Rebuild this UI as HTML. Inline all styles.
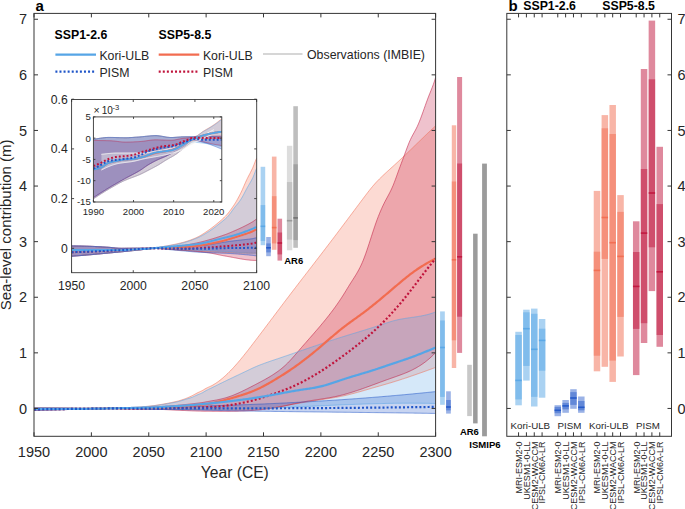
<!DOCTYPE html>
<html><head><meta charset="utf-8"><style>html,body{margin:0;padding:0;background:#fff;}svg{display:block;}</style></head><body>
<svg width="685" height="509" viewBox="0 0 685 509" font-family="Liberation Sans, sans-serif">
<rect x="0" y="0" width="685" height="509" fill="#fff"/>
<defs><clipPath id="cm"><rect x="34" y="13.4" width="401.6" height="422.90000000000003"/></clipPath><clipPath id="ci"><rect x="71.6" y="99.5" width="185.1" height="173.2"/></clipPath><clipPath id="cs"><rect x="93.4" y="116.9" width="128.4" height="85.1"/></clipPath></defs>
<g clip-path="url(#cm)">
<path d="M34.00,407.91 L35.15,407.91 L36.30,407.92 L37.44,407.92 L38.59,407.92 L39.74,407.93 L40.88,407.94 L42.03,407.94 L43.18,407.95 L44.33,407.96 L45.48,407.96 L46.62,407.97 L47.77,407.98 L48.92,407.99 L50.06,408.00 L51.21,408.01 L52.36,408.01 L53.51,408.03 L54.66,408.04 L55.80,408.05 L56.95,408.06 L58.10,408.08 L59.24,408.09 L60.39,408.11 L61.54,408.12 L62.69,408.14 L63.84,408.16 L64.98,408.17 L66.13,408.19 L67.28,408.21 L68.42,408.23 L69.57,408.25 L70.72,408.27 L71.87,408.30 L73.02,408.33 L74.16,408.36 L75.31,408.39 L76.46,408.41 L77.60,408.43 L78.75,408.45 L79.90,408.45 L81.05,408.45 L82.19,408.45 L83.34,408.45 L84.49,408.45 L85.64,408.44 L86.78,408.44 L87.93,408.44 L89.08,408.43 L90.23,408.43 L91.38,408.43 L92.52,408.43 L93.67,408.43 L94.82,408.42 L95.97,408.42 L97.11,408.42 L98.26,408.42 L99.41,408.42 L100.55,408.42 L101.70,408.43 L102.85,408.43 L104.00,408.43 L105.14,408.43 L106.29,408.43 L107.44,408.43 L108.59,408.43 L109.73,408.43 L110.88,408.41 L112.03,408.37 L113.18,408.33 L114.33,408.29 L115.47,408.23 L116.62,408.18 L117.77,408.12 L118.91,408.07 L120.06,408.01 L121.21,407.96 L122.36,407.91 L123.50,407.86 L124.65,407.81 L125.80,407.76 L126.95,407.71 L128.09,407.65 L129.24,407.59 L130.39,407.54 L131.54,407.47 L132.69,407.41 L133.83,407.35 L134.98,407.28 L136.13,407.21 L137.27,407.14 L138.42,407.07 L139.57,406.99 L140.72,406.91 L141.87,406.82 L143.01,406.73 L144.16,406.64 L145.31,406.54 L146.45,406.43 L147.60,406.32 L148.75,406.20 L149.90,406.08 L151.05,405.95 L152.19,405.81 L153.34,405.66 L154.49,405.50 L155.63,405.33 L156.78,405.16 L157.93,404.97 L159.08,404.79 L160.22,404.60 L161.37,404.41 L162.52,404.21 L163.67,404.01 L164.81,403.81 L165.96,403.60 L167.11,403.38 L168.26,403.16 L169.41,402.93 L170.55,402.70 L171.70,402.46 L172.85,402.22 L174.00,401.98 L175.14,401.73 L176.29,401.46 L177.44,401.18 L178.59,400.88 L179.73,400.55 L180.88,400.21 L182.03,399.84 L183.17,399.46 L184.32,399.05 L185.47,398.63 L186.62,398.19 L187.76,397.72 L188.91,397.22 L190.06,396.70 L191.21,396.16 L192.35,395.59 L193.50,394.98 L194.65,394.34 L195.80,393.71 L196.94,393.11 L198.09,392.54 L199.24,392.01 L200.39,391.49 L201.53,390.94 L202.68,390.35 L203.83,389.66 L204.98,388.94 L206.12,388.30 L207.27,387.74 L208.42,387.20 L209.57,386.68 L210.72,386.16 L211.86,385.62 L213.01,384.97 L214.16,384.28 L215.31,383.57 L216.45,382.81 L217.60,382.02 L218.75,381.19 L219.89,380.32 L221.04,379.42 L222.19,378.48 L223.34,377.51 L224.48,376.50 L225.63,375.47 L226.78,374.40 L227.93,373.30 L229.07,372.17 L230.22,371.02 L231.37,369.83 L232.52,368.62 L233.66,367.38 L234.81,366.12 L235.96,364.83 L237.11,363.52 L238.25,362.19 L239.40,360.83 L240.55,359.46 L241.70,358.07 L242.84,356.67 L243.99,355.24 L245.14,353.81 L246.29,352.36 L247.44,350.90 L248.58,349.43 L249.73,347.95 L250.88,346.46 L252.03,344.96 L253.17,343.46 L254.32,341.96 L255.47,340.45 L256.62,338.94 L257.76,337.43 L258.91,335.91 L260.06,334.40 L261.20,332.88 L262.35,331.36 L263.50,329.83 L264.65,328.31 L265.79,326.79 L266.94,325.26 L268.09,323.74 L269.24,322.21 L270.38,320.68 L271.53,319.15 L272.68,317.63 L273.83,316.10 L274.98,314.57 L276.12,313.05 L277.27,311.52 L278.42,310.00 L279.56,308.47 L280.71,306.95 L281.86,305.43 L283.01,303.91 L284.15,302.39 L285.30,300.88 L286.45,299.37 L287.60,297.86 L288.75,296.35 L289.89,294.84 L291.04,293.34 L292.19,291.83 L293.33,290.33 L294.48,288.84 L295.63,287.34 L296.78,285.84 L297.93,284.35 L299.07,282.86 L300.22,281.36 L301.37,279.87 L302.51,278.38 L303.66,276.89 L304.81,275.40 L305.96,273.91 L307.11,272.43 L308.25,270.94 L309.40,269.45 L310.55,267.96 L311.69,266.47 L312.84,264.99 L313.99,263.50 L315.14,262.01 L316.28,260.52 L317.43,259.03 L318.58,257.54 L319.73,256.04 L320.88,254.55 L322.02,253.06 L323.17,251.56 L324.32,250.06 L325.46,248.56 L326.61,247.06 L327.76,245.56 L328.91,244.06 L330.06,242.55 L331.20,241.04 L332.35,239.53 L333.50,238.02 L334.64,236.50 L335.79,234.98 L336.94,233.46 L338.09,231.94 L339.24,230.42 L340.38,228.89 L341.53,227.37 L342.68,225.84 L343.82,224.31 L344.97,222.78 L346.12,221.25 L347.27,219.72 L348.41,218.19 L349.56,216.65 L350.71,215.12 L351.86,213.59 L353.00,212.05 L354.15,210.52 L355.30,208.99 L356.45,207.46 L357.59,205.92 L358.74,204.39 L359.89,202.86 L361.04,201.33 L362.19,199.81 L363.33,198.28 L364.48,196.75 L365.63,195.23 L366.77,193.73 L367.92,192.23 L369.07,190.76 L370.22,189.31 L371.37,187.89 L372.51,186.50 L373.66,185.16 L374.81,183.85 L375.95,182.58 L377.10,181.36 L378.25,180.16 L379.40,179.00 L380.55,177.86 L381.69,176.75 L382.84,175.66 L383.99,174.58 L385.13,173.51 L386.28,172.45 L387.43,171.40 L388.58,170.36 L389.72,169.32 L390.87,168.28 L392.02,167.24 L393.17,166.20 L394.31,165.15 L395.46,164.10 L396.61,163.05 L397.76,161.99 L398.90,160.92 L400.05,159.85 L401.20,158.77 L402.35,157.69 L403.50,156.60 L404.64,155.51 L405.79,154.41 L406.94,153.32 L408.08,152.22 L409.23,151.11 L410.38,150.00 L411.53,148.90 L412.68,147.79 L413.82,146.67 L414.97,145.56 L416.12,144.45 L417.26,143.34 L418.41,142.22 L419.56,141.11 L420.71,140.00 L421.85,138.89 L423.00,137.78 L424.15,136.67 L425.30,135.57 L426.44,134.47 L427.59,133.37 L428.74,132.27 L429.89,131.18 L431.03,130.09 L432.18,129.00 L433.33,127.93 L434.48,126.85 L435.62,125.78 L435.62,367.43 L434.48,367.85 L433.33,368.27 L432.18,368.69 L431.03,369.11 L429.89,369.53 L428.74,369.95 L427.59,370.36 L426.44,370.78 L425.30,371.19 L424.15,371.60 L423.00,372.01 L421.85,372.42 L420.71,372.83 L419.56,373.24 L418.41,373.64 L417.26,374.04 L416.12,374.44 L414.97,374.84 L413.82,375.24 L412.68,375.64 L411.53,376.03 L410.38,376.42 L409.23,376.81 L408.08,377.20 L406.94,377.59 L405.79,377.97 L404.64,378.35 L403.50,378.73 L402.35,379.10 L401.20,379.48 L400.05,379.85 L398.90,380.21 L397.76,380.58 L396.61,380.94 L395.46,381.30 L394.31,381.66 L393.17,382.01 L392.02,382.36 L390.87,382.71 L389.72,383.05 L388.58,383.39 L387.43,383.73 L386.28,384.07 L385.13,384.40 L383.99,384.73 L382.84,385.06 L381.69,385.39 L380.55,385.72 L379.40,386.05 L378.25,386.38 L377.10,386.71 L375.95,387.04 L374.81,387.37 L373.66,387.70 L372.51,388.03 L371.37,388.37 L370.22,388.70 L369.07,389.04 L367.92,389.37 L366.77,389.71 L365.63,390.04 L364.48,390.37 L363.33,390.71 L362.19,391.04 L361.04,391.36 L359.89,391.69 L358.74,392.01 L357.59,392.33 L356.45,392.64 L355.30,392.95 L354.15,393.26 L353.00,393.56 L351.86,393.86 L350.71,394.15 L349.56,394.44 L348.41,394.72 L347.27,394.99 L346.12,395.26 L344.97,395.52 L343.82,395.77 L342.68,396.02 L341.53,396.25 L340.38,396.49 L339.24,396.71 L338.09,396.93 L336.94,397.15 L335.79,397.35 L334.64,397.56 L333.50,397.76 L332.35,397.95 L331.20,398.15 L330.06,398.34 L328.91,398.52 L327.76,398.71 L326.61,398.89 L325.46,399.07 L324.32,399.25 L323.17,399.42 L322.02,399.60 L320.88,399.78 L319.73,399.95 L318.58,400.13 L317.43,400.31 L316.28,400.48 L315.14,400.66 L313.99,400.84 L312.84,401.02 L311.69,401.20 L310.55,401.38 L309.40,401.56 L308.25,401.74 L307.11,401.92 L305.96,402.11 L304.81,402.30 L303.66,402.48 L302.51,402.67 L301.37,402.86 L300.22,403.06 L299.07,403.25 L297.93,403.45 L296.78,403.65 L295.63,403.85 L294.48,404.05 L293.33,404.25 L292.19,404.45 L291.04,404.65 L289.89,404.85 L288.75,405.05 L287.60,405.24 L286.45,405.43 L285.30,405.62 L284.15,405.81 L283.01,406.00 L281.86,406.18 L280.71,406.35 L279.56,406.53 L278.42,406.70 L277.27,406.87 L276.12,407.03 L274.98,407.19 L273.83,407.34 L272.68,407.49 L271.53,407.64 L270.38,407.78 L269.24,407.91 L268.09,408.04 L266.94,408.16 L265.79,408.28 L264.65,408.39 L263.50,408.50 L262.35,408.60 L261.20,408.69 L260.06,408.78 L258.91,408.87 L257.76,408.94 L256.62,409.02 L255.47,409.08 L254.32,409.15 L253.17,409.20 L252.03,409.26 L250.88,409.30 L249.73,409.35 L248.58,409.39 L247.44,409.42 L246.29,409.46 L245.14,409.49 L243.99,409.51 L242.84,409.53 L241.70,409.55 L240.55,409.57 L239.40,409.58 L238.25,409.59 L237.11,409.60 L235.96,409.61 L234.81,409.61 L233.66,409.61 L232.52,409.61 L231.37,409.61 L230.22,409.61 L229.07,409.61 L227.93,409.60 L226.78,409.60 L225.63,409.59 L224.48,409.59 L223.34,409.58 L222.19,409.57 L221.04,409.57 L219.89,409.56 L218.75,409.55 L217.60,409.55 L216.45,409.54 L215.31,409.54 L214.16,409.53 L213.01,409.53 L211.86,409.53 L210.72,409.54 L209.57,409.54 L208.42,409.55 L207.27,409.55 L206.12,409.56 L204.98,409.56 L203.83,409.56 L202.68,409.56 L201.53,409.55 L200.39,409.55 L199.24,409.54 L198.09,409.54 L196.94,409.53 L195.80,409.52 L194.65,409.51 L193.50,409.50 L192.35,409.50 L191.21,409.49 L190.06,409.47 L188.91,409.46 L187.76,409.45 L186.62,409.44 L185.47,409.43 L184.32,409.42 L183.17,409.40 L182.03,409.39 L180.88,409.38 L179.73,409.37 L178.59,409.35 L177.44,409.34 L176.29,409.33 L175.14,409.32 L174.00,409.31 L172.85,409.30 L171.70,409.28 L170.55,409.27 L169.41,409.26 L168.26,409.25 L167.11,409.24 L165.96,409.23 L164.81,409.22 L163.67,409.20 L162.52,409.19 L161.37,409.18 L160.22,409.17 L159.08,409.16 L157.93,409.14 L156.78,409.13 L155.63,409.12 L154.49,409.10 L153.34,409.09 L152.19,409.08 L151.05,409.07 L149.90,409.05 L148.75,409.04 L147.60,409.02 L146.45,409.01 L145.31,409.00 L144.16,408.98 L143.01,408.97 L141.87,408.95 L140.72,408.94 L139.57,408.92 L138.42,408.91 L137.27,408.89 L136.13,408.88 L134.98,408.86 L133.83,408.84 L132.69,408.82 L131.54,408.80 L130.39,408.78 L129.24,408.76 L128.09,408.73 L126.95,408.71 L125.80,408.69 L124.65,408.67 L123.50,408.64 L122.36,408.62 L121.21,408.60 L120.06,408.58 L118.91,408.56 L117.77,408.54 L116.62,408.52 L115.47,408.51 L114.33,408.49 L113.18,408.48 L112.03,408.47 L110.88,408.47 L109.73,408.46 L108.59,408.46 L107.44,408.47 L106.29,408.51 L105.14,408.55 L104.00,408.60 L102.85,408.64 L101.70,408.68 L100.55,408.72 L99.41,408.76 L98.26,408.79 L97.11,408.83 L95.97,408.85 L94.82,408.88 L93.67,408.91 L92.52,408.93 L91.38,408.96 L90.23,408.99 L89.08,409.02 L87.93,409.05 L86.78,409.08 L85.64,409.10 L84.49,409.13 L83.34,409.16 L82.19,409.19 L81.05,409.22 L79.90,409.25 L78.75,409.27 L77.60,409.30 L76.46,409.33 L75.31,409.35 L74.16,409.38 L73.02,409.40 L71.87,409.43 L70.72,409.45 L69.57,409.48 L68.42,409.51 L67.28,409.53 L66.13,409.56 L64.98,409.59 L63.84,409.61 L62.69,409.64 L61.54,409.67 L60.39,409.69 L59.24,409.72 L58.10,409.74 L56.95,409.77 L55.80,409.80 L54.66,409.82 L53.51,409.85 L52.36,409.87 L51.21,409.90 L50.06,409.92 L48.92,409.94 L47.77,409.97 L46.62,409.99 L45.48,410.01 L44.33,410.04 L43.18,410.06 L42.03,410.08 L40.88,410.10 L39.74,410.12 L38.59,410.15 L37.44,410.17 L36.30,410.19 L35.15,410.21 L34.00,410.23 Z" fill="rgb(242,108,80)" fill-opacity="0.25" stroke="none"/>
<path d="M34.00,407.91 L35.15,407.91 L36.30,407.92 L37.44,407.92 L38.59,407.92 L39.74,407.93 L40.88,407.94 L42.03,407.94 L43.18,407.95 L44.33,407.96 L45.48,407.96 L46.62,407.97 L47.77,407.98 L48.92,407.99 L50.06,408.00 L51.21,408.01 L52.36,408.01 L53.51,408.03 L54.66,408.04 L55.80,408.05 L56.95,408.06 L58.10,408.08 L59.24,408.09 L60.39,408.11 L61.54,408.12 L62.69,408.14 L63.84,408.16 L64.98,408.17 L66.13,408.19 L67.28,408.21 L68.42,408.23 L69.57,408.25 L70.72,408.27 L71.87,408.30 L73.02,408.33 L74.16,408.36 L75.31,408.39 L76.46,408.41 L77.60,408.43 L78.75,408.45 L79.90,408.45 L81.05,408.45 L82.19,408.45 L83.34,408.45 L84.49,408.45 L85.64,408.44 L86.78,408.44 L87.93,408.44 L89.08,408.43 L90.23,408.43 L91.38,408.43 L92.52,408.43 L93.67,408.43 L94.82,408.42 L95.97,408.42 L97.11,408.42 L98.26,408.42 L99.41,408.42 L100.55,408.42 L101.70,408.43 L102.85,408.43 L104.00,408.43 L105.14,408.43 L106.29,408.43 L107.44,408.43 L108.59,408.43 L109.73,408.43 L110.88,408.43 L112.03,408.42 L113.18,408.41 L114.33,408.40 L115.47,408.39 L116.62,408.38 L117.77,408.36 L118.91,408.34 L120.06,408.33 L121.21,408.31 L122.36,408.29 L123.50,408.27 L124.65,408.25 L125.80,408.23 L126.95,408.21 L128.09,408.18 L129.24,408.15 L130.39,408.12 L131.54,408.08 L132.69,408.05 L133.83,408.01 L134.98,407.96 L136.13,407.92 L137.27,407.87 L138.42,407.82 L139.57,407.77 L140.72,407.72 L141.87,407.67 L143.01,407.62 L144.16,407.56 L145.31,407.51 L146.45,407.45 L147.60,407.39 L148.75,407.34 L149.90,407.28 L151.05,407.22 L152.19,407.16 L153.34,407.09 L154.49,407.03 L155.63,406.96 L156.78,406.89 L157.93,406.82 L159.08,406.74 L160.22,406.67 L161.37,406.59 L162.52,406.51 L163.67,406.43 L164.81,406.34 L165.96,406.26 L167.11,406.17 L168.26,406.09 L169.41,406.00 L170.55,405.91 L171.70,405.82 L172.85,405.72 L174.00,405.63 L175.14,405.54 L176.29,405.44 L177.44,405.34 L178.59,405.24 L179.73,405.13 L180.88,405.02 L182.03,404.91 L183.17,404.79 L184.32,404.67 L185.47,404.54 L186.62,404.42 L187.76,404.30 L188.91,404.17 L190.06,404.05 L191.21,403.92 L192.35,403.79 L193.50,403.66 L194.65,403.52 L195.80,403.39 L196.94,403.24 L198.09,403.10 L199.24,402.95 L200.39,402.80 L201.53,402.64 L202.68,402.48 L203.83,402.29 L204.98,402.08 L206.12,401.87 L207.27,401.65 L208.42,401.44 L209.57,401.22 L210.72,401.01 L211.86,400.81 L213.01,400.61 L214.16,400.41 L215.31,400.20 L216.45,399.99 L217.60,399.76 L218.75,399.53 L219.89,399.28 L221.04,399.02 L222.19,398.74 L223.34,398.45 L224.48,398.15 L225.63,397.82 L226.78,397.48 L227.93,397.11 L229.07,396.73 L230.22,396.33 L231.37,395.91 L232.52,395.48 L233.66,395.03 L234.81,394.56 L235.96,394.08 L237.11,393.59 L238.25,393.08 L239.40,392.56 L240.55,392.03 L241.70,391.50 L242.84,390.95 L243.99,390.39 L245.14,389.83 L246.29,389.26 L247.44,388.68 L248.58,388.10 L249.73,387.51 L250.88,386.92 L252.03,386.33 L253.17,385.73 L254.32,385.14 L255.47,384.54 L256.62,383.94 L257.76,383.34 L258.91,382.74 L260.06,382.14 L261.20,381.53 L262.35,380.91 L263.50,380.29 L264.65,379.66 L265.79,379.02 L266.94,378.37 L268.09,377.70 L269.24,377.02 L270.38,376.33 L271.53,375.63 L272.68,374.90 L273.83,374.16 L274.98,373.40 L276.12,372.62 L277.27,371.82 L278.42,370.99 L279.56,370.14 L280.71,369.25 L281.86,368.33 L283.01,367.37 L284.15,366.37 L285.30,365.32 L286.45,364.23 L287.60,363.10 L288.75,361.92 L289.89,360.72 L291.04,359.49 L292.19,358.23 L293.33,356.95 L294.48,355.65 L295.63,354.33 L296.78,353.01 L297.93,351.67 L299.07,350.34 L300.22,349.01 L301.37,347.68 L302.51,346.35 L303.66,345.03 L304.81,343.72 L305.96,342.41 L307.11,341.10 L308.25,339.79 L309.40,338.48 L310.55,337.17 L311.69,335.86 L312.84,334.55 L313.99,333.24 L315.14,331.91 L316.28,330.59 L317.43,329.25 L318.58,327.91 L319.73,326.57 L320.88,325.21 L322.02,323.84 L323.17,322.46 L324.32,321.07 L325.46,319.66 L326.61,318.24 L327.76,316.80 L328.91,315.35 L330.06,313.87 L331.20,312.38 L332.35,310.86 L333.50,309.32 L334.64,307.75 L335.79,306.16 L336.94,304.54 L338.09,302.89 L339.24,301.21 L340.38,299.49 L341.53,297.75 L342.68,295.97 L343.82,294.15 L344.97,292.30 L346.12,290.42 L347.27,288.54 L348.41,286.66 L349.56,284.80 L350.71,282.97 L351.86,281.18 L353.00,279.40 L354.15,277.61 L355.30,275.78 L356.45,273.89 L357.59,271.92 L358.74,269.84 L359.89,267.63 L361.04,265.27 L362.19,262.73 L363.33,259.99 L364.48,257.03 L365.63,253.90 L366.77,250.61 L367.92,247.20 L369.07,243.71 L370.22,240.17 L371.37,236.60 L372.51,233.05 L373.66,229.55 L374.81,226.13 L375.95,222.82 L377.10,219.65 L378.25,216.63 L379.40,213.76 L380.55,211.02 L381.69,208.40 L382.84,205.91 L383.99,203.54 L385.13,201.28 L386.28,199.11 L387.43,196.98 L388.58,194.84 L389.72,192.65 L390.87,190.36 L392.02,187.92 L393.17,185.28 L394.31,182.40 L395.46,179.32 L396.61,176.13 L397.76,172.93 L398.90,169.77 L400.05,166.66 L401.20,163.59 L402.35,160.52 L403.50,157.45 L404.64,154.34 L405.79,151.21 L406.94,148.12 L408.08,145.13 L409.23,142.28 L410.38,139.66 L411.53,137.29 L412.68,135.12 L413.82,133.04 L414.97,130.98 L416.12,128.82 L417.26,126.49 L418.41,123.91 L419.56,121.12 L420.71,118.16 L421.85,115.07 L423.00,111.89 L424.15,108.67 L425.30,105.43 L426.44,102.23 L427.59,99.11 L428.74,96.10 L429.89,93.22 L431.03,90.40 L432.18,87.52 L433.33,84.47 L434.48,81.13 L435.62,77.38 L435.62,352.56 L434.48,353.76 L433.33,354.92 L432.18,356.03 L431.03,357.11 L429.89,358.14 L428.74,359.14 L427.59,360.10 L426.44,361.02 L425.30,361.91 L424.15,362.77 L423.00,363.59 L421.85,364.38 L420.71,365.15 L419.56,365.88 L418.41,366.58 L417.26,367.26 L416.12,367.92 L414.97,368.55 L413.82,369.15 L412.68,369.74 L411.53,370.30 L410.38,370.85 L409.23,371.38 L408.08,371.89 L406.94,372.38 L405.79,372.86 L404.64,373.33 L403.50,373.78 L402.35,374.23 L401.20,374.66 L400.05,375.09 L398.90,375.51 L397.76,375.92 L396.61,376.33 L395.46,376.74 L394.31,377.14 L393.17,377.54 L392.02,377.94 L390.87,378.34 L389.72,378.75 L388.58,379.16 L387.43,379.57 L386.28,379.98 L385.13,380.40 L383.99,380.82 L382.84,381.24 L381.69,381.66 L380.55,382.08 L379.40,382.51 L378.25,382.93 L377.10,383.36 L375.95,383.78 L374.81,384.21 L373.66,384.63 L372.51,385.05 L371.37,385.48 L370.22,385.90 L369.07,386.32 L367.92,386.73 L366.77,387.15 L365.63,387.56 L364.48,387.97 L363.33,388.38 L362.19,388.79 L361.04,389.19 L359.89,389.58 L358.74,389.97 L357.59,390.36 L356.45,390.74 L355.30,391.12 L354.15,391.49 L353.00,391.86 L351.86,392.22 L350.71,392.58 L349.56,392.92 L348.41,393.27 L347.27,393.60 L346.12,393.93 L344.97,394.25 L343.82,394.56 L342.68,394.86 L341.53,395.15 L340.38,395.44 L339.24,395.72 L338.09,395.98 L336.94,396.24 L335.79,396.49 L334.64,396.73 L333.50,396.96 L332.35,397.18 L331.20,397.40 L330.06,397.61 L328.91,397.81 L327.76,398.01 L326.61,398.20 L325.46,398.39 L324.32,398.58 L323.17,398.76 L322.02,398.94 L320.88,399.12 L319.73,399.30 L318.58,399.47 L317.43,399.65 L316.28,399.82 L315.14,400.00 L313.99,400.18 L312.84,400.36 L311.69,400.54 L310.55,400.72 L309.40,400.90 L308.25,401.09 L307.11,401.28 L305.96,401.48 L304.81,401.68 L303.66,401.88 L302.51,402.10 L301.37,402.31 L300.22,402.54 L299.07,402.77 L297.93,403.00 L296.78,403.24 L295.63,403.49 L294.48,403.74 L293.33,403.99 L292.19,404.25 L291.04,404.50 L289.89,404.76 L288.75,405.02 L287.60,405.27 L286.45,405.52 L285.30,405.77 L284.15,406.02 L283.01,406.26 L281.86,406.50 L280.71,406.73 L279.56,406.95 L278.42,407.17 L277.27,407.38 L276.12,407.58 L274.98,407.78 L273.83,407.97 L272.68,408.15 L271.53,408.33 L270.38,408.50 L269.24,408.66 L268.09,408.82 L266.94,408.97 L265.79,409.12 L264.65,409.26 L263.50,409.40 L262.35,409.53 L261.20,409.65 L260.06,409.77 L258.91,409.88 L257.76,409.99 L256.62,410.09 L255.47,410.19 L254.32,410.29 L253.17,410.38 L252.03,410.46 L250.88,410.54 L249.73,410.61 L248.58,410.68 L247.44,410.75 L246.29,410.81 L245.14,410.87 L243.99,410.93 L242.84,410.98 L241.70,411.02 L240.55,411.07 L239.40,411.10 L238.25,411.14 L237.11,411.17 L235.96,411.20 L234.81,411.23 L233.66,411.25 L232.52,411.27 L231.37,411.29 L230.22,411.30 L229.07,411.31 L227.93,411.32 L226.78,411.33 L225.63,411.33 L224.48,411.34 L223.34,411.33 L222.19,411.33 L221.04,411.33 L219.89,411.32 L218.75,411.31 L217.60,411.30 L216.45,411.29 L215.31,411.28 L214.16,411.27 L213.01,411.25 L211.86,411.23 L210.72,411.21 L209.57,411.19 L208.42,411.18 L207.27,411.17 L206.12,411.16 L204.98,411.16 L203.83,411.16 L202.68,411.15 L201.53,411.13 L200.39,411.11 L199.24,411.08 L198.09,411.05 L196.94,411.02 L195.80,410.98 L194.65,410.94 L193.50,410.90 L192.35,410.86 L191.21,410.81 L190.06,410.76 L188.91,410.71 L187.76,410.66 L186.62,410.61 L185.47,410.56 L184.32,410.51 L183.17,410.45 L182.03,410.40 L180.88,410.35 L179.73,410.30 L178.59,410.25 L177.44,410.20 L176.29,410.15 L175.14,410.11 L174.00,410.05 L172.85,410.00 L171.70,409.94 L170.55,409.88 L169.41,409.82 L168.26,409.76 L167.11,409.70 L165.96,409.65 L164.81,409.59 L163.67,409.54 L162.52,409.50 L161.37,409.46 L160.22,409.42 L159.08,409.39 L157.93,409.35 L156.78,409.32 L155.63,409.29 L154.49,409.26 L153.34,409.23 L152.19,409.20 L151.05,409.18 L149.90,409.15 L148.75,409.12 L147.60,409.10 L146.45,409.07 L145.31,409.05 L144.16,409.03 L143.01,409.00 L141.87,408.98 L140.72,408.96 L139.57,408.94 L138.42,408.92 L137.27,408.89 L136.13,408.87 L134.98,408.85 L133.83,408.83 L132.69,408.81 L131.54,408.78 L130.39,408.76 L129.24,408.73 L128.09,408.71 L126.95,408.69 L125.80,408.67 L124.65,408.64 L123.50,408.62 L122.36,408.60 L121.21,408.58 L120.06,408.56 L118.91,408.55 L117.77,408.53 L116.62,408.51 L115.47,408.50 L114.33,408.49 L113.18,408.48 L112.03,408.47 L110.88,408.47 L109.73,408.46 L108.59,408.46 L107.44,408.47 L106.29,408.51 L105.14,408.55 L104.00,408.60 L102.85,408.64 L101.70,408.68 L100.55,408.72 L99.41,408.76 L98.26,408.79 L97.11,408.83 L95.97,408.85 L94.82,408.88 L93.67,408.91 L92.52,408.93 L91.38,408.96 L90.23,408.99 L89.08,409.02 L87.93,409.05 L86.78,409.08 L85.64,409.10 L84.49,409.13 L83.34,409.16 L82.19,409.19 L81.05,409.22 L79.90,409.25 L78.75,409.27 L77.60,409.30 L76.46,409.33 L75.31,409.35 L74.16,409.38 L73.02,409.40 L71.87,409.43 L70.72,409.45 L69.57,409.48 L68.42,409.51 L67.28,409.53 L66.13,409.56 L64.98,409.59 L63.84,409.61 L62.69,409.64 L61.54,409.67 L60.39,409.69 L59.24,409.72 L58.10,409.74 L56.95,409.77 L55.80,409.80 L54.66,409.82 L53.51,409.85 L52.36,409.87 L51.21,409.90 L50.06,409.92 L48.92,409.94 L47.77,409.97 L46.62,409.99 L45.48,410.01 L44.33,410.04 L43.18,410.06 L42.03,410.08 L40.88,410.10 L39.74,410.12 L38.59,410.15 L37.44,410.17 L36.30,410.19 L35.15,410.21 L34.00,410.23 Z" fill="rgb(192,20,60)" fill-opacity="0.26" stroke="none"/>
<path d="M34.00,407.91 L35.15,407.91 L36.30,407.92 L37.44,407.92 L38.59,407.92 L39.74,407.93 L40.88,407.94 L42.03,407.94 L43.18,407.95 L44.33,407.96 L45.48,407.96 L46.62,407.97 L47.77,407.98 L48.92,407.99 L50.06,408.00 L51.21,408.01 L52.36,408.01 L53.51,408.03 L54.66,408.04 L55.80,408.05 L56.95,408.06 L58.10,408.08 L59.24,408.09 L60.39,408.11 L61.54,408.12 L62.69,408.14 L63.84,408.16 L64.98,408.17 L66.13,408.19 L67.28,408.21 L68.42,408.23 L69.57,408.25 L70.72,408.27 L71.87,408.30 L73.02,408.33 L74.16,408.36 L75.31,408.39 L76.46,408.41 L77.60,408.43 L78.75,408.45 L79.90,408.45 L81.05,408.45 L82.19,408.45 L83.34,408.45 L84.49,408.45 L85.64,408.44 L86.78,408.44 L87.93,408.44 L89.08,408.43 L90.23,408.43 L91.38,408.43 L92.52,408.43 L93.67,408.43 L94.82,408.42 L95.97,408.42 L97.11,408.42 L98.26,408.42 L99.41,408.42 L100.55,408.42 L101.70,408.43 L102.85,408.43 L104.00,408.43 L105.14,408.43 L106.29,408.43 L107.44,408.43 L108.59,408.43 L109.73,408.43 L110.88,408.41 L112.03,408.38 L113.18,408.34 L114.33,408.29 L115.47,408.24 L116.62,408.19 L117.77,408.14 L118.91,408.08 L120.06,408.04 L121.21,407.99 L122.36,407.95 L123.50,407.91 L124.65,407.87 L125.80,407.83 L126.95,407.79 L128.09,407.74 L129.24,407.69 L130.39,407.64 L131.54,407.59 L132.69,407.53 L133.83,407.47 L134.98,407.40 L136.13,407.33 L137.27,407.26 L138.42,407.18 L139.57,407.10 L140.72,407.02 L141.87,406.94 L143.01,406.85 L144.16,406.76 L145.31,406.66 L146.45,406.56 L147.60,406.46 L148.75,406.35 L149.90,406.23 L151.05,406.11 L152.19,405.99 L153.34,405.86 L154.49,405.71 L155.63,405.57 L156.78,405.41 L157.93,405.25 L159.08,405.09 L160.22,404.92 L161.37,404.75 L162.52,404.57 L163.67,404.38 L164.81,404.18 L165.96,403.98 L167.11,403.78 L168.26,403.56 L169.41,403.35 L170.55,403.13 L171.70,402.91 L172.85,402.70 L174.00,402.48 L175.14,402.25 L176.29,402.02 L177.44,401.77 L178.59,401.50 L179.73,401.21 L180.88,400.88 L182.03,400.51 L183.17,400.12 L184.32,399.74 L185.47,399.37 L186.62,399.03 L187.76,398.70 L188.91,398.36 L190.06,398.00 L191.21,397.61 L192.35,397.16 L193.50,396.67 L194.65,396.15 L195.80,395.62 L196.94,395.10 L198.09,394.61 L199.24,394.14 L200.39,393.66 L201.53,393.16 L202.68,392.61 L203.83,391.94 L204.98,391.22 L206.12,390.56 L207.27,389.97 L208.42,389.40 L209.57,388.84 L210.72,388.29 L211.86,387.75 L213.01,387.18 L214.16,386.61 L215.31,386.04 L216.45,385.48 L217.60,384.91 L218.75,384.34 L219.89,383.78 L221.04,383.21 L222.19,382.65 L223.34,382.09 L224.48,381.53 L225.63,380.97 L226.78,380.41 L227.93,379.86 L229.07,379.31 L230.22,378.75 L231.37,378.21 L232.52,377.66 L233.66,377.11 L234.81,376.57 L235.96,376.02 L237.11,375.48 L238.25,374.93 L239.40,374.39 L240.55,373.85 L241.70,373.30 L242.84,372.76 L243.99,372.21 L245.14,371.67 L246.29,371.12 L247.44,370.57 L248.58,370.02 L249.73,369.47 L250.88,368.93 L252.03,368.39 L253.17,367.86 L254.32,367.33 L255.47,366.83 L256.62,366.33 L257.76,365.85 L258.91,365.39 L260.06,364.93 L261.20,364.49 L262.35,364.05 L263.50,363.63 L264.65,363.21 L265.79,362.80 L266.94,362.39 L268.09,361.99 L269.24,361.60 L270.38,361.21 L271.53,360.82 L272.68,360.43 L273.83,360.04 L274.98,359.66 L276.12,359.27 L277.27,358.88 L278.42,358.49 L279.56,358.10 L280.71,357.71 L281.86,357.32 L283.01,356.93 L284.15,356.54 L285.30,356.15 L286.45,355.75 L287.60,355.36 L288.75,354.97 L289.89,354.57 L291.04,354.18 L292.19,353.78 L293.33,353.39 L294.48,352.99 L295.63,352.60 L296.78,352.20 L297.93,351.81 L299.07,351.41 L300.22,351.02 L301.37,350.62 L302.51,350.23 L303.66,349.83 L304.81,349.44 L305.96,349.04 L307.11,348.65 L308.25,348.25 L309.40,347.86 L310.55,347.47 L311.69,347.07 L312.84,346.68 L313.99,346.29 L315.14,345.90 L316.28,345.51 L317.43,345.12 L318.58,344.73 L319.73,344.34 L320.88,343.96 L322.02,343.57 L323.17,343.18 L324.32,342.80 L325.46,342.42 L326.61,342.03 L327.76,341.65 L328.91,341.27 L330.06,340.89 L331.20,340.52 L332.35,340.14 L333.50,339.76 L334.64,339.39 L335.79,339.02 L336.94,338.65 L338.09,338.28 L339.24,337.91 L340.38,337.54 L341.53,337.18 L342.68,336.82 L343.82,336.46 L344.97,336.10 L346.12,335.74 L347.27,335.39 L348.41,335.03 L349.56,334.68 L350.71,334.33 L351.86,333.98 L353.00,333.63 L354.15,333.28 L355.30,332.93 L356.45,332.58 L357.59,332.23 L358.74,331.88 L359.89,331.53 L361.04,331.18 L362.19,330.83 L363.33,330.48 L364.48,330.13 L365.63,329.77 L366.77,329.42 L367.92,329.06 L369.07,328.70 L370.22,328.34 L371.37,327.98 L372.51,327.62 L373.66,327.25 L374.81,326.88 L375.95,326.51 L377.10,326.14 L378.25,325.76 L379.40,325.38 L380.55,324.99 L381.69,324.60 L382.84,324.21 L383.99,323.82 L385.13,323.44 L386.28,323.05 L387.43,322.67 L388.58,322.30 L389.72,321.94 L390.87,321.58 L392.02,321.24 L393.17,320.92 L394.31,320.61 L395.46,320.31 L396.61,320.04 L397.76,319.78 L398.90,319.53 L400.05,319.30 L401.20,319.09 L402.35,318.88 L403.50,318.68 L404.64,318.50 L405.79,318.32 L406.94,318.14 L408.08,317.97 L409.23,317.81 L410.38,317.65 L411.53,317.48 L412.68,317.32 L413.82,317.16 L414.97,316.99 L416.12,316.82 L417.26,316.64 L418.41,316.45 L419.56,316.26 L420.71,316.06 L421.85,315.84 L423.00,315.62 L424.15,315.38 L425.30,315.12 L426.44,314.85 L427.59,314.56 L428.74,314.25 L429.89,313.93 L431.03,313.58 L432.18,313.20 L433.33,312.81 L434.48,312.38 L435.62,311.94 L435.62,403.52 L434.48,403.50 L433.33,403.47 L432.18,403.44 L431.03,403.42 L429.89,403.39 L428.74,403.37 L427.59,403.35 L426.44,403.33 L425.30,403.32 L424.15,403.30 L423.00,403.29 L421.85,403.27 L420.71,403.26 L419.56,403.25 L418.41,403.24 L417.26,403.23 L416.12,403.23 L414.97,403.22 L413.82,403.22 L412.68,403.21 L411.53,403.21 L410.38,403.21 L409.23,403.21 L408.08,403.21 L406.94,403.22 L405.79,403.22 L404.64,403.23 L403.50,403.23 L402.35,403.24 L401.20,403.25 L400.05,403.26 L398.90,403.27 L397.76,403.28 L396.61,403.29 L395.46,403.31 L394.31,403.32 L393.17,403.34 L392.02,403.36 L390.87,403.37 L389.72,403.39 L388.58,403.41 L387.43,403.43 L386.28,403.46 L385.13,403.48 L383.99,403.50 L382.84,403.53 L381.69,403.55 L380.55,403.58 L379.40,403.61 L378.25,403.63 L377.10,403.66 L375.95,403.69 L374.81,403.72 L373.66,403.75 L372.51,403.79 L371.37,403.82 L370.22,403.85 L369.07,403.89 L367.92,403.92 L366.77,403.96 L365.63,403.99 L364.48,404.03 L363.33,404.07 L362.19,404.11 L361.04,404.15 L359.89,404.18 L358.74,404.22 L357.59,404.27 L356.45,404.31 L355.30,404.35 L354.15,404.39 L353.00,404.43 L351.86,404.48 L350.71,404.52 L349.56,404.57 L348.41,404.61 L347.27,404.66 L346.12,404.70 L344.97,404.75 L343.82,404.80 L342.68,404.84 L341.53,404.89 L340.38,404.94 L339.24,404.99 L338.09,405.04 L336.94,405.09 L335.79,405.14 L334.64,405.19 L333.50,405.24 L332.35,405.29 L331.20,405.34 L330.06,405.39 L328.91,405.44 L327.76,405.49 L326.61,405.54 L325.46,405.60 L324.32,405.65 L323.17,405.70 L322.02,405.75 L320.88,405.81 L319.73,405.86 L318.58,405.91 L317.43,405.97 L316.28,406.02 L315.14,406.07 L313.99,406.13 L312.84,406.18 L311.69,406.23 L310.55,406.29 L309.40,406.34 L308.25,406.39 L307.11,406.45 L305.96,406.50 L304.81,406.55 L303.66,406.61 L302.51,406.66 L301.37,406.72 L300.22,406.77 L299.07,406.82 L297.93,406.88 L296.78,406.93 L295.63,406.98 L294.48,407.03 L293.33,407.09 L292.19,407.14 L291.04,407.19 L289.89,407.24 L288.75,407.30 L287.60,407.35 L286.45,407.40 L285.30,407.45 L284.15,407.50 L283.01,407.55 L281.86,407.60 L280.71,407.65 L279.56,407.70 L278.42,407.75 L277.27,407.80 L276.12,407.85 L274.98,407.90 L273.83,407.95 L272.68,407.99 L271.53,408.04 L270.38,408.09 L269.24,408.13 L268.09,408.18 L266.94,408.23 L265.79,408.27 L264.65,408.32 L263.50,408.36 L262.35,408.40 L261.20,408.45 L260.06,408.49 L258.91,408.53 L257.76,408.57 L256.62,408.61 L255.47,408.65 L254.32,408.69 L253.17,408.73 L252.03,408.77 L250.88,408.81 L249.73,408.84 L248.58,408.88 L247.44,408.91 L246.29,408.95 L245.14,408.98 L243.99,409.02 L242.84,409.05 L241.70,409.08 L240.55,409.11 L239.40,409.14 L238.25,409.17 L237.11,409.20 L235.96,409.23 L234.81,409.25 L233.66,409.28 L232.52,409.31 L231.37,409.33 L230.22,409.35 L229.07,409.38 L227.93,409.40 L226.78,409.42 L225.63,409.44 L224.48,409.46 L223.34,409.47 L222.19,409.49 L221.04,409.51 L219.89,409.52 L218.75,409.53 L217.60,409.55 L216.45,409.56 L215.31,409.57 L214.16,409.58 L213.01,409.59 L211.86,409.59 L210.72,409.59 L209.57,409.59 L208.42,409.59 L207.27,409.59 L206.12,409.58 L204.98,409.57 L203.83,409.56 L202.68,409.55 L201.53,409.55 L200.39,409.54 L199.24,409.53 L198.09,409.52 L196.94,409.50 L195.80,409.49 L194.65,409.47 L193.50,409.46 L192.35,409.44 L191.21,409.42 L190.06,409.41 L188.91,409.39 L187.76,409.37 L186.62,409.35 L185.47,409.33 L184.32,409.31 L183.17,409.29 L182.03,409.27 L180.88,409.25 L179.73,409.23 L178.59,409.21 L177.44,409.19 L176.29,409.18 L175.14,409.16 L174.00,409.15 L172.85,409.13 L171.70,409.12 L170.55,409.10 L169.41,409.09 L168.26,409.08 L167.11,409.07 L165.96,409.06 L164.81,409.05 L163.67,409.03 L162.52,409.02 L161.37,409.01 L160.22,409.00 L159.08,408.99 L157.93,408.98 L156.78,408.97 L155.63,408.96 L154.49,408.95 L153.34,408.94 L152.19,408.93 L151.05,408.92 L149.90,408.91 L148.75,408.90 L147.60,408.88 L146.45,408.87 L145.31,408.86 L144.16,408.85 L143.01,408.84 L141.87,408.83 L140.72,408.82 L139.57,408.81 L138.42,408.80 L137.27,408.78 L136.13,408.77 L134.98,408.76 L133.83,408.74 L132.69,408.73 L131.54,408.71 L130.39,408.70 L129.24,408.68 L128.09,408.66 L126.95,408.64 L125.80,408.63 L124.65,408.61 L123.50,408.59 L122.36,408.58 L121.21,408.56 L120.06,408.55 L118.91,408.53 L117.77,408.52 L116.62,408.51 L115.47,408.49 L114.33,408.49 L113.18,408.48 L112.03,408.47 L110.88,408.47 L109.73,408.46 L108.59,408.46 L107.44,408.47 L106.29,408.51 L105.14,408.55 L104.00,408.60 L102.85,408.64 L101.70,408.68 L100.55,408.72 L99.41,408.76 L98.26,408.79 L97.11,408.83 L95.97,408.85 L94.82,408.88 L93.67,408.91 L92.52,408.93 L91.38,408.96 L90.23,408.99 L89.08,409.02 L87.93,409.05 L86.78,409.08 L85.64,409.10 L84.49,409.13 L83.34,409.16 L82.19,409.19 L81.05,409.22 L79.90,409.25 L78.75,409.27 L77.60,409.30 L76.46,409.33 L75.31,409.35 L74.16,409.38 L73.02,409.40 L71.87,409.43 L70.72,409.45 L69.57,409.48 L68.42,409.51 L67.28,409.53 L66.13,409.56 L64.98,409.59 L63.84,409.61 L62.69,409.64 L61.54,409.67 L60.39,409.69 L59.24,409.72 L58.10,409.74 L56.95,409.77 L55.80,409.80 L54.66,409.82 L53.51,409.85 L52.36,409.87 L51.21,409.90 L50.06,409.92 L48.92,409.94 L47.77,409.97 L46.62,409.99 L45.48,410.01 L44.33,410.04 L43.18,410.06 L42.03,410.08 L40.88,410.10 L39.74,410.12 L38.59,410.15 L37.44,410.17 L36.30,410.19 L35.15,410.21 L34.00,410.23 Z" fill="rgb(86,165,230)" fill-opacity="0.25" stroke="none"/>
<path d="M34.00,407.91 L35.15,407.91 L36.30,407.92 L37.44,407.92 L38.59,407.92 L39.74,407.93 L40.88,407.94 L42.03,407.94 L43.18,407.95 L44.33,407.96 L45.48,407.96 L46.62,407.97 L47.77,407.98 L48.92,407.99 L50.06,408.00 L51.21,408.01 L52.36,408.01 L53.51,408.03 L54.66,408.04 L55.80,408.05 L56.95,408.06 L58.10,408.08 L59.24,408.09 L60.39,408.11 L61.54,408.12 L62.69,408.14 L63.84,408.16 L64.98,408.17 L66.13,408.19 L67.28,408.21 L68.42,408.23 L69.57,408.25 L70.72,408.27 L71.87,408.30 L73.02,408.33 L74.16,408.36 L75.31,408.39 L76.46,408.41 L77.60,408.43 L78.75,408.45 L79.90,408.45 L81.05,408.45 L82.19,408.45 L83.34,408.45 L84.49,408.45 L85.64,408.44 L86.78,408.44 L87.93,408.44 L89.08,408.43 L90.23,408.43 L91.38,408.43 L92.52,408.43 L93.67,408.43 L94.82,408.42 L95.97,408.42 L97.11,408.42 L98.26,408.42 L99.41,408.42 L100.55,408.42 L101.70,408.43 L102.85,408.43 L104.00,408.43 L105.14,408.43 L106.29,408.43 L107.44,408.43 L108.59,408.43 L109.73,408.43 L110.88,408.43 L112.03,408.42 L113.18,408.42 L114.33,408.41 L115.47,408.40 L116.62,408.39 L117.77,408.37 L118.91,408.36 L120.06,408.35 L121.21,408.34 L122.36,408.32 L123.50,408.31 L124.65,408.30 L125.80,408.28 L126.95,408.27 L128.09,408.26 L129.24,408.25 L130.39,408.23 L131.54,408.22 L132.69,408.21 L133.83,408.19 L134.98,408.18 L136.13,408.17 L137.27,408.15 L138.42,408.14 L139.57,408.12 L140.72,408.11 L141.87,408.09 L143.01,408.07 L144.16,408.06 L145.31,408.04 L146.45,408.02 L147.60,408.00 L148.75,407.98 L149.90,407.96 L151.05,407.94 L152.19,407.92 L153.34,407.89 L154.49,407.87 L155.63,407.84 L156.78,407.81 L157.93,407.78 L159.08,407.74 L160.22,407.70 L161.37,407.66 L162.52,407.62 L163.67,407.58 L164.81,407.54 L165.96,407.49 L167.11,407.44 L168.26,407.40 L169.41,407.35 L170.55,407.30 L171.70,407.26 L172.85,407.21 L174.00,407.16 L175.14,407.12 L176.29,407.07 L177.44,407.03 L178.59,406.99 L179.73,406.95 L180.88,406.91 L182.03,406.87 L183.17,406.84 L184.32,406.80 L185.47,406.77 L186.62,406.73 L187.76,406.70 L188.91,406.67 L190.06,406.64 L191.21,406.61 L192.35,406.58 L193.50,406.55 L194.65,406.51 L195.80,406.48 L196.94,406.45 L198.09,406.42 L199.24,406.39 L200.39,406.35 L201.53,406.32 L202.68,406.28 L203.83,406.21 L204.98,406.14 L206.12,406.09 L207.27,406.02 L208.42,405.96 L209.57,405.90 L210.72,405.84 L211.86,405.78 L213.01,405.75 L214.16,405.72 L215.31,405.68 L216.45,405.65 L217.60,405.61 L218.75,405.58 L219.89,405.54 L221.04,405.51 L222.19,405.47 L223.34,405.44 L224.48,405.40 L225.63,405.36 L226.78,405.33 L227.93,405.29 L229.07,405.25 L230.22,405.21 L231.37,405.17 L232.52,405.14 L233.66,405.10 L234.81,405.06 L235.96,405.02 L237.11,404.98 L238.25,404.94 L239.40,404.90 L240.55,404.85 L241.70,404.81 L242.84,404.77 L243.99,404.73 L245.14,404.69 L246.29,404.64 L247.44,404.60 L248.58,404.56 L249.73,404.51 L250.88,404.47 L252.03,404.42 L253.17,404.38 L254.32,404.33 L255.47,404.29 L256.62,404.24 L257.76,404.19 L258.91,404.15 L260.06,404.10 L261.20,404.05 L262.35,404.00 L263.50,403.95 L264.65,403.90 L265.79,403.86 L266.94,403.81 L268.09,403.76 L269.24,403.70 L270.38,403.65 L271.53,403.60 L272.68,403.55 L273.83,403.50 L274.98,403.45 L276.12,403.39 L277.27,403.34 L278.42,403.29 L279.56,403.23 L280.71,403.18 L281.86,403.12 L283.01,403.07 L284.15,403.01 L285.30,402.96 L286.45,402.90 L287.60,402.84 L288.75,402.79 L289.89,402.73 L291.04,402.67 L292.19,402.61 L293.33,402.55 L294.48,402.49 L295.63,402.43 L296.78,402.37 L297.93,402.31 L299.07,402.25 L300.22,402.19 L301.37,402.13 L302.51,402.07 L303.66,402.00 L304.81,401.94 L305.96,401.88 L307.11,401.81 L308.25,401.75 L309.40,401.69 L310.55,401.62 L311.69,401.55 L312.84,401.49 L313.99,401.42 L315.14,401.35 L316.28,401.29 L317.43,401.22 L318.58,401.15 L319.73,401.08 L320.88,401.01 L322.02,400.94 L323.17,400.87 L324.32,400.80 L325.46,400.73 L326.61,400.66 L327.76,400.59 L328.91,400.51 L330.06,400.44 L331.20,400.37 L332.35,400.29 L333.50,400.22 L334.64,400.15 L335.79,400.07 L336.94,399.99 L338.09,399.92 L339.24,399.84 L340.38,399.76 L341.53,399.69 L342.68,399.61 L343.82,399.53 L344.97,399.45 L346.12,399.37 L347.27,399.29 L348.41,399.21 L349.56,399.13 L350.71,399.05 L351.86,398.97 L353.00,398.88 L354.15,398.80 L355.30,398.72 L356.45,398.63 L357.59,398.55 L358.74,398.46 L359.89,398.38 L361.04,398.29 L362.19,398.21 L363.33,398.12 L364.48,398.03 L365.63,397.94 L366.77,397.86 L367.92,397.77 L369.07,397.68 L370.22,397.59 L371.37,397.50 L372.51,397.41 L373.66,397.32 L374.81,397.22 L375.95,397.13 L377.10,397.04 L378.25,396.94 L379.40,396.85 L380.55,396.76 L381.69,396.66 L382.84,396.57 L383.99,396.47 L385.13,396.37 L386.28,396.28 L387.43,396.18 L388.58,396.08 L389.72,395.98 L390.87,395.88 L392.02,395.78 L393.17,395.68 L394.31,395.58 L395.46,395.48 L396.61,395.38 L397.76,395.28 L398.90,395.18 L400.05,395.07 L401.20,394.97 L402.35,394.86 L403.50,394.76 L404.64,394.65 L405.79,394.55 L406.94,394.44 L408.08,394.33 L409.23,394.23 L410.38,394.12 L411.53,394.01 L412.68,393.90 L413.82,393.79 L414.97,393.68 L416.12,393.57 L417.26,393.46 L418.41,393.35 L419.56,393.24 L420.71,393.12 L421.85,393.01 L423.00,392.89 L424.15,392.78 L425.30,392.67 L426.44,392.55 L427.59,392.43 L428.74,392.32 L429.89,392.20 L431.03,392.08 L432.18,391.96 L433.33,391.84 L434.48,391.72 L435.62,391.60 L435.62,413.46 L434.48,413.44 L433.33,413.42 L432.18,413.40 L431.03,413.39 L429.89,413.37 L428.74,413.35 L427.59,413.33 L426.44,413.31 L425.30,413.29 L424.15,413.27 L423.00,413.26 L421.85,413.24 L420.71,413.22 L419.56,413.20 L418.41,413.19 L417.26,413.17 L416.12,413.15 L414.97,413.14 L413.82,413.12 L412.68,413.10 L411.53,413.08 L410.38,413.07 L409.23,413.05 L408.08,413.04 L406.94,413.02 L405.79,413.00 L404.64,412.99 L403.50,412.97 L402.35,412.96 L401.20,412.94 L400.05,412.93 L398.90,412.91 L397.76,412.90 L396.61,412.88 L395.46,412.87 L394.31,412.85 L393.17,412.84 L392.02,412.82 L390.87,412.81 L389.72,412.79 L388.58,412.78 L387.43,412.76 L386.28,412.75 L385.13,412.73 L383.99,412.72 L382.84,412.71 L381.69,412.69 L380.55,412.68 L379.40,412.66 L378.25,412.65 L377.10,412.64 L375.95,412.62 L374.81,412.61 L373.66,412.60 L372.51,412.58 L371.37,412.57 L370.22,412.56 L369.07,412.54 L367.92,412.53 L366.77,412.52 L365.63,412.50 L364.48,412.49 L363.33,412.48 L362.19,412.46 L361.04,412.45 L359.89,412.44 L358.74,412.43 L357.59,412.41 L356.45,412.40 L355.30,412.39 L354.15,412.37 L353.00,412.36 L351.86,412.35 L350.71,412.34 L349.56,412.32 L348.41,412.31 L347.27,412.30 L346.12,412.28 L344.97,412.27 L343.82,412.26 L342.68,412.25 L341.53,412.23 L340.38,412.22 L339.24,412.21 L338.09,412.20 L336.94,412.18 L335.79,412.17 L334.64,412.16 L333.50,412.15 L332.35,412.13 L331.20,412.12 L330.06,412.11 L328.91,412.09 L327.76,412.08 L326.61,412.07 L325.46,412.06 L324.32,412.04 L323.17,412.03 L322.02,412.02 L320.88,412.00 L319.73,411.99 L318.58,411.98 L317.43,411.97 L316.28,411.95 L315.14,411.94 L313.99,411.93 L312.84,411.91 L311.69,411.90 L310.55,411.89 L309.40,411.87 L308.25,411.86 L307.11,411.85 L305.96,411.83 L304.81,411.82 L303.66,411.80 L302.51,411.79 L301.37,411.78 L300.22,411.76 L299.07,411.75 L297.93,411.73 L296.78,411.72 L295.63,411.71 L294.48,411.69 L293.33,411.68 L292.19,411.66 L291.04,411.65 L289.89,411.63 L288.75,411.62 L287.60,411.60 L286.45,411.59 L285.30,411.57 L284.15,411.56 L283.01,411.54 L281.86,411.53 L280.71,411.51 L279.56,411.50 L278.42,411.48 L277.27,411.47 L276.12,411.45 L274.98,411.43 L273.83,411.42 L272.68,411.40 L271.53,411.38 L270.38,411.37 L269.24,411.35 L268.09,411.33 L266.94,411.32 L265.79,411.30 L264.65,411.28 L263.50,411.27 L262.35,411.25 L261.20,411.23 L260.06,411.21 L258.91,411.20 L257.76,411.18 L256.62,411.16 L255.47,411.14 L254.32,411.12 L253.17,411.10 L252.03,411.09 L250.88,411.07 L249.73,411.05 L248.58,411.03 L247.44,411.01 L246.29,410.99 L245.14,410.97 L243.99,410.95 L242.84,410.93 L241.70,410.91 L240.55,410.89 L239.40,410.87 L238.25,410.85 L237.11,410.83 L235.96,410.80 L234.81,410.78 L233.66,410.76 L232.52,410.74 L231.37,410.72 L230.22,410.70 L229.07,410.67 L227.93,410.65 L226.78,410.63 L225.63,410.60 L224.48,410.58 L223.34,410.56 L222.19,410.53 L221.04,410.51 L219.89,410.49 L218.75,410.46 L217.60,410.44 L216.45,410.41 L215.31,410.39 L214.16,410.36 L213.01,410.34 L211.86,410.31 L210.72,410.28 L209.57,410.24 L208.42,410.21 L207.27,410.17 L206.12,410.14 L204.98,410.11 L203.83,410.08 L202.68,410.04 L201.53,410.02 L200.39,409.99 L199.24,409.97 L198.09,409.94 L196.94,409.91 L195.80,409.89 L194.65,409.86 L193.50,409.84 L192.35,409.81 L191.21,409.79 L190.06,409.77 L188.91,409.74 L187.76,409.72 L186.62,409.70 L185.47,409.68 L184.32,409.66 L183.17,409.64 L182.03,409.63 L180.88,409.61 L179.73,409.60 L178.59,409.58 L177.44,409.57 L176.29,409.56 L175.14,409.55 L174.00,409.54 L172.85,409.53 L171.70,409.52 L170.55,409.51 L169.41,409.50 L168.26,409.49 L167.11,409.48 L165.96,409.47 L164.81,409.46 L163.67,409.45 L162.52,409.44 L161.37,409.43 L160.22,409.42 L159.08,409.41 L157.93,409.39 L156.78,409.38 L155.63,409.37 L154.49,409.35 L153.34,409.34 L152.19,409.32 L151.05,409.31 L149.90,409.29 L148.75,409.26 L147.60,409.24 L146.45,409.22 L145.31,409.20 L144.16,409.17 L143.01,409.15 L141.87,409.12 L140.72,409.10 L139.57,409.07 L138.42,409.04 L137.27,409.02 L136.13,408.99 L134.98,408.97 L133.83,408.94 L132.69,408.92 L131.54,408.89 L130.39,408.87 L129.24,408.85 L128.09,408.82 L126.95,408.79 L125.80,408.76 L124.65,408.73 L123.50,408.71 L122.36,408.68 L121.21,408.65 L120.06,408.62 L118.91,408.60 L117.77,408.57 L116.62,408.55 L115.47,408.53 L114.33,408.51 L113.18,408.49 L112.03,408.48 L110.88,408.47 L109.73,408.46 L108.59,408.46 L107.44,408.47 L106.29,408.51 L105.14,408.55 L104.00,408.60 L102.85,408.64 L101.70,408.68 L100.55,408.72 L99.41,408.76 L98.26,408.79 L97.11,408.83 L95.97,408.85 L94.82,408.88 L93.67,408.91 L92.52,408.93 L91.38,408.96 L90.23,408.99 L89.08,409.02 L87.93,409.05 L86.78,409.08 L85.64,409.10 L84.49,409.13 L83.34,409.16 L82.19,409.19 L81.05,409.22 L79.90,409.25 L78.75,409.27 L77.60,409.30 L76.46,409.33 L75.31,409.35 L74.16,409.38 L73.02,409.40 L71.87,409.43 L70.72,409.45 L69.57,409.48 L68.42,409.51 L67.28,409.53 L66.13,409.56 L64.98,409.59 L63.84,409.61 L62.69,409.64 L61.54,409.67 L60.39,409.69 L59.24,409.72 L58.10,409.74 L56.95,409.77 L55.80,409.80 L54.66,409.82 L53.51,409.85 L52.36,409.87 L51.21,409.90 L50.06,409.92 L48.92,409.94 L47.77,409.97 L46.62,409.99 L45.48,410.01 L44.33,410.04 L43.18,410.06 L42.03,410.08 L40.88,410.10 L39.74,410.12 L38.59,410.15 L37.44,410.17 L36.30,410.19 L35.15,410.21 L34.00,410.23 Z" fill="rgb(31,85,200)" fill-opacity="0.25" stroke="none"/>
<path d="M34.00,407.91 L35.15,407.91 L36.30,407.92 L37.44,407.92 L38.59,407.92 L39.74,407.93 L40.88,407.94 L42.03,407.94 L43.18,407.95 L44.33,407.96 L45.48,407.96 L46.62,407.97 L47.77,407.98 L48.92,407.99 L50.06,408.00 L51.21,408.01 L52.36,408.01 L53.51,408.03 L54.66,408.04 L55.80,408.05 L56.95,408.06 L58.10,408.08 L59.24,408.09 L60.39,408.11 L61.54,408.12 L62.69,408.14 L63.84,408.16 L64.98,408.17 L66.13,408.19 L67.28,408.21 L68.42,408.23 L69.57,408.25 L70.72,408.27 L71.87,408.30 L73.02,408.33 L74.16,408.36 L75.31,408.39 L76.46,408.41 L77.60,408.43 L78.75,408.45 L79.90,408.45 L81.05,408.45 L82.19,408.45 L83.34,408.45 L84.49,408.45 L85.64,408.44 L86.78,408.44 L87.93,408.44 L89.08,408.43 L90.23,408.43 L91.38,408.43 L92.52,408.43 L93.67,408.43 L94.82,408.42 L95.97,408.42 L97.11,408.42 L98.26,408.42 L99.41,408.42 L100.55,408.42 L101.70,408.43 L102.85,408.43 L104.00,408.43 L105.14,408.43 L106.29,408.43 L107.44,408.43 L108.59,408.43 L109.73,408.43 L110.88,408.41 L112.03,408.37 L113.18,408.33 L114.33,408.29 L115.47,408.23 L116.62,408.18 L117.77,408.12 L118.91,408.07 L120.06,408.01 L121.21,407.96 L122.36,407.91 L123.50,407.86 L124.65,407.81 L125.80,407.76 L126.95,407.71 L128.09,407.65 L129.24,407.59 L130.39,407.54 L131.54,407.47 L132.69,407.41 L133.83,407.35 L134.98,407.28 L136.13,407.21 L137.27,407.14 L138.42,407.07 L139.57,406.99 L140.72,406.91 L141.87,406.82 L143.01,406.73 L144.16,406.64 L145.31,406.54 L146.45,406.43 L147.60,406.32 L148.75,406.20 L149.90,406.08 L151.05,405.95 L152.19,405.81 L153.34,405.66 L154.49,405.50 L155.63,405.33 L156.78,405.16 L157.93,404.97 L159.08,404.79 L160.22,404.60 L161.37,404.41 L162.52,404.21 L163.67,404.01 L164.81,403.81 L165.96,403.60 L167.11,403.38 L168.26,403.16 L169.41,402.93 L170.55,402.70 L171.70,402.46 L172.85,402.22 L174.00,401.98 L175.14,401.73 L176.29,401.46 L177.44,401.18 L178.59,400.88 L179.73,400.55 L180.88,400.21 L182.03,399.84 L183.17,399.46 L184.32,399.05 L185.47,398.63 L186.62,398.19 L187.76,397.72 L188.91,397.22 L190.06,396.70 L191.21,396.16 L192.35,395.59 L193.50,394.98 L194.65,394.34 L195.80,393.71 L196.94,393.11 L198.09,392.54 L199.24,392.01 L200.39,391.49 L201.53,390.94 L202.68,390.35 L203.83,389.66 L204.98,388.94 L206.12,388.30 L207.27,387.74 L208.42,387.20 L209.57,386.68 L210.72,386.16 L211.86,385.62 L213.01,384.97 L214.16,384.28 L215.31,383.57 L216.45,382.81 L217.60,382.02 L218.75,381.19 L219.89,380.32 L221.04,379.42 L222.19,378.48 L223.34,377.51 L224.48,376.50 L225.63,375.47 L226.78,374.40 L227.93,373.30 L229.07,372.17 L230.22,371.02 L231.37,369.83 L232.52,368.62 L233.66,367.38 L234.81,366.12 L235.96,364.83 L237.11,363.52 L238.25,362.19 L239.40,360.83 L240.55,359.46 L241.70,358.07 L242.84,356.67 L243.99,355.24 L245.14,353.81 L246.29,352.36 L247.44,350.90 L248.58,349.43 L249.73,347.95 L250.88,346.46 L252.03,344.96 L253.17,343.46 L254.32,341.96 L255.47,340.45 L256.62,338.94 L257.76,337.43 L258.91,335.91 L260.06,334.40 L261.20,332.88 L262.35,331.36 L263.50,329.83 L264.65,328.31 L265.79,326.79 L266.94,325.26 L268.09,323.74 L269.24,322.21 L270.38,320.68 L271.53,319.15 L272.68,317.63 L273.83,316.10 L274.98,314.57 L276.12,313.05 L277.27,311.52 L278.42,310.00 L279.56,308.47 L280.71,306.95 L281.86,305.43 L283.01,303.91 L284.15,302.39 L285.30,300.88 L286.45,299.37 L287.60,297.86 L288.75,296.35 L289.89,294.84 L291.04,293.34 L292.19,291.83 L293.33,290.33 L294.48,288.84 L295.63,287.34 L296.78,285.84 L297.93,284.35 L299.07,282.86 L300.22,281.36 L301.37,279.87 L302.51,278.38 L303.66,276.89 L304.81,275.40 L305.96,273.91 L307.11,272.43 L308.25,270.94 L309.40,269.45 L310.55,267.96 L311.69,266.47 L312.84,264.99 L313.99,263.50 L315.14,262.01 L316.28,260.52 L317.43,259.03 L318.58,257.54 L319.73,256.04 L320.88,254.55 L322.02,253.06 L323.17,251.56 L324.32,250.06 L325.46,248.56 L326.61,247.06 L327.76,245.56 L328.91,244.06 L330.06,242.55 L331.20,241.04 L332.35,239.53 L333.50,238.02 L334.64,236.50 L335.79,234.98 L336.94,233.46 L338.09,231.94 L339.24,230.42 L340.38,228.89 L341.53,227.37 L342.68,225.84 L343.82,224.31 L344.97,222.78 L346.12,221.25 L347.27,219.72 L348.41,218.19 L349.56,216.65 L350.71,215.12 L351.86,213.59 L353.00,212.05 L354.15,210.52 L355.30,208.99 L356.45,207.46 L357.59,205.92 L358.74,204.39 L359.89,202.86 L361.04,201.33 L362.19,199.81 L363.33,198.28 L364.48,196.75 L365.63,195.23 L366.77,193.73 L367.92,192.23 L369.07,190.76 L370.22,189.31 L371.37,187.89 L372.51,186.50 L373.66,185.16 L374.81,183.85 L375.95,182.58 L377.10,181.36 L378.25,180.16 L379.40,179.00 L380.55,177.86 L381.69,176.75 L382.84,175.66 L383.99,174.58 L385.13,173.51 L386.28,172.45 L387.43,171.40 L388.58,170.36 L389.72,169.32 L390.87,168.28 L392.02,167.24 L393.17,166.20 L394.31,165.15 L395.46,164.10 L396.61,163.05 L397.76,161.99 L398.90,160.92 L400.05,159.85 L401.20,158.77 L402.35,157.69 L403.50,156.60 L404.64,155.51 L405.79,154.41 L406.94,153.32 L408.08,152.22 L409.23,151.11 L410.38,150.00 L411.53,148.90 L412.68,147.79 L413.82,146.67 L414.97,145.56 L416.12,144.45 L417.26,143.34 L418.41,142.22 L419.56,141.11 L420.71,140.00 L421.85,138.89 L423.00,137.78 L424.15,136.67 L425.30,135.57 L426.44,134.47 L427.59,133.37 L428.74,132.27 L429.89,131.18 L431.03,130.09 L432.18,129.00 L433.33,127.93 L434.48,126.85 L435.62,125.78" fill="none" stroke="rgb(242,108,80)" stroke-opacity="0.75" stroke-width="0.7"/>
<path d="M34.00,410.23 L35.15,410.21 L36.30,410.19 L37.44,410.17 L38.59,410.15 L39.74,410.12 L40.88,410.10 L42.03,410.08 L43.18,410.06 L44.33,410.04 L45.48,410.01 L46.62,409.99 L47.77,409.97 L48.92,409.94 L50.06,409.92 L51.21,409.90 L52.36,409.87 L53.51,409.85 L54.66,409.82 L55.80,409.80 L56.95,409.77 L58.10,409.74 L59.24,409.72 L60.39,409.69 L61.54,409.67 L62.69,409.64 L63.84,409.61 L64.98,409.59 L66.13,409.56 L67.28,409.53 L68.42,409.51 L69.57,409.48 L70.72,409.45 L71.87,409.43 L73.02,409.40 L74.16,409.38 L75.31,409.35 L76.46,409.33 L77.60,409.30 L78.75,409.27 L79.90,409.25 L81.05,409.22 L82.19,409.19 L83.34,409.16 L84.49,409.13 L85.64,409.10 L86.78,409.08 L87.93,409.05 L89.08,409.02 L90.23,408.99 L91.38,408.96 L92.52,408.93 L93.67,408.91 L94.82,408.88 L95.97,408.85 L97.11,408.83 L98.26,408.79 L99.41,408.76 L100.55,408.72 L101.70,408.68 L102.85,408.64 L104.00,408.60 L105.14,408.55 L106.29,408.51 L107.44,408.47 L108.59,408.46 L109.73,408.46 L110.88,408.47 L112.03,408.47 L113.18,408.48 L114.33,408.49 L115.47,408.51 L116.62,408.52 L117.77,408.54 L118.91,408.56 L120.06,408.58 L121.21,408.60 L122.36,408.62 L123.50,408.64 L124.65,408.67 L125.80,408.69 L126.95,408.71 L128.09,408.73 L129.24,408.76 L130.39,408.78 L131.54,408.80 L132.69,408.82 L133.83,408.84 L134.98,408.86 L136.13,408.88 L137.27,408.89 L138.42,408.91 L139.57,408.92 L140.72,408.94 L141.87,408.95 L143.01,408.97 L144.16,408.98 L145.31,409.00 L146.45,409.01 L147.60,409.02 L148.75,409.04 L149.90,409.05 L151.05,409.07 L152.19,409.08 L153.34,409.09 L154.49,409.10 L155.63,409.12 L156.78,409.13 L157.93,409.14 L159.08,409.16 L160.22,409.17 L161.37,409.18 L162.52,409.19 L163.67,409.20 L164.81,409.22 L165.96,409.23 L167.11,409.24 L168.26,409.25 L169.41,409.26 L170.55,409.27 L171.70,409.28 L172.85,409.30 L174.00,409.31 L175.14,409.32 L176.29,409.33 L177.44,409.34 L178.59,409.35 L179.73,409.37 L180.88,409.38 L182.03,409.39 L183.17,409.40 L184.32,409.42 L185.47,409.43 L186.62,409.44 L187.76,409.45 L188.91,409.46 L190.06,409.47 L191.21,409.49 L192.35,409.50 L193.50,409.50 L194.65,409.51 L195.80,409.52 L196.94,409.53 L198.09,409.54 L199.24,409.54 L200.39,409.55 L201.53,409.55 L202.68,409.56 L203.83,409.56 L204.98,409.56 L206.12,409.56 L207.27,409.55 L208.42,409.55 L209.57,409.54 L210.72,409.54 L211.86,409.53 L213.01,409.53 L214.16,409.53 L215.31,409.54 L216.45,409.54 L217.60,409.55 L218.75,409.55 L219.89,409.56 L221.04,409.57 L222.19,409.57 L223.34,409.58 L224.48,409.59 L225.63,409.59 L226.78,409.60 L227.93,409.60 L229.07,409.61 L230.22,409.61 L231.37,409.61 L232.52,409.61 L233.66,409.61 L234.81,409.61 L235.96,409.61 L237.11,409.60 L238.25,409.59 L239.40,409.58 L240.55,409.57 L241.70,409.55 L242.84,409.53 L243.99,409.51 L245.14,409.49 L246.29,409.46 L247.44,409.42 L248.58,409.39 L249.73,409.35 L250.88,409.30 L252.03,409.26 L253.17,409.20 L254.32,409.15 L255.47,409.08 L256.62,409.02 L257.76,408.94 L258.91,408.87 L260.06,408.78 L261.20,408.69 L262.35,408.60 L263.50,408.50 L264.65,408.39 L265.79,408.28 L266.94,408.16 L268.09,408.04 L269.24,407.91 L270.38,407.78 L271.53,407.64 L272.68,407.49 L273.83,407.34 L274.98,407.19 L276.12,407.03 L277.27,406.87 L278.42,406.70 L279.56,406.53 L280.71,406.35 L281.86,406.18 L283.01,406.00 L284.15,405.81 L285.30,405.62 L286.45,405.43 L287.60,405.24 L288.75,405.05 L289.89,404.85 L291.04,404.65 L292.19,404.45 L293.33,404.25 L294.48,404.05 L295.63,403.85 L296.78,403.65 L297.93,403.45 L299.07,403.25 L300.22,403.06 L301.37,402.86 L302.51,402.67 L303.66,402.48 L304.81,402.30 L305.96,402.11 L307.11,401.92 L308.25,401.74 L309.40,401.56 L310.55,401.38 L311.69,401.20 L312.84,401.02 L313.99,400.84 L315.14,400.66 L316.28,400.48 L317.43,400.31 L318.58,400.13 L319.73,399.95 L320.88,399.78 L322.02,399.60 L323.17,399.42 L324.32,399.25 L325.46,399.07 L326.61,398.89 L327.76,398.71 L328.91,398.52 L330.06,398.34 L331.20,398.15 L332.35,397.95 L333.50,397.76 L334.64,397.56 L335.79,397.35 L336.94,397.15 L338.09,396.93 L339.24,396.71 L340.38,396.49 L341.53,396.25 L342.68,396.02 L343.82,395.77 L344.97,395.52 L346.12,395.26 L347.27,394.99 L348.41,394.72 L349.56,394.44 L350.71,394.15 L351.86,393.86 L353.00,393.56 L354.15,393.26 L355.30,392.95 L356.45,392.64 L357.59,392.33 L358.74,392.01 L359.89,391.69 L361.04,391.36 L362.19,391.04 L363.33,390.71 L364.48,390.37 L365.63,390.04 L366.77,389.71 L367.92,389.37 L369.07,389.04 L370.22,388.70 L371.37,388.37 L372.51,388.03 L373.66,387.70 L374.81,387.37 L375.95,387.04 L377.10,386.71 L378.25,386.38 L379.40,386.05 L380.55,385.72 L381.69,385.39 L382.84,385.06 L383.99,384.73 L385.13,384.40 L386.28,384.07 L387.43,383.73 L388.58,383.39 L389.72,383.05 L390.87,382.71 L392.02,382.36 L393.17,382.01 L394.31,381.66 L395.46,381.30 L396.61,380.94 L397.76,380.58 L398.90,380.21 L400.05,379.85 L401.20,379.48 L402.35,379.10 L403.50,378.73 L404.64,378.35 L405.79,377.97 L406.94,377.59 L408.08,377.20 L409.23,376.81 L410.38,376.42 L411.53,376.03 L412.68,375.64 L413.82,375.24 L414.97,374.84 L416.12,374.44 L417.26,374.04 L418.41,373.64 L419.56,373.24 L420.71,372.83 L421.85,372.42 L423.00,372.01 L424.15,371.60 L425.30,371.19 L426.44,370.78 L427.59,370.36 L428.74,369.95 L429.89,369.53 L431.03,369.11 L432.18,368.69 L433.33,368.27 L434.48,367.85 L435.62,367.43" fill="none" stroke="rgb(242,108,80)" stroke-opacity="0.75" stroke-width="0.7"/>
<path d="M34.00,407.91 L35.15,407.91 L36.30,407.92 L37.44,407.92 L38.59,407.92 L39.74,407.93 L40.88,407.94 L42.03,407.94 L43.18,407.95 L44.33,407.96 L45.48,407.96 L46.62,407.97 L47.77,407.98 L48.92,407.99 L50.06,408.00 L51.21,408.01 L52.36,408.01 L53.51,408.03 L54.66,408.04 L55.80,408.05 L56.95,408.06 L58.10,408.08 L59.24,408.09 L60.39,408.11 L61.54,408.12 L62.69,408.14 L63.84,408.16 L64.98,408.17 L66.13,408.19 L67.28,408.21 L68.42,408.23 L69.57,408.25 L70.72,408.27 L71.87,408.30 L73.02,408.33 L74.16,408.36 L75.31,408.39 L76.46,408.41 L77.60,408.43 L78.75,408.45 L79.90,408.45 L81.05,408.45 L82.19,408.45 L83.34,408.45 L84.49,408.45 L85.64,408.44 L86.78,408.44 L87.93,408.44 L89.08,408.43 L90.23,408.43 L91.38,408.43 L92.52,408.43 L93.67,408.43 L94.82,408.42 L95.97,408.42 L97.11,408.42 L98.26,408.42 L99.41,408.42 L100.55,408.42 L101.70,408.43 L102.85,408.43 L104.00,408.43 L105.14,408.43 L106.29,408.43 L107.44,408.43 L108.59,408.43 L109.73,408.43 L110.88,408.43 L112.03,408.42 L113.18,408.41 L114.33,408.40 L115.47,408.39 L116.62,408.38 L117.77,408.36 L118.91,408.34 L120.06,408.33 L121.21,408.31 L122.36,408.29 L123.50,408.27 L124.65,408.25 L125.80,408.23 L126.95,408.21 L128.09,408.18 L129.24,408.15 L130.39,408.12 L131.54,408.08 L132.69,408.05 L133.83,408.01 L134.98,407.96 L136.13,407.92 L137.27,407.87 L138.42,407.82 L139.57,407.77 L140.72,407.72 L141.87,407.67 L143.01,407.62 L144.16,407.56 L145.31,407.51 L146.45,407.45 L147.60,407.39 L148.75,407.34 L149.90,407.28 L151.05,407.22 L152.19,407.16 L153.34,407.09 L154.49,407.03 L155.63,406.96 L156.78,406.89 L157.93,406.82 L159.08,406.74 L160.22,406.67 L161.37,406.59 L162.52,406.51 L163.67,406.43 L164.81,406.34 L165.96,406.26 L167.11,406.17 L168.26,406.09 L169.41,406.00 L170.55,405.91 L171.70,405.82 L172.85,405.72 L174.00,405.63 L175.14,405.54 L176.29,405.44 L177.44,405.34 L178.59,405.24 L179.73,405.13 L180.88,405.02 L182.03,404.91 L183.17,404.79 L184.32,404.67 L185.47,404.54 L186.62,404.42 L187.76,404.30 L188.91,404.17 L190.06,404.05 L191.21,403.92 L192.35,403.79 L193.50,403.66 L194.65,403.52 L195.80,403.39 L196.94,403.24 L198.09,403.10 L199.24,402.95 L200.39,402.80 L201.53,402.64 L202.68,402.48 L203.83,402.29 L204.98,402.08 L206.12,401.87 L207.27,401.65 L208.42,401.44 L209.57,401.22 L210.72,401.01 L211.86,400.81 L213.01,400.61 L214.16,400.41 L215.31,400.20 L216.45,399.99 L217.60,399.76 L218.75,399.53 L219.89,399.28 L221.04,399.02 L222.19,398.74 L223.34,398.45 L224.48,398.15 L225.63,397.82 L226.78,397.48 L227.93,397.11 L229.07,396.73 L230.22,396.33 L231.37,395.91 L232.52,395.48 L233.66,395.03 L234.81,394.56 L235.96,394.08 L237.11,393.59 L238.25,393.08 L239.40,392.56 L240.55,392.03 L241.70,391.50 L242.84,390.95 L243.99,390.39 L245.14,389.83 L246.29,389.26 L247.44,388.68 L248.58,388.10 L249.73,387.51 L250.88,386.92 L252.03,386.33 L253.17,385.73 L254.32,385.14 L255.47,384.54 L256.62,383.94 L257.76,383.34 L258.91,382.74 L260.06,382.14 L261.20,381.53 L262.35,380.91 L263.50,380.29 L264.65,379.66 L265.79,379.02 L266.94,378.37 L268.09,377.70 L269.24,377.02 L270.38,376.33 L271.53,375.63 L272.68,374.90 L273.83,374.16 L274.98,373.40 L276.12,372.62 L277.27,371.82 L278.42,370.99 L279.56,370.14 L280.71,369.25 L281.86,368.33 L283.01,367.37 L284.15,366.37 L285.30,365.32 L286.45,364.23 L287.60,363.10 L288.75,361.92 L289.89,360.72 L291.04,359.49 L292.19,358.23 L293.33,356.95 L294.48,355.65 L295.63,354.33 L296.78,353.01 L297.93,351.67 L299.07,350.34 L300.22,349.01 L301.37,347.68 L302.51,346.35 L303.66,345.03 L304.81,343.72 L305.96,342.41 L307.11,341.10 L308.25,339.79 L309.40,338.48 L310.55,337.17 L311.69,335.86 L312.84,334.55 L313.99,333.24 L315.14,331.91 L316.28,330.59 L317.43,329.25 L318.58,327.91 L319.73,326.57 L320.88,325.21 L322.02,323.84 L323.17,322.46 L324.32,321.07 L325.46,319.66 L326.61,318.24 L327.76,316.80 L328.91,315.35 L330.06,313.87 L331.20,312.38 L332.35,310.86 L333.50,309.32 L334.64,307.75 L335.79,306.16 L336.94,304.54 L338.09,302.89 L339.24,301.21 L340.38,299.49 L341.53,297.75 L342.68,295.97 L343.82,294.15 L344.97,292.30 L346.12,290.42 L347.27,288.54 L348.41,286.66 L349.56,284.80 L350.71,282.97 L351.86,281.18 L353.00,279.40 L354.15,277.61 L355.30,275.78 L356.45,273.89 L357.59,271.92 L358.74,269.84 L359.89,267.63 L361.04,265.27 L362.19,262.73 L363.33,259.99 L364.48,257.03 L365.63,253.90 L366.77,250.61 L367.92,247.20 L369.07,243.71 L370.22,240.17 L371.37,236.60 L372.51,233.05 L373.66,229.55 L374.81,226.13 L375.95,222.82 L377.10,219.65 L378.25,216.63 L379.40,213.76 L380.55,211.02 L381.69,208.40 L382.84,205.91 L383.99,203.54 L385.13,201.28 L386.28,199.11 L387.43,196.98 L388.58,194.84 L389.72,192.65 L390.87,190.36 L392.02,187.92 L393.17,185.28 L394.31,182.40 L395.46,179.32 L396.61,176.13 L397.76,172.93 L398.90,169.77 L400.05,166.66 L401.20,163.59 L402.35,160.52 L403.50,157.45 L404.64,154.34 L405.79,151.21 L406.94,148.12 L408.08,145.13 L409.23,142.28 L410.38,139.66 L411.53,137.29 L412.68,135.12 L413.82,133.04 L414.97,130.98 L416.12,128.82 L417.26,126.49 L418.41,123.91 L419.56,121.12 L420.71,118.16 L421.85,115.07 L423.00,111.89 L424.15,108.67 L425.30,105.43 L426.44,102.23 L427.59,99.11 L428.74,96.10 L429.89,93.22 L431.03,90.40 L432.18,87.52 L433.33,84.47 L434.48,81.13 L435.62,77.38" fill="none" stroke="rgb(192,20,60)" stroke-opacity="0.75" stroke-width="0.7"/>
<path d="M34.00,410.23 L35.15,410.21 L36.30,410.19 L37.44,410.17 L38.59,410.15 L39.74,410.12 L40.88,410.10 L42.03,410.08 L43.18,410.06 L44.33,410.04 L45.48,410.01 L46.62,409.99 L47.77,409.97 L48.92,409.94 L50.06,409.92 L51.21,409.90 L52.36,409.87 L53.51,409.85 L54.66,409.82 L55.80,409.80 L56.95,409.77 L58.10,409.74 L59.24,409.72 L60.39,409.69 L61.54,409.67 L62.69,409.64 L63.84,409.61 L64.98,409.59 L66.13,409.56 L67.28,409.53 L68.42,409.51 L69.57,409.48 L70.72,409.45 L71.87,409.43 L73.02,409.40 L74.16,409.38 L75.31,409.35 L76.46,409.33 L77.60,409.30 L78.75,409.27 L79.90,409.25 L81.05,409.22 L82.19,409.19 L83.34,409.16 L84.49,409.13 L85.64,409.10 L86.78,409.08 L87.93,409.05 L89.08,409.02 L90.23,408.99 L91.38,408.96 L92.52,408.93 L93.67,408.91 L94.82,408.88 L95.97,408.85 L97.11,408.83 L98.26,408.79 L99.41,408.76 L100.55,408.72 L101.70,408.68 L102.85,408.64 L104.00,408.60 L105.14,408.55 L106.29,408.51 L107.44,408.47 L108.59,408.46 L109.73,408.46 L110.88,408.47 L112.03,408.47 L113.18,408.48 L114.33,408.49 L115.47,408.50 L116.62,408.51 L117.77,408.53 L118.91,408.55 L120.06,408.56 L121.21,408.58 L122.36,408.60 L123.50,408.62 L124.65,408.64 L125.80,408.67 L126.95,408.69 L128.09,408.71 L129.24,408.73 L130.39,408.76 L131.54,408.78 L132.69,408.81 L133.83,408.83 L134.98,408.85 L136.13,408.87 L137.27,408.89 L138.42,408.92 L139.57,408.94 L140.72,408.96 L141.87,408.98 L143.01,409.00 L144.16,409.03 L145.31,409.05 L146.45,409.07 L147.60,409.10 L148.75,409.12 L149.90,409.15 L151.05,409.18 L152.19,409.20 L153.34,409.23 L154.49,409.26 L155.63,409.29 L156.78,409.32 L157.93,409.35 L159.08,409.39 L160.22,409.42 L161.37,409.46 L162.52,409.50 L163.67,409.54 L164.81,409.59 L165.96,409.65 L167.11,409.70 L168.26,409.76 L169.41,409.82 L170.55,409.88 L171.70,409.94 L172.85,410.00 L174.00,410.05 L175.14,410.11 L176.29,410.15 L177.44,410.20 L178.59,410.25 L179.73,410.30 L180.88,410.35 L182.03,410.40 L183.17,410.45 L184.32,410.51 L185.47,410.56 L186.62,410.61 L187.76,410.66 L188.91,410.71 L190.06,410.76 L191.21,410.81 L192.35,410.86 L193.50,410.90 L194.65,410.94 L195.80,410.98 L196.94,411.02 L198.09,411.05 L199.24,411.08 L200.39,411.11 L201.53,411.13 L202.68,411.15 L203.83,411.16 L204.98,411.16 L206.12,411.16 L207.27,411.17 L208.42,411.18 L209.57,411.19 L210.72,411.21 L211.86,411.23 L213.01,411.25 L214.16,411.27 L215.31,411.28 L216.45,411.29 L217.60,411.30 L218.75,411.31 L219.89,411.32 L221.04,411.33 L222.19,411.33 L223.34,411.33 L224.48,411.34 L225.63,411.33 L226.78,411.33 L227.93,411.32 L229.07,411.31 L230.22,411.30 L231.37,411.29 L232.52,411.27 L233.66,411.25 L234.81,411.23 L235.96,411.20 L237.11,411.17 L238.25,411.14 L239.40,411.10 L240.55,411.07 L241.70,411.02 L242.84,410.98 L243.99,410.93 L245.14,410.87 L246.29,410.81 L247.44,410.75 L248.58,410.68 L249.73,410.61 L250.88,410.54 L252.03,410.46 L253.17,410.38 L254.32,410.29 L255.47,410.19 L256.62,410.09 L257.76,409.99 L258.91,409.88 L260.06,409.77 L261.20,409.65 L262.35,409.53 L263.50,409.40 L264.65,409.26 L265.79,409.12 L266.94,408.97 L268.09,408.82 L269.24,408.66 L270.38,408.50 L271.53,408.33 L272.68,408.15 L273.83,407.97 L274.98,407.78 L276.12,407.58 L277.27,407.38 L278.42,407.17 L279.56,406.95 L280.71,406.73 L281.86,406.50 L283.01,406.26 L284.15,406.02 L285.30,405.77 L286.45,405.52 L287.60,405.27 L288.75,405.02 L289.89,404.76 L291.04,404.50 L292.19,404.25 L293.33,403.99 L294.48,403.74 L295.63,403.49 L296.78,403.24 L297.93,403.00 L299.07,402.77 L300.22,402.54 L301.37,402.31 L302.51,402.10 L303.66,401.88 L304.81,401.68 L305.96,401.48 L307.11,401.28 L308.25,401.09 L309.40,400.90 L310.55,400.72 L311.69,400.54 L312.84,400.36 L313.99,400.18 L315.14,400.00 L316.28,399.82 L317.43,399.65 L318.58,399.47 L319.73,399.30 L320.88,399.12 L322.02,398.94 L323.17,398.76 L324.32,398.58 L325.46,398.39 L326.61,398.20 L327.76,398.01 L328.91,397.81 L330.06,397.61 L331.20,397.40 L332.35,397.18 L333.50,396.96 L334.64,396.73 L335.79,396.49 L336.94,396.24 L338.09,395.98 L339.24,395.72 L340.38,395.44 L341.53,395.15 L342.68,394.86 L343.82,394.56 L344.97,394.25 L346.12,393.93 L347.27,393.60 L348.41,393.27 L349.56,392.92 L350.71,392.58 L351.86,392.22 L353.00,391.86 L354.15,391.49 L355.30,391.12 L356.45,390.74 L357.59,390.36 L358.74,389.97 L359.89,389.58 L361.04,389.19 L362.19,388.79 L363.33,388.38 L364.48,387.97 L365.63,387.56 L366.77,387.15 L367.92,386.73 L369.07,386.32 L370.22,385.90 L371.37,385.48 L372.51,385.05 L373.66,384.63 L374.81,384.21 L375.95,383.78 L377.10,383.36 L378.25,382.93 L379.40,382.51 L380.55,382.08 L381.69,381.66 L382.84,381.24 L383.99,380.82 L385.13,380.40 L386.28,379.98 L387.43,379.57 L388.58,379.16 L389.72,378.75 L390.87,378.34 L392.02,377.94 L393.17,377.54 L394.31,377.14 L395.46,376.74 L396.61,376.33 L397.76,375.92 L398.90,375.51 L400.05,375.09 L401.20,374.66 L402.35,374.23 L403.50,373.78 L404.64,373.33 L405.79,372.86 L406.94,372.38 L408.08,371.89 L409.23,371.38 L410.38,370.85 L411.53,370.30 L412.68,369.74 L413.82,369.15 L414.97,368.55 L416.12,367.92 L417.26,367.26 L418.41,366.58 L419.56,365.88 L420.71,365.15 L421.85,364.38 L423.00,363.59 L424.15,362.77 L425.30,361.91 L426.44,361.02 L427.59,360.10 L428.74,359.14 L429.89,358.14 L431.03,357.11 L432.18,356.03 L433.33,354.92 L434.48,353.76 L435.62,352.56" fill="none" stroke="rgb(192,20,60)" stroke-opacity="0.75" stroke-width="0.7"/>
<path d="M34.00,407.91 L35.15,407.91 L36.30,407.92 L37.44,407.92 L38.59,407.92 L39.74,407.93 L40.88,407.94 L42.03,407.94 L43.18,407.95 L44.33,407.96 L45.48,407.96 L46.62,407.97 L47.77,407.98 L48.92,407.99 L50.06,408.00 L51.21,408.01 L52.36,408.01 L53.51,408.03 L54.66,408.04 L55.80,408.05 L56.95,408.06 L58.10,408.08 L59.24,408.09 L60.39,408.11 L61.54,408.12 L62.69,408.14 L63.84,408.16 L64.98,408.17 L66.13,408.19 L67.28,408.21 L68.42,408.23 L69.57,408.25 L70.72,408.27 L71.87,408.30 L73.02,408.33 L74.16,408.36 L75.31,408.39 L76.46,408.41 L77.60,408.43 L78.75,408.45 L79.90,408.45 L81.05,408.45 L82.19,408.45 L83.34,408.45 L84.49,408.45 L85.64,408.44 L86.78,408.44 L87.93,408.44 L89.08,408.43 L90.23,408.43 L91.38,408.43 L92.52,408.43 L93.67,408.43 L94.82,408.42 L95.97,408.42 L97.11,408.42 L98.26,408.42 L99.41,408.42 L100.55,408.42 L101.70,408.43 L102.85,408.43 L104.00,408.43 L105.14,408.43 L106.29,408.43 L107.44,408.43 L108.59,408.43 L109.73,408.43 L110.88,408.41 L112.03,408.38 L113.18,408.34 L114.33,408.29 L115.47,408.24 L116.62,408.19 L117.77,408.14 L118.91,408.08 L120.06,408.04 L121.21,407.99 L122.36,407.95 L123.50,407.91 L124.65,407.87 L125.80,407.83 L126.95,407.79 L128.09,407.74 L129.24,407.69 L130.39,407.64 L131.54,407.59 L132.69,407.53 L133.83,407.47 L134.98,407.40 L136.13,407.33 L137.27,407.26 L138.42,407.18 L139.57,407.10 L140.72,407.02 L141.87,406.94 L143.01,406.85 L144.16,406.76 L145.31,406.66 L146.45,406.56 L147.60,406.46 L148.75,406.35 L149.90,406.23 L151.05,406.11 L152.19,405.99 L153.34,405.86 L154.49,405.71 L155.63,405.57 L156.78,405.41 L157.93,405.25 L159.08,405.09 L160.22,404.92 L161.37,404.75 L162.52,404.57 L163.67,404.38 L164.81,404.18 L165.96,403.98 L167.11,403.78 L168.26,403.56 L169.41,403.35 L170.55,403.13 L171.70,402.91 L172.85,402.70 L174.00,402.48 L175.14,402.25 L176.29,402.02 L177.44,401.77 L178.59,401.50 L179.73,401.21 L180.88,400.88 L182.03,400.51 L183.17,400.12 L184.32,399.74 L185.47,399.37 L186.62,399.03 L187.76,398.70 L188.91,398.36 L190.06,398.00 L191.21,397.61 L192.35,397.16 L193.50,396.67 L194.65,396.15 L195.80,395.62 L196.94,395.10 L198.09,394.61 L199.24,394.14 L200.39,393.66 L201.53,393.16 L202.68,392.61 L203.83,391.94 L204.98,391.22 L206.12,390.56 L207.27,389.97 L208.42,389.40 L209.57,388.84 L210.72,388.29 L211.86,387.75 L213.01,387.18 L214.16,386.61 L215.31,386.04 L216.45,385.48 L217.60,384.91 L218.75,384.34 L219.89,383.78 L221.04,383.21 L222.19,382.65 L223.34,382.09 L224.48,381.53 L225.63,380.97 L226.78,380.41 L227.93,379.86 L229.07,379.31 L230.22,378.75 L231.37,378.21 L232.52,377.66 L233.66,377.11 L234.81,376.57 L235.96,376.02 L237.11,375.48 L238.25,374.93 L239.40,374.39 L240.55,373.85 L241.70,373.30 L242.84,372.76 L243.99,372.21 L245.14,371.67 L246.29,371.12 L247.44,370.57 L248.58,370.02 L249.73,369.47 L250.88,368.93 L252.03,368.39 L253.17,367.86 L254.32,367.33 L255.47,366.83 L256.62,366.33 L257.76,365.85 L258.91,365.39 L260.06,364.93 L261.20,364.49 L262.35,364.05 L263.50,363.63 L264.65,363.21 L265.79,362.80 L266.94,362.39 L268.09,361.99 L269.24,361.60 L270.38,361.21 L271.53,360.82 L272.68,360.43 L273.83,360.04 L274.98,359.66 L276.12,359.27 L277.27,358.88 L278.42,358.49 L279.56,358.10 L280.71,357.71 L281.86,357.32 L283.01,356.93 L284.15,356.54 L285.30,356.15 L286.45,355.75 L287.60,355.36 L288.75,354.97 L289.89,354.57 L291.04,354.18 L292.19,353.78 L293.33,353.39 L294.48,352.99 L295.63,352.60 L296.78,352.20 L297.93,351.81 L299.07,351.41 L300.22,351.02 L301.37,350.62 L302.51,350.23 L303.66,349.83 L304.81,349.44 L305.96,349.04 L307.11,348.65 L308.25,348.25 L309.40,347.86 L310.55,347.47 L311.69,347.07 L312.84,346.68 L313.99,346.29 L315.14,345.90 L316.28,345.51 L317.43,345.12 L318.58,344.73 L319.73,344.34 L320.88,343.96 L322.02,343.57 L323.17,343.18 L324.32,342.80 L325.46,342.42 L326.61,342.03 L327.76,341.65 L328.91,341.27 L330.06,340.89 L331.20,340.52 L332.35,340.14 L333.50,339.76 L334.64,339.39 L335.79,339.02 L336.94,338.65 L338.09,338.28 L339.24,337.91 L340.38,337.54 L341.53,337.18 L342.68,336.82 L343.82,336.46 L344.97,336.10 L346.12,335.74 L347.27,335.39 L348.41,335.03 L349.56,334.68 L350.71,334.33 L351.86,333.98 L353.00,333.63 L354.15,333.28 L355.30,332.93 L356.45,332.58 L357.59,332.23 L358.74,331.88 L359.89,331.53 L361.04,331.18 L362.19,330.83 L363.33,330.48 L364.48,330.13 L365.63,329.77 L366.77,329.42 L367.92,329.06 L369.07,328.70 L370.22,328.34 L371.37,327.98 L372.51,327.62 L373.66,327.25 L374.81,326.88 L375.95,326.51 L377.10,326.14 L378.25,325.76 L379.40,325.38 L380.55,324.99 L381.69,324.60 L382.84,324.21 L383.99,323.82 L385.13,323.44 L386.28,323.05 L387.43,322.67 L388.58,322.30 L389.72,321.94 L390.87,321.58 L392.02,321.24 L393.17,320.92 L394.31,320.61 L395.46,320.31 L396.61,320.04 L397.76,319.78 L398.90,319.53 L400.05,319.30 L401.20,319.09 L402.35,318.88 L403.50,318.68 L404.64,318.50 L405.79,318.32 L406.94,318.14 L408.08,317.97 L409.23,317.81 L410.38,317.65 L411.53,317.48 L412.68,317.32 L413.82,317.16 L414.97,316.99 L416.12,316.82 L417.26,316.64 L418.41,316.45 L419.56,316.26 L420.71,316.06 L421.85,315.84 L423.00,315.62 L424.15,315.38 L425.30,315.12 L426.44,314.85 L427.59,314.56 L428.74,314.25 L429.89,313.93 L431.03,313.58 L432.18,313.20 L433.33,312.81 L434.48,312.38 L435.62,311.94" fill="none" stroke="rgb(86,165,230)" stroke-opacity="0.75" stroke-width="0.7"/>
<path d="M34.00,410.23 L35.15,410.21 L36.30,410.19 L37.44,410.17 L38.59,410.15 L39.74,410.12 L40.88,410.10 L42.03,410.08 L43.18,410.06 L44.33,410.04 L45.48,410.01 L46.62,409.99 L47.77,409.97 L48.92,409.94 L50.06,409.92 L51.21,409.90 L52.36,409.87 L53.51,409.85 L54.66,409.82 L55.80,409.80 L56.95,409.77 L58.10,409.74 L59.24,409.72 L60.39,409.69 L61.54,409.67 L62.69,409.64 L63.84,409.61 L64.98,409.59 L66.13,409.56 L67.28,409.53 L68.42,409.51 L69.57,409.48 L70.72,409.45 L71.87,409.43 L73.02,409.40 L74.16,409.38 L75.31,409.35 L76.46,409.33 L77.60,409.30 L78.75,409.27 L79.90,409.25 L81.05,409.22 L82.19,409.19 L83.34,409.16 L84.49,409.13 L85.64,409.10 L86.78,409.08 L87.93,409.05 L89.08,409.02 L90.23,408.99 L91.38,408.96 L92.52,408.93 L93.67,408.91 L94.82,408.88 L95.97,408.85 L97.11,408.83 L98.26,408.79 L99.41,408.76 L100.55,408.72 L101.70,408.68 L102.85,408.64 L104.00,408.60 L105.14,408.55 L106.29,408.51 L107.44,408.47 L108.59,408.46 L109.73,408.46 L110.88,408.47 L112.03,408.47 L113.18,408.48 L114.33,408.49 L115.47,408.49 L116.62,408.51 L117.77,408.52 L118.91,408.53 L120.06,408.55 L121.21,408.56 L122.36,408.58 L123.50,408.59 L124.65,408.61 L125.80,408.63 L126.95,408.64 L128.09,408.66 L129.24,408.68 L130.39,408.70 L131.54,408.71 L132.69,408.73 L133.83,408.74 L134.98,408.76 L136.13,408.77 L137.27,408.78 L138.42,408.80 L139.57,408.81 L140.72,408.82 L141.87,408.83 L143.01,408.84 L144.16,408.85 L145.31,408.86 L146.45,408.87 L147.60,408.88 L148.75,408.90 L149.90,408.91 L151.05,408.92 L152.19,408.93 L153.34,408.94 L154.49,408.95 L155.63,408.96 L156.78,408.97 L157.93,408.98 L159.08,408.99 L160.22,409.00 L161.37,409.01 L162.52,409.02 L163.67,409.03 L164.81,409.05 L165.96,409.06 L167.11,409.07 L168.26,409.08 L169.41,409.09 L170.55,409.10 L171.70,409.12 L172.85,409.13 L174.00,409.15 L175.14,409.16 L176.29,409.18 L177.44,409.19 L178.59,409.21 L179.73,409.23 L180.88,409.25 L182.03,409.27 L183.17,409.29 L184.32,409.31 L185.47,409.33 L186.62,409.35 L187.76,409.37 L188.91,409.39 L190.06,409.41 L191.21,409.42 L192.35,409.44 L193.50,409.46 L194.65,409.47 L195.80,409.49 L196.94,409.50 L198.09,409.52 L199.24,409.53 L200.39,409.54 L201.53,409.55 L202.68,409.55 L203.83,409.56 L204.98,409.57 L206.12,409.58 L207.27,409.59 L208.42,409.59 L209.57,409.59 L210.72,409.59 L211.86,409.59 L213.01,409.59 L214.16,409.58 L215.31,409.57 L216.45,409.56 L217.60,409.55 L218.75,409.53 L219.89,409.52 L221.04,409.51 L222.19,409.49 L223.34,409.47 L224.48,409.46 L225.63,409.44 L226.78,409.42 L227.93,409.40 L229.07,409.38 L230.22,409.35 L231.37,409.33 L232.52,409.31 L233.66,409.28 L234.81,409.25 L235.96,409.23 L237.11,409.20 L238.25,409.17 L239.40,409.14 L240.55,409.11 L241.70,409.08 L242.84,409.05 L243.99,409.02 L245.14,408.98 L246.29,408.95 L247.44,408.91 L248.58,408.88 L249.73,408.84 L250.88,408.81 L252.03,408.77 L253.17,408.73 L254.32,408.69 L255.47,408.65 L256.62,408.61 L257.76,408.57 L258.91,408.53 L260.06,408.49 L261.20,408.45 L262.35,408.40 L263.50,408.36 L264.65,408.32 L265.79,408.27 L266.94,408.23 L268.09,408.18 L269.24,408.13 L270.38,408.09 L271.53,408.04 L272.68,407.99 L273.83,407.95 L274.98,407.90 L276.12,407.85 L277.27,407.80 L278.42,407.75 L279.56,407.70 L280.71,407.65 L281.86,407.60 L283.01,407.55 L284.15,407.50 L285.30,407.45 L286.45,407.40 L287.60,407.35 L288.75,407.30 L289.89,407.24 L291.04,407.19 L292.19,407.14 L293.33,407.09 L294.48,407.03 L295.63,406.98 L296.78,406.93 L297.93,406.88 L299.07,406.82 L300.22,406.77 L301.37,406.72 L302.51,406.66 L303.66,406.61 L304.81,406.55 L305.96,406.50 L307.11,406.45 L308.25,406.39 L309.40,406.34 L310.55,406.29 L311.69,406.23 L312.84,406.18 L313.99,406.13 L315.14,406.07 L316.28,406.02 L317.43,405.97 L318.58,405.91 L319.73,405.86 L320.88,405.81 L322.02,405.75 L323.17,405.70 L324.32,405.65 L325.46,405.60 L326.61,405.54 L327.76,405.49 L328.91,405.44 L330.06,405.39 L331.20,405.34 L332.35,405.29 L333.50,405.24 L334.64,405.19 L335.79,405.14 L336.94,405.09 L338.09,405.04 L339.24,404.99 L340.38,404.94 L341.53,404.89 L342.68,404.84 L343.82,404.80 L344.97,404.75 L346.12,404.70 L347.27,404.66 L348.41,404.61 L349.56,404.57 L350.71,404.52 L351.86,404.48 L353.00,404.43 L354.15,404.39 L355.30,404.35 L356.45,404.31 L357.59,404.27 L358.74,404.22 L359.89,404.18 L361.04,404.15 L362.19,404.11 L363.33,404.07 L364.48,404.03 L365.63,403.99 L366.77,403.96 L367.92,403.92 L369.07,403.89 L370.22,403.85 L371.37,403.82 L372.51,403.79 L373.66,403.75 L374.81,403.72 L375.95,403.69 L377.10,403.66 L378.25,403.63 L379.40,403.61 L380.55,403.58 L381.69,403.55 L382.84,403.53 L383.99,403.50 L385.13,403.48 L386.28,403.46 L387.43,403.43 L388.58,403.41 L389.72,403.39 L390.87,403.37 L392.02,403.36 L393.17,403.34 L394.31,403.32 L395.46,403.31 L396.61,403.29 L397.76,403.28 L398.90,403.27 L400.05,403.26 L401.20,403.25 L402.35,403.24 L403.50,403.23 L404.64,403.23 L405.79,403.22 L406.94,403.22 L408.08,403.21 L409.23,403.21 L410.38,403.21 L411.53,403.21 L412.68,403.21 L413.82,403.22 L414.97,403.22 L416.12,403.23 L417.26,403.23 L418.41,403.24 L419.56,403.25 L420.71,403.26 L421.85,403.27 L423.00,403.29 L424.15,403.30 L425.30,403.32 L426.44,403.33 L427.59,403.35 L428.74,403.37 L429.89,403.39 L431.03,403.42 L432.18,403.44 L433.33,403.47 L434.48,403.50 L435.62,403.52" fill="none" stroke="rgb(86,165,230)" stroke-opacity="0.75" stroke-width="0.7"/>
<path d="M34.00,407.91 L35.15,407.91 L36.30,407.92 L37.44,407.92 L38.59,407.92 L39.74,407.93 L40.88,407.94 L42.03,407.94 L43.18,407.95 L44.33,407.96 L45.48,407.96 L46.62,407.97 L47.77,407.98 L48.92,407.99 L50.06,408.00 L51.21,408.01 L52.36,408.01 L53.51,408.03 L54.66,408.04 L55.80,408.05 L56.95,408.06 L58.10,408.08 L59.24,408.09 L60.39,408.11 L61.54,408.12 L62.69,408.14 L63.84,408.16 L64.98,408.17 L66.13,408.19 L67.28,408.21 L68.42,408.23 L69.57,408.25 L70.72,408.27 L71.87,408.30 L73.02,408.33 L74.16,408.36 L75.31,408.39 L76.46,408.41 L77.60,408.43 L78.75,408.45 L79.90,408.45 L81.05,408.45 L82.19,408.45 L83.34,408.45 L84.49,408.45 L85.64,408.44 L86.78,408.44 L87.93,408.44 L89.08,408.43 L90.23,408.43 L91.38,408.43 L92.52,408.43 L93.67,408.43 L94.82,408.42 L95.97,408.42 L97.11,408.42 L98.26,408.42 L99.41,408.42 L100.55,408.42 L101.70,408.43 L102.85,408.43 L104.00,408.43 L105.14,408.43 L106.29,408.43 L107.44,408.43 L108.59,408.43 L109.73,408.43 L110.88,408.43 L112.03,408.42 L113.18,408.42 L114.33,408.41 L115.47,408.40 L116.62,408.39 L117.77,408.37 L118.91,408.36 L120.06,408.35 L121.21,408.34 L122.36,408.32 L123.50,408.31 L124.65,408.30 L125.80,408.28 L126.95,408.27 L128.09,408.26 L129.24,408.25 L130.39,408.23 L131.54,408.22 L132.69,408.21 L133.83,408.19 L134.98,408.18 L136.13,408.17 L137.27,408.15 L138.42,408.14 L139.57,408.12 L140.72,408.11 L141.87,408.09 L143.01,408.07 L144.16,408.06 L145.31,408.04 L146.45,408.02 L147.60,408.00 L148.75,407.98 L149.90,407.96 L151.05,407.94 L152.19,407.92 L153.34,407.89 L154.49,407.87 L155.63,407.84 L156.78,407.81 L157.93,407.78 L159.08,407.74 L160.22,407.70 L161.37,407.66 L162.52,407.62 L163.67,407.58 L164.81,407.54 L165.96,407.49 L167.11,407.44 L168.26,407.40 L169.41,407.35 L170.55,407.30 L171.70,407.26 L172.85,407.21 L174.00,407.16 L175.14,407.12 L176.29,407.07 L177.44,407.03 L178.59,406.99 L179.73,406.95 L180.88,406.91 L182.03,406.87 L183.17,406.84 L184.32,406.80 L185.47,406.77 L186.62,406.73 L187.76,406.70 L188.91,406.67 L190.06,406.64 L191.21,406.61 L192.35,406.58 L193.50,406.55 L194.65,406.51 L195.80,406.48 L196.94,406.45 L198.09,406.42 L199.24,406.39 L200.39,406.35 L201.53,406.32 L202.68,406.28 L203.83,406.21 L204.98,406.14 L206.12,406.09 L207.27,406.02 L208.42,405.96 L209.57,405.90 L210.72,405.84 L211.86,405.78 L213.01,405.75 L214.16,405.72 L215.31,405.68 L216.45,405.65 L217.60,405.61 L218.75,405.58 L219.89,405.54 L221.04,405.51 L222.19,405.47 L223.34,405.44 L224.48,405.40 L225.63,405.36 L226.78,405.33 L227.93,405.29 L229.07,405.25 L230.22,405.21 L231.37,405.17 L232.52,405.14 L233.66,405.10 L234.81,405.06 L235.96,405.02 L237.11,404.98 L238.25,404.94 L239.40,404.90 L240.55,404.85 L241.70,404.81 L242.84,404.77 L243.99,404.73 L245.14,404.69 L246.29,404.64 L247.44,404.60 L248.58,404.56 L249.73,404.51 L250.88,404.47 L252.03,404.42 L253.17,404.38 L254.32,404.33 L255.47,404.29 L256.62,404.24 L257.76,404.19 L258.91,404.15 L260.06,404.10 L261.20,404.05 L262.35,404.00 L263.50,403.95 L264.65,403.90 L265.79,403.86 L266.94,403.81 L268.09,403.76 L269.24,403.70 L270.38,403.65 L271.53,403.60 L272.68,403.55 L273.83,403.50 L274.98,403.45 L276.12,403.39 L277.27,403.34 L278.42,403.29 L279.56,403.23 L280.71,403.18 L281.86,403.12 L283.01,403.07 L284.15,403.01 L285.30,402.96 L286.45,402.90 L287.60,402.84 L288.75,402.79 L289.89,402.73 L291.04,402.67 L292.19,402.61 L293.33,402.55 L294.48,402.49 L295.63,402.43 L296.78,402.37 L297.93,402.31 L299.07,402.25 L300.22,402.19 L301.37,402.13 L302.51,402.07 L303.66,402.00 L304.81,401.94 L305.96,401.88 L307.11,401.81 L308.25,401.75 L309.40,401.69 L310.55,401.62 L311.69,401.55 L312.84,401.49 L313.99,401.42 L315.14,401.35 L316.28,401.29 L317.43,401.22 L318.58,401.15 L319.73,401.08 L320.88,401.01 L322.02,400.94 L323.17,400.87 L324.32,400.80 L325.46,400.73 L326.61,400.66 L327.76,400.59 L328.91,400.51 L330.06,400.44 L331.20,400.37 L332.35,400.29 L333.50,400.22 L334.64,400.15 L335.79,400.07 L336.94,399.99 L338.09,399.92 L339.24,399.84 L340.38,399.76 L341.53,399.69 L342.68,399.61 L343.82,399.53 L344.97,399.45 L346.12,399.37 L347.27,399.29 L348.41,399.21 L349.56,399.13 L350.71,399.05 L351.86,398.97 L353.00,398.88 L354.15,398.80 L355.30,398.72 L356.45,398.63 L357.59,398.55 L358.74,398.46 L359.89,398.38 L361.04,398.29 L362.19,398.21 L363.33,398.12 L364.48,398.03 L365.63,397.94 L366.77,397.86 L367.92,397.77 L369.07,397.68 L370.22,397.59 L371.37,397.50 L372.51,397.41 L373.66,397.32 L374.81,397.22 L375.95,397.13 L377.10,397.04 L378.25,396.94 L379.40,396.85 L380.55,396.76 L381.69,396.66 L382.84,396.57 L383.99,396.47 L385.13,396.37 L386.28,396.28 L387.43,396.18 L388.58,396.08 L389.72,395.98 L390.87,395.88 L392.02,395.78 L393.17,395.68 L394.31,395.58 L395.46,395.48 L396.61,395.38 L397.76,395.28 L398.90,395.18 L400.05,395.07 L401.20,394.97 L402.35,394.86 L403.50,394.76 L404.64,394.65 L405.79,394.55 L406.94,394.44 L408.08,394.33 L409.23,394.23 L410.38,394.12 L411.53,394.01 L412.68,393.90 L413.82,393.79 L414.97,393.68 L416.12,393.57 L417.26,393.46 L418.41,393.35 L419.56,393.24 L420.71,393.12 L421.85,393.01 L423.00,392.89 L424.15,392.78 L425.30,392.67 L426.44,392.55 L427.59,392.43 L428.74,392.32 L429.89,392.20 L431.03,392.08 L432.18,391.96 L433.33,391.84 L434.48,391.72 L435.62,391.60" fill="none" stroke="rgb(31,85,200)" stroke-opacity="0.75" stroke-width="0.7"/>
<path d="M34.00,410.23 L35.15,410.21 L36.30,410.19 L37.44,410.17 L38.59,410.15 L39.74,410.12 L40.88,410.10 L42.03,410.08 L43.18,410.06 L44.33,410.04 L45.48,410.01 L46.62,409.99 L47.77,409.97 L48.92,409.94 L50.06,409.92 L51.21,409.90 L52.36,409.87 L53.51,409.85 L54.66,409.82 L55.80,409.80 L56.95,409.77 L58.10,409.74 L59.24,409.72 L60.39,409.69 L61.54,409.67 L62.69,409.64 L63.84,409.61 L64.98,409.59 L66.13,409.56 L67.28,409.53 L68.42,409.51 L69.57,409.48 L70.72,409.45 L71.87,409.43 L73.02,409.40 L74.16,409.38 L75.31,409.35 L76.46,409.33 L77.60,409.30 L78.75,409.27 L79.90,409.25 L81.05,409.22 L82.19,409.19 L83.34,409.16 L84.49,409.13 L85.64,409.10 L86.78,409.08 L87.93,409.05 L89.08,409.02 L90.23,408.99 L91.38,408.96 L92.52,408.93 L93.67,408.91 L94.82,408.88 L95.97,408.85 L97.11,408.83 L98.26,408.79 L99.41,408.76 L100.55,408.72 L101.70,408.68 L102.85,408.64 L104.00,408.60 L105.14,408.55 L106.29,408.51 L107.44,408.47 L108.59,408.46 L109.73,408.46 L110.88,408.47 L112.03,408.48 L113.18,408.49 L114.33,408.51 L115.47,408.53 L116.62,408.55 L117.77,408.57 L118.91,408.60 L120.06,408.62 L121.21,408.65 L122.36,408.68 L123.50,408.71 L124.65,408.73 L125.80,408.76 L126.95,408.79 L128.09,408.82 L129.24,408.85 L130.39,408.87 L131.54,408.89 L132.69,408.92 L133.83,408.94 L134.98,408.97 L136.13,408.99 L137.27,409.02 L138.42,409.04 L139.57,409.07 L140.72,409.10 L141.87,409.12 L143.01,409.15 L144.16,409.17 L145.31,409.20 L146.45,409.22 L147.60,409.24 L148.75,409.26 L149.90,409.29 L151.05,409.31 L152.19,409.32 L153.34,409.34 L154.49,409.35 L155.63,409.37 L156.78,409.38 L157.93,409.39 L159.08,409.41 L160.22,409.42 L161.37,409.43 L162.52,409.44 L163.67,409.45 L164.81,409.46 L165.96,409.47 L167.11,409.48 L168.26,409.49 L169.41,409.50 L170.55,409.51 L171.70,409.52 L172.85,409.53 L174.00,409.54 L175.14,409.55 L176.29,409.56 L177.44,409.57 L178.59,409.58 L179.73,409.60 L180.88,409.61 L182.03,409.63 L183.17,409.64 L184.32,409.66 L185.47,409.68 L186.62,409.70 L187.76,409.72 L188.91,409.74 L190.06,409.77 L191.21,409.79 L192.35,409.81 L193.50,409.84 L194.65,409.86 L195.80,409.89 L196.94,409.91 L198.09,409.94 L199.24,409.97 L200.39,409.99 L201.53,410.02 L202.68,410.04 L203.83,410.08 L204.98,410.11 L206.12,410.14 L207.27,410.17 L208.42,410.21 L209.57,410.24 L210.72,410.28 L211.86,410.31 L213.01,410.34 L214.16,410.36 L215.31,410.39 L216.45,410.41 L217.60,410.44 L218.75,410.46 L219.89,410.49 L221.04,410.51 L222.19,410.53 L223.34,410.56 L224.48,410.58 L225.63,410.60 L226.78,410.63 L227.93,410.65 L229.07,410.67 L230.22,410.70 L231.37,410.72 L232.52,410.74 L233.66,410.76 L234.81,410.78 L235.96,410.80 L237.11,410.83 L238.25,410.85 L239.40,410.87 L240.55,410.89 L241.70,410.91 L242.84,410.93 L243.99,410.95 L245.14,410.97 L246.29,410.99 L247.44,411.01 L248.58,411.03 L249.73,411.05 L250.88,411.07 L252.03,411.09 L253.17,411.10 L254.32,411.12 L255.47,411.14 L256.62,411.16 L257.76,411.18 L258.91,411.20 L260.06,411.21 L261.20,411.23 L262.35,411.25 L263.50,411.27 L264.65,411.28 L265.79,411.30 L266.94,411.32 L268.09,411.33 L269.24,411.35 L270.38,411.37 L271.53,411.38 L272.68,411.40 L273.83,411.42 L274.98,411.43 L276.12,411.45 L277.27,411.47 L278.42,411.48 L279.56,411.50 L280.71,411.51 L281.86,411.53 L283.01,411.54 L284.15,411.56 L285.30,411.57 L286.45,411.59 L287.60,411.60 L288.75,411.62 L289.89,411.63 L291.04,411.65 L292.19,411.66 L293.33,411.68 L294.48,411.69 L295.63,411.71 L296.78,411.72 L297.93,411.73 L299.07,411.75 L300.22,411.76 L301.37,411.78 L302.51,411.79 L303.66,411.80 L304.81,411.82 L305.96,411.83 L307.11,411.85 L308.25,411.86 L309.40,411.87 L310.55,411.89 L311.69,411.90 L312.84,411.91 L313.99,411.93 L315.14,411.94 L316.28,411.95 L317.43,411.97 L318.58,411.98 L319.73,411.99 L320.88,412.00 L322.02,412.02 L323.17,412.03 L324.32,412.04 L325.46,412.06 L326.61,412.07 L327.76,412.08 L328.91,412.09 L330.06,412.11 L331.20,412.12 L332.35,412.13 L333.50,412.15 L334.64,412.16 L335.79,412.17 L336.94,412.18 L338.09,412.20 L339.24,412.21 L340.38,412.22 L341.53,412.23 L342.68,412.25 L343.82,412.26 L344.97,412.27 L346.12,412.28 L347.27,412.30 L348.41,412.31 L349.56,412.32 L350.71,412.34 L351.86,412.35 L353.00,412.36 L354.15,412.37 L355.30,412.39 L356.45,412.40 L357.59,412.41 L358.74,412.43 L359.89,412.44 L361.04,412.45 L362.19,412.46 L363.33,412.48 L364.48,412.49 L365.63,412.50 L366.77,412.52 L367.92,412.53 L369.07,412.54 L370.22,412.56 L371.37,412.57 L372.51,412.58 L373.66,412.60 L374.81,412.61 L375.95,412.62 L377.10,412.64 L378.25,412.65 L379.40,412.66 L380.55,412.68 L381.69,412.69 L382.84,412.71 L383.99,412.72 L385.13,412.73 L386.28,412.75 L387.43,412.76 L388.58,412.78 L389.72,412.79 L390.87,412.81 L392.02,412.82 L393.17,412.84 L394.31,412.85 L395.46,412.87 L396.61,412.88 L397.76,412.90 L398.90,412.91 L400.05,412.93 L401.20,412.94 L402.35,412.96 L403.50,412.97 L404.64,412.99 L405.79,413.00 L406.94,413.02 L408.08,413.04 L409.23,413.05 L410.38,413.07 L411.53,413.08 L412.68,413.10 L413.82,413.12 L414.97,413.14 L416.12,413.15 L417.26,413.17 L418.41,413.19 L419.56,413.20 L420.71,413.22 L421.85,413.24 L423.00,413.26 L424.15,413.27 L425.30,413.29 L426.44,413.31 L427.59,413.33 L428.74,413.35 L429.89,413.37 L431.03,413.39 L432.18,413.40 L433.33,413.42 L434.48,413.44 L435.62,413.46" fill="none" stroke="rgb(31,85,200)" stroke-opacity="0.75" stroke-width="0.7"/>
<path d="M34.00,408.81 L35.15,408.81 L36.30,408.81 L37.44,408.81 L38.59,408.81 L39.74,408.82 L40.88,408.82 L42.03,408.82 L43.18,408.82 L44.33,408.82 L45.48,408.82 L46.62,408.83 L47.77,408.83 L48.92,408.83 L50.06,408.83 L51.21,408.83 L52.36,408.83 L53.51,408.84 L54.66,408.84 L55.80,408.84 L56.95,408.84 L58.10,408.84 L59.24,408.84 L60.39,408.84 L61.54,408.84 L62.69,408.85 L63.84,408.85 L64.98,408.85 L66.13,408.85 L67.28,408.85 L68.42,408.85 L69.57,408.85 L70.72,408.86 L71.87,408.86 L73.02,408.86 L74.16,408.86 L75.31,408.86 L76.46,408.86 L77.60,408.86 L78.75,408.86 L79.90,408.86 L81.05,408.86 L82.19,408.85 L83.34,408.84 L84.49,408.83 L85.64,408.81 L86.78,408.79 L87.93,408.77 L89.08,408.76 L90.23,408.74 L91.38,408.72 L92.52,408.71 L93.67,408.69 L94.82,408.67 L95.97,408.66 L97.11,408.64 L98.26,408.63 L99.41,408.62 L100.55,408.61 L101.70,408.60 L102.85,408.59 L104.00,408.57 L105.14,408.54 L106.29,408.50 L107.44,408.47 L108.59,408.45 L109.73,408.43 L110.88,408.42 L112.03,408.40 L113.18,408.39 L114.33,408.38 L115.47,408.37 L116.62,408.36 L117.77,408.35 L118.91,408.34 L120.06,408.33 L121.21,408.32 L122.36,408.31 L123.50,408.30 L124.65,408.29 L125.80,408.28 L126.95,408.28 L128.09,408.27 L129.24,408.26 L130.39,408.25 L131.54,408.24 L132.69,408.23 L133.83,408.21 L134.98,408.20 L136.13,408.19 L137.27,408.17 L138.42,408.16 L139.57,408.14 L140.72,408.12 L141.87,408.10 L143.01,408.08 L144.16,408.06 L145.31,408.03 L146.45,408.01 L147.60,407.98 L148.75,407.95 L149.90,407.92 L151.05,407.89 L152.19,407.86 L153.34,407.82 L154.49,407.78 L155.63,407.74 L156.78,407.69 L157.93,407.64 L159.08,407.59 L160.22,407.54 L161.37,407.49 L162.52,407.44 L163.67,407.39 L164.81,407.34 L165.96,407.28 L167.11,407.23 L168.26,407.17 L169.41,407.11 L170.55,407.04 L171.70,406.98 L172.85,406.91 L174.00,406.84 L175.14,406.77 L176.29,406.70 L177.44,406.62 L178.59,406.54 L179.73,406.46 L180.88,406.38 L182.03,406.30 L183.17,406.21 L184.32,406.13 L185.47,406.04 L186.62,405.95 L187.76,405.87 L188.91,405.78 L190.06,405.69 L191.21,405.61 L192.35,405.52 L193.50,405.43 L194.65,405.34 L195.80,405.25 L196.94,405.16 L198.09,405.06 L199.24,404.96 L200.39,404.85 L201.53,404.74 L202.68,404.62 L203.83,404.47 L204.98,404.34 L206.12,404.24 L207.27,404.07 L208.42,403.88 L209.57,403.67 L210.72,403.44 L211.86,403.19 L213.01,402.95 L214.16,402.70 L215.31,402.44 L216.45,402.18 L217.60,401.91 L218.75,401.63 L219.89,401.34 L221.04,401.05 L222.19,400.75 L223.34,400.45 L224.48,400.14 L225.63,399.82 L226.78,399.51 L227.93,399.18 L229.07,398.86 L230.22,398.53 L231.37,398.19 L232.52,397.86 L233.66,397.52 L234.81,397.18 L235.96,396.83 L237.11,396.49 L238.25,396.14 L239.40,395.79 L240.55,395.44 L241.70,395.09 L242.84,394.72 L243.99,394.36 L245.14,393.98 L246.29,393.60 L247.44,393.20 L248.58,392.80 L249.73,392.38 L250.88,391.95 L252.03,391.51 L253.17,391.05 L254.32,390.58 L255.47,390.08 L256.62,389.58 L257.76,389.05 L258.91,388.51 L260.06,387.95 L261.20,387.37 L262.35,386.79 L263.50,386.19 L264.65,385.58 L265.79,384.95 L266.94,384.32 L268.09,383.67 L269.24,383.02 L270.38,382.36 L271.53,381.69 L272.68,381.02 L273.83,380.33 L274.98,379.65 L276.12,378.96 L277.27,378.26 L278.42,377.56 L279.56,376.85 L280.71,376.14 L281.86,375.42 L283.01,374.70 L284.15,373.96 L285.30,373.23 L286.45,372.48 L287.60,371.73 L288.75,370.97 L289.89,370.21 L291.04,369.43 L292.19,368.65 L293.33,367.86 L294.48,367.06 L295.63,366.26 L296.78,365.44 L297.93,364.62 L299.07,363.78 L300.22,362.94 L301.37,362.09 L302.51,361.23 L303.66,360.36 L304.81,359.49 L305.96,358.60 L307.11,357.71 L308.25,356.81 L309.40,355.90 L310.55,354.98 L311.69,354.05 L312.84,353.12 L313.99,352.18 L315.14,351.22 L316.28,350.26 L317.43,349.30 L318.58,348.33 L319.73,347.35 L320.88,346.36 L322.02,345.38 L323.17,344.39 L324.32,343.40 L325.46,342.40 L326.61,341.41 L327.76,340.42 L328.91,339.43 L330.06,338.44 L331.20,337.45 L332.35,336.47 L333.50,335.49 L334.64,334.52 L335.79,333.55 L336.94,332.60 L338.09,331.65 L339.24,330.70 L340.38,329.77 L341.53,328.85 L342.68,327.94 L343.82,327.04 L344.97,326.16 L346.12,325.29 L347.27,324.43 L348.41,323.58 L349.56,322.74 L350.71,321.90 L351.86,321.07 L353.00,320.25 L354.15,319.43 L355.30,318.61 L356.45,317.79 L357.59,316.97 L358.74,316.14 L359.89,315.31 L361.04,314.48 L362.19,313.63 L363.33,312.78 L364.48,311.92 L365.63,311.05 L366.77,310.17 L367.92,309.28 L369.07,308.39 L370.22,307.48 L371.37,306.57 L372.51,305.66 L373.66,304.73 L374.81,303.81 L375.95,302.87 L377.10,301.93 L378.25,300.99 L379.40,300.04 L380.55,299.08 L381.69,298.12 L382.84,297.16 L383.99,296.20 L385.13,295.23 L386.28,294.26 L387.43,293.29 L388.58,292.32 L389.72,291.34 L390.87,290.37 L392.02,289.39 L393.17,288.42 L394.31,287.44 L395.46,286.46 L396.61,285.49 L397.76,284.52 L398.90,283.55 L400.05,282.58 L401.20,281.62 L402.35,280.67 L403.50,279.72 L404.64,278.78 L405.79,277.85 L406.94,276.93 L408.08,276.02 L409.23,275.13 L410.38,274.24 L411.53,273.37 L412.68,272.51 L413.82,271.67 L414.97,270.85 L416.12,270.04 L417.26,269.26 L418.41,268.49 L419.56,267.73 L420.71,267.00 L421.85,266.28 L423.00,265.58 L424.15,264.89 L425.30,264.22 L426.44,263.56 L427.59,262.91 L428.74,262.28 L429.89,261.65 L431.03,261.04 L432.18,260.43 L433.33,259.84 L434.48,259.25 L435.62,258.68" fill="none" stroke="rgb(242,108,80)" stroke-width="2.2" stroke-linejoin="round"/>
<path d="M34.00,409.34 L35.15,409.33 L36.30,409.32 L37.44,409.31 L38.59,409.30 L39.74,409.29 L40.88,409.28 L42.03,409.27 L43.18,409.26 L44.33,409.24 L45.48,409.23 L46.62,409.22 L47.77,409.21 L48.92,409.20 L50.06,409.19 L51.21,409.18 L52.36,409.16 L53.51,409.15 L54.66,409.14 L55.80,409.13 L56.95,409.12 L58.10,409.10 L59.24,409.09 L60.39,409.08 L61.54,409.07 L62.69,409.05 L63.84,409.04 L64.98,409.03 L66.13,409.02 L67.28,409.00 L68.42,408.99 L69.57,408.97 L70.72,408.96 L71.87,408.95 L73.02,408.93 L74.16,408.92 L75.31,408.91 L76.46,408.89 L77.60,408.88 L78.75,408.86 L79.90,408.85 L81.05,408.84 L82.19,408.82 L83.34,408.81 L84.49,408.80 L85.64,408.78 L86.78,408.77 L87.93,408.75 L89.08,408.74 L90.23,408.72 L91.38,408.71 L92.52,408.68 L93.67,408.66 L94.82,408.63 L95.97,408.61 L97.11,408.59 L98.26,408.58 L99.41,408.58 L100.55,408.57 L101.70,408.56 L102.85,408.55 L104.00,408.53 L105.14,408.51 L106.29,408.48 L107.44,408.46 L108.59,408.45 L109.73,408.45 L110.88,408.45 L112.03,408.46 L113.18,408.46 L114.33,408.46 L115.47,408.47 L116.62,408.47 L117.77,408.48 L118.91,408.49 L120.06,408.49 L121.21,408.50 L122.36,408.51 L123.50,408.52 L124.65,408.52 L125.80,408.53 L126.95,408.54 L128.09,408.54 L129.24,408.55 L130.39,408.55 L131.54,408.56 L132.69,408.56 L133.83,408.56 L134.98,408.56 L136.13,408.56 L137.27,408.56 L138.42,408.56 L139.57,408.55 L140.72,408.55 L141.87,408.54 L143.01,408.53 L144.16,408.52 L145.31,408.51 L146.45,408.50 L147.60,408.49 L148.75,408.48 L149.90,408.46 L151.05,408.45 L152.19,408.43 L153.34,408.42 L154.49,408.40 L155.63,408.38 L156.78,408.36 L157.93,408.34 L159.08,408.32 L160.22,408.30 L161.37,408.28 L162.52,408.26 L163.67,408.24 L164.81,408.22 L165.96,408.20 L167.11,408.18 L168.26,408.15 L169.41,408.13 L170.55,408.11 L171.70,408.09 L172.85,408.06 L174.00,408.04 L175.14,408.02 L176.29,407.99 L177.44,407.97 L178.59,407.95 L179.73,407.93 L180.88,407.90 L182.03,407.88 L183.17,407.86 L184.32,407.84 L185.47,407.81 L186.62,407.79 L187.76,407.77 L188.91,407.74 L190.06,407.72 L191.21,407.69 L192.35,407.66 L193.50,407.64 L194.65,407.61 L195.80,407.58 L196.94,407.55 L198.09,407.51 L199.24,407.48 L200.39,407.44 L201.53,407.40 L202.68,407.36 L203.83,407.29 L204.98,407.22 L206.12,407.17 L207.27,407.12 L208.42,407.07 L209.57,407.02 L210.72,406.97 L211.86,406.92 L213.01,406.87 L214.16,406.80 L215.31,406.73 L216.45,406.65 L217.60,406.56 L218.75,406.47 L219.89,406.37 L221.04,406.25 L222.19,406.14 L223.34,406.01 L224.48,405.88 L225.63,405.73 L226.78,405.59 L227.93,405.43 L229.07,405.27 L230.22,405.10 L231.37,404.92 L232.52,404.73 L233.66,404.54 L234.81,404.34 L235.96,404.14 L237.11,403.92 L238.25,403.70 L239.40,403.48 L240.55,403.24 L241.70,403.00 L242.84,402.76 L243.99,402.50 L245.14,402.24 L246.29,401.98 L247.44,401.71 L248.58,401.43 L249.73,401.14 L250.88,400.85 L252.03,400.56 L253.17,400.25 L254.32,399.95 L255.47,399.63 L256.62,399.31 L257.76,398.99 L258.91,398.65 L260.06,398.32 L261.20,397.97 L262.35,397.63 L263.50,397.27 L264.65,396.91 L265.79,396.55 L266.94,396.18 L268.09,395.80 L269.24,395.42 L270.38,395.04 L271.53,394.65 L272.68,394.26 L273.83,393.86 L274.98,393.45 L276.12,393.04 L277.27,392.63 L278.42,392.21 L279.56,391.79 L280.71,391.36 L281.86,390.92 L283.01,390.48 L284.15,390.04 L285.30,389.58 L286.45,389.12 L287.60,388.66 L288.75,388.18 L289.89,387.70 L291.04,387.21 L292.19,386.71 L293.33,386.20 L294.48,385.69 L295.63,385.16 L296.78,384.63 L297.93,384.09 L299.07,383.53 L300.22,382.97 L301.37,382.40 L302.51,381.81 L303.66,381.22 L304.81,380.62 L305.96,380.01 L307.11,379.39 L308.25,378.76 L309.40,378.12 L310.55,377.47 L311.69,376.81 L312.84,376.14 L313.99,375.47 L315.14,374.78 L316.28,374.09 L317.43,373.39 L318.58,372.68 L319.73,371.96 L320.88,371.23 L322.02,370.50 L323.17,369.75 L324.32,369.00 L325.46,368.24 L326.61,367.47 L327.76,366.70 L328.91,365.92 L330.06,365.13 L331.20,364.34 L332.35,363.54 L333.50,362.74 L334.64,361.92 L335.79,361.11 L336.94,360.29 L338.09,359.46 L339.24,358.63 L340.38,357.80 L341.53,356.96 L342.68,356.12 L343.82,355.28 L344.97,354.43 L346.12,353.58 L347.27,352.73 L348.41,351.87 L349.56,351.01 L350.71,350.14 L351.86,349.27 L353.00,348.40 L354.15,347.51 L355.30,346.63 L356.45,345.73 L357.59,344.83 L358.74,343.92 L359.89,343.01 L361.04,342.09 L362.19,341.15 L363.33,340.21 L364.48,339.27 L365.63,338.31 L366.77,337.34 L367.92,336.36 L369.07,335.37 L370.22,334.37 L371.37,333.36 L372.51,332.34 L373.66,331.30 L374.81,330.26 L375.95,329.20 L377.10,328.12 L378.25,327.04 L379.40,325.93 L380.55,324.82 L381.69,323.69 L382.84,322.55 L383.99,321.39 L385.13,320.21 L386.28,319.03 L387.43,317.83 L388.58,316.61 L389.72,315.38 L390.87,314.14 L392.02,312.88 L393.17,311.61 L394.31,310.32 L395.46,309.02 L396.61,307.71 L397.76,306.38 L398.90,305.04 L400.05,303.69 L401.20,302.32 L402.35,300.94 L403.50,299.55 L404.64,298.14 L405.79,296.72 L406.94,295.29 L408.08,293.85 L409.23,292.39 L410.38,290.92 L411.53,289.44 L412.68,287.95 L413.82,286.46 L414.97,284.96 L416.12,283.46 L417.26,281.95 L418.41,280.44 L419.56,278.93 L420.71,277.43 L421.85,275.92 L423.00,274.42 L424.15,272.92 L425.30,271.43 L426.44,269.95 L427.59,268.48 L428.74,267.02 L429.89,265.57 L431.03,264.13 L432.18,262.71 L433.33,261.30 L434.48,259.91 L435.62,258.54" fill="none" stroke="rgb(192,20,60)" stroke-width="2.2" stroke-dasharray="2 2.1"/>
<path d="M34.00,408.81 L35.15,408.81 L36.30,408.81 L37.44,408.81 L38.59,408.81 L39.74,408.82 L40.88,408.82 L42.03,408.82 L43.18,408.82 L44.33,408.82 L45.48,408.82 L46.62,408.83 L47.77,408.83 L48.92,408.83 L50.06,408.83 L51.21,408.83 L52.36,408.83 L53.51,408.84 L54.66,408.84 L55.80,408.84 L56.95,408.84 L58.10,408.84 L59.24,408.84 L60.39,408.84 L61.54,408.84 L62.69,408.85 L63.84,408.85 L64.98,408.85 L66.13,408.85 L67.28,408.85 L68.42,408.85 L69.57,408.85 L70.72,408.86 L71.87,408.86 L73.02,408.86 L74.16,408.86 L75.31,408.86 L76.46,408.86 L77.60,408.86 L78.75,408.86 L79.90,408.86 L81.05,408.86 L82.19,408.85 L83.34,408.84 L84.49,408.83 L85.64,408.81 L86.78,408.79 L87.93,408.77 L89.08,408.76 L90.23,408.74 L91.38,408.72 L92.52,408.71 L93.67,408.69 L94.82,408.67 L95.97,408.66 L97.11,408.64 L98.26,408.63 L99.41,408.62 L100.55,408.61 L101.70,408.60 L102.85,408.59 L104.00,408.57 L105.14,408.54 L106.29,408.51 L107.44,408.48 L108.59,408.45 L109.73,408.42 L110.88,408.40 L112.03,408.37 L113.18,408.35 L114.33,408.32 L115.47,408.30 L116.62,408.28 L117.77,408.25 L118.91,408.23 L120.06,408.21 L121.21,408.18 L122.36,408.16 L123.50,408.14 L124.65,408.11 L125.80,408.09 L126.95,408.06 L128.09,408.04 L129.24,408.02 L130.39,407.99 L131.54,407.96 L132.69,407.94 L133.83,407.92 L134.98,407.89 L136.13,407.87 L137.27,407.85 L138.42,407.82 L139.57,407.80 L140.72,407.77 L141.87,407.75 L143.01,407.72 L144.16,407.70 L145.31,407.67 L146.45,407.64 L147.60,407.61 L148.75,407.58 L149.90,407.54 L151.05,407.50 L152.19,407.46 L153.34,407.42 L154.49,407.37 L155.63,407.32 L156.78,407.26 L157.93,407.20 L159.08,407.13 L160.22,407.07 L161.37,407.00 L162.52,406.93 L163.67,406.86 L164.81,406.79 L165.96,406.72 L167.11,406.64 L168.26,406.57 L169.41,406.50 L170.55,406.43 L171.70,406.37 L172.85,406.30 L174.00,406.23 L175.14,406.17 L176.29,406.10 L177.44,406.03 L178.59,405.97 L179.73,405.90 L180.88,405.83 L182.03,405.76 L183.17,405.68 L184.32,405.61 L185.47,405.53 L186.62,405.45 L187.76,405.37 L188.91,405.28 L190.06,405.19 L191.21,405.10 L192.35,405.00 L193.50,404.90 L194.65,404.80 L195.80,404.70 L196.94,404.60 L198.09,404.49 L199.24,404.38 L200.39,404.27 L201.53,404.16 L202.68,404.05 L203.83,403.91 L204.98,403.80 L206.12,403.72 L207.27,403.61 L208.42,403.50 L209.57,403.39 L210.72,403.28 L211.86,403.17 L213.01,403.06 L214.16,402.94 L215.31,402.83 L216.45,402.71 L217.60,402.59 L218.75,402.48 L219.89,402.35 L221.04,402.23 L222.19,402.11 L223.34,401.98 L224.48,401.86 L225.63,401.73 L226.78,401.60 L227.93,401.46 L229.07,401.33 L230.22,401.20 L231.37,401.06 L232.52,400.92 L233.66,400.78 L234.81,400.64 L235.96,400.50 L237.11,400.35 L238.25,400.20 L239.40,400.06 L240.55,399.91 L241.70,399.75 L242.84,399.60 L243.99,399.44 L245.14,399.29 L246.29,399.13 L247.44,398.97 L248.58,398.80 L249.73,398.64 L250.88,398.47 L252.03,398.30 L253.17,398.13 L254.32,397.96 L255.47,397.78 L256.62,397.61 L257.76,397.43 L258.91,397.25 L260.06,397.07 L261.20,396.88 L262.35,396.70 L263.50,396.51 L264.65,396.32 L265.79,396.12 L266.94,395.93 L268.09,395.73 L269.24,395.53 L270.38,395.33 L271.53,395.13 L272.68,394.92 L273.83,394.71 L274.98,394.50 L276.12,394.29 L277.27,394.08 L278.42,393.86 L279.56,393.64 L280.71,393.42 L281.86,393.20 L283.01,392.98 L284.15,392.76 L285.30,392.54 L286.45,392.32 L287.60,392.11 L288.75,391.89 L289.89,391.68 L291.04,391.47 L292.19,391.26 L293.33,391.06 L294.48,390.86 L295.63,390.66 L296.78,390.47 L297.93,390.29 L299.07,390.11 L300.22,389.93 L301.37,389.76 L302.51,389.59 L303.66,389.43 L304.81,389.26 L305.96,389.09 L307.11,388.93 L308.25,388.76 L309.40,388.58 L310.55,388.40 L311.69,388.22 L312.84,388.03 L313.99,387.83 L315.14,387.62 L316.28,387.40 L317.43,387.17 L318.58,386.93 L319.73,386.68 L320.88,386.41 L322.02,386.13 L323.17,385.83 L324.32,385.51 L325.46,385.19 L326.61,384.85 L327.76,384.50 L328.91,384.14 L330.06,383.78 L331.20,383.41 L332.35,383.03 L333.50,382.65 L334.64,382.26 L335.79,381.88 L336.94,381.49 L338.09,381.10 L339.24,380.71 L340.38,380.32 L341.53,379.94 L342.68,379.56 L343.82,379.18 L344.97,378.80 L346.12,378.43 L347.27,378.07 L348.41,377.71 L349.56,377.35 L350.71,377.00 L351.86,376.65 L353.00,376.30 L354.15,375.96 L355.30,375.61 L356.45,375.27 L357.59,374.93 L358.74,374.59 L359.89,374.25 L361.04,373.91 L362.19,373.57 L363.33,373.23 L364.48,372.89 L365.63,372.54 L366.77,372.20 L367.92,371.85 L369.07,371.50 L370.22,371.14 L371.37,370.79 L372.51,370.42 L373.66,370.06 L374.81,369.69 L375.95,369.31 L377.10,368.93 L378.25,368.54 L379.40,368.16 L380.55,367.77 L381.69,367.37 L382.84,366.98 L383.99,366.59 L385.13,366.19 L386.28,365.80 L387.43,365.41 L388.58,365.02 L389.72,364.63 L390.87,364.24 L392.02,363.86 L393.17,363.48 L394.31,363.10 L395.46,362.72 L396.61,362.34 L397.76,361.96 L398.90,361.58 L400.05,361.20 L401.20,360.82 L402.35,360.43 L403.50,360.05 L404.64,359.65 L405.79,359.26 L406.94,358.86 L408.08,358.45 L409.23,358.04 L410.38,357.63 L411.53,357.21 L412.68,356.78 L413.82,356.35 L414.97,355.92 L416.12,355.48 L417.26,355.04 L418.41,354.59 L419.56,354.14 L420.71,353.69 L421.85,353.23 L423.00,352.77 L424.15,352.31 L425.30,351.84 L426.44,351.37 L427.59,350.89 L428.74,350.41 L429.89,349.93 L431.03,349.45 L432.18,348.96 L433.33,348.47 L434.48,347.98 L435.62,347.48" fill="none" stroke="rgb(86,165,230)" stroke-width="2.2" stroke-linejoin="round"/>
<path d="M34.00,409.34 L35.15,409.33 L36.30,409.32 L37.44,409.31 L38.59,409.30 L39.74,409.29 L40.88,409.28 L42.03,409.27 L43.18,409.26 L44.33,409.24 L45.48,409.23 L46.62,409.22 L47.77,409.21 L48.92,409.20 L50.06,409.19 L51.21,409.18 L52.36,409.16 L53.51,409.15 L54.66,409.14 L55.80,409.13 L56.95,409.12 L58.10,409.10 L59.24,409.09 L60.39,409.08 L61.54,409.07 L62.69,409.05 L63.84,409.04 L64.98,409.03 L66.13,409.02 L67.28,409.00 L68.42,408.99 L69.57,408.97 L70.72,408.96 L71.87,408.95 L73.02,408.93 L74.16,408.92 L75.31,408.91 L76.46,408.89 L77.60,408.88 L78.75,408.86 L79.90,408.85 L81.05,408.84 L82.19,408.82 L83.34,408.81 L84.49,408.80 L85.64,408.78 L86.78,408.77 L87.93,408.75 L89.08,408.74 L90.23,408.72 L91.38,408.71 L92.52,408.68 L93.67,408.66 L94.82,408.63 L95.97,408.61 L97.11,408.59 L98.26,408.58 L99.41,408.58 L100.55,408.57 L101.70,408.56 L102.85,408.55 L104.00,408.53 L105.14,408.51 L106.29,408.48 L107.44,408.46 L108.59,408.45 L109.73,408.45 L110.88,408.45 L112.03,408.45 L113.18,408.45 L114.33,408.46 L115.47,408.46 L116.62,408.46 L117.77,408.46 L118.91,408.47 L120.06,408.47 L121.21,408.47 L122.36,408.48 L123.50,408.48 L124.65,408.48 L125.80,408.49 L126.95,408.49 L128.09,408.49 L129.24,408.50 L130.39,408.50 L131.54,408.51 L132.69,408.51 L133.83,408.52 L134.98,408.52 L136.13,408.52 L137.27,408.53 L138.42,408.53 L139.57,408.54 L140.72,408.54 L141.87,408.54 L143.01,408.55 L144.16,408.55 L145.31,408.55 L146.45,408.55 L147.60,408.56 L148.75,408.56 L149.90,408.56 L151.05,408.56 L152.19,408.56 L153.34,408.56 L154.49,408.56 L155.63,408.56 L156.78,408.56 L157.93,408.55 L159.08,408.55 L160.22,408.54 L161.37,408.53 L162.52,408.53 L163.67,408.52 L164.81,408.51 L165.96,408.50 L167.11,408.49 L168.26,408.48 L169.41,408.47 L170.55,408.46 L171.70,408.45 L172.85,408.44 L174.00,408.44 L175.14,408.43 L176.29,408.42 L177.44,408.41 L178.59,408.41 L179.73,408.40 L180.88,408.40 L182.03,408.39 L183.17,408.39 L184.32,408.39 L185.47,408.38 L186.62,408.38 L187.76,408.38 L188.91,408.37 L190.06,408.37 L191.21,408.37 L192.35,408.36 L193.50,408.36 L194.65,408.36 L195.80,408.36 L196.94,408.35 L198.09,408.35 L199.24,408.35 L200.39,408.35 L201.53,408.35 L202.68,408.34 L203.83,408.34 L204.98,408.34 L206.12,408.33 L207.27,408.33 L208.42,408.33 L209.57,408.33 L210.72,408.33 L211.86,408.33 L213.01,408.33 L214.16,408.33 L215.31,408.34 L216.45,408.34 L217.60,408.34 L218.75,408.34 L219.89,408.34 L221.04,408.34 L222.19,408.34 L223.34,408.34 L224.48,408.35 L225.63,408.35 L226.78,408.35 L227.93,408.35 L229.07,408.35 L230.22,408.35 L231.37,408.35 L232.52,408.35 L233.66,408.35 L234.81,408.35 L235.96,408.35 L237.11,408.35 L238.25,408.35 L239.40,408.35 L240.55,408.35 L241.70,408.35 L242.84,408.34 L243.99,408.34 L245.14,408.34 L246.29,408.34 L247.44,408.34 L248.58,408.34 L249.73,408.34 L250.88,408.34 L252.03,408.33 L253.17,408.33 L254.32,408.33 L255.47,408.33 L256.62,408.33 L257.76,408.33 L258.91,408.32 L260.06,408.32 L261.20,408.32 L262.35,408.32 L263.50,408.31 L264.65,408.31 L265.79,408.31 L266.94,408.31 L268.09,408.30 L269.24,408.30 L270.38,408.30 L271.53,408.29 L272.68,408.29 L273.83,408.29 L274.98,408.28 L276.12,408.28 L277.27,408.28 L278.42,408.27 L279.56,408.27 L280.71,408.27 L281.86,408.26 L283.01,408.26 L284.15,408.25 L285.30,408.25 L286.45,408.24 L287.60,408.24 L288.75,408.24 L289.89,408.23 L291.04,408.23 L292.19,408.22 L293.33,408.22 L294.48,408.21 L295.63,408.21 L296.78,408.20 L297.93,408.20 L299.07,408.19 L300.22,408.18 L301.37,408.18 L302.51,408.17 L303.66,408.17 L304.81,408.16 L305.96,408.16 L307.11,408.15 L308.25,408.14 L309.40,408.14 L310.55,408.13 L311.69,408.12 L312.84,408.12 L313.99,408.11 L315.14,408.10 L316.28,408.10 L317.43,408.09 L318.58,408.08 L319.73,408.08 L320.88,408.07 L322.02,408.06 L323.17,408.05 L324.32,408.05 L325.46,408.04 L326.61,408.03 L327.76,408.02 L328.91,408.02 L330.06,408.01 L331.20,408.00 L332.35,407.99 L333.50,407.98 L334.64,407.98 L335.79,407.97 L336.94,407.96 L338.09,407.95 L339.24,407.94 L340.38,407.93 L341.53,407.92 L342.68,407.92 L343.82,407.91 L344.97,407.90 L346.12,407.89 L347.27,407.88 L348.41,407.87 L349.56,407.86 L350.71,407.85 L351.86,407.84 L353.00,407.83 L354.15,407.82 L355.30,407.81 L356.45,407.80 L357.59,407.79 L358.74,407.78 L359.89,407.77 L361.04,407.76 L362.19,407.75 L363.33,407.74 L364.48,407.73 L365.63,407.72 L366.77,407.71 L367.92,407.69 L369.07,407.68 L370.22,407.67 L371.37,407.66 L372.51,407.65 L373.66,407.64 L374.81,407.63 L375.95,407.62 L377.10,407.60 L378.25,407.59 L379.40,407.58 L380.55,407.57 L381.69,407.56 L382.84,407.54 L383.99,407.53 L385.13,407.52 L386.28,407.51 L387.43,407.49 L388.58,407.48 L389.72,407.47 L390.87,407.46 L392.02,407.44 L393.17,407.43 L394.31,407.42 L395.46,407.40 L396.61,407.39 L397.76,407.38 L398.90,407.36 L400.05,407.35 L401.20,407.34 L402.35,407.32 L403.50,407.31 L404.64,407.29 L405.79,407.28 L406.94,407.27 L408.08,407.25 L409.23,407.24 L410.38,407.22 L411.53,407.21 L412.68,407.19 L413.82,407.18 L414.97,407.17 L416.12,407.15 L417.26,407.14 L418.41,407.12 L419.56,407.11 L420.71,407.09 L421.85,407.08 L423.00,407.06 L424.15,407.04 L425.30,407.03 L426.44,407.01 L427.59,407.00 L428.74,406.98 L429.89,406.97 L431.03,406.95 L432.18,406.93 L433.33,406.92 L434.48,406.90 L435.62,406.89" fill="none" stroke="rgb(31,85,200)" stroke-width="2.2" stroke-dasharray="2 2.1"/>
</g>
<rect x="34" y="13.4" width="401.6" height="422.90000000000003" fill="none" stroke="#363636" stroke-width="1"/>
<path d="M34.00,436.3 V432.3 M34.00,13.4 V17.4 M91.38,436.3 V432.3 M91.38,13.4 V17.4 M148.75,436.3 V432.3 M148.75,13.4 V17.4 M206.12,436.3 V432.3 M206.12,13.4 V17.4 M263.50,436.3 V432.3 M263.50,13.4 V17.4 M320.88,436.3 V432.3 M320.88,13.4 V17.4 M378.25,436.3 V432.3 M378.25,13.4 V17.4 M435.62,436.3 V432.3 M435.62,13.4 V17.4 M34,408.45 H38 M435.6,408.45 H431.6 M34,352.85 H38 M435.6,352.85 H431.6 M34,297.25 H38 M435.6,297.25 H431.6 M34,241.65 H38 M435.6,241.65 H431.6 M34,186.05 H38 M435.6,186.05 H431.6 M34,130.45 H38 M435.6,130.45 H431.6 M34,74.85 H38 M435.6,74.85 H431.6 M34,19.25 H38 M435.6,19.25 H431.6" stroke="#363636" stroke-width="1" fill="none"/>
<text x="34.00" y="457.1" font-size="14.5" fill="#262626" text-anchor="middle">1950</text>
<text x="91.38" y="457.1" font-size="14.5" fill="#262626" text-anchor="middle">2000</text>
<text x="148.75" y="457.1" font-size="14.5" fill="#262626" text-anchor="middle">2050</text>
<text x="206.12" y="457.1" font-size="14.5" fill="#262626" text-anchor="middle">2100</text>
<text x="263.50" y="457.1" font-size="14.5" fill="#262626" text-anchor="middle">2150</text>
<text x="320.88" y="457.1" font-size="14.5" fill="#262626" text-anchor="middle">2200</text>
<text x="378.25" y="457.1" font-size="14.5" fill="#262626" text-anchor="middle">2250</text>
<text x="435.62" y="457.1" font-size="14.5" fill="#262626" text-anchor="middle">2300</text>
<text x="27.2" y="413.65" font-size="14.5" fill="#262626" text-anchor="end">0</text>
<text x="27.2" y="358.05" font-size="14.5" fill="#262626" text-anchor="end">1</text>
<text x="27.2" y="302.45" font-size="14.5" fill="#262626" text-anchor="end">2</text>
<text x="27.2" y="246.85" font-size="14.5" fill="#262626" text-anchor="end">3</text>
<text x="27.2" y="191.25" font-size="14.5" fill="#262626" text-anchor="end">4</text>
<text x="27.2" y="135.65" font-size="14.5" fill="#262626" text-anchor="end">5</text>
<text x="27.2" y="80.05" font-size="14.5" fill="#262626" text-anchor="end">6</text>
<text x="27.2" y="24.45" font-size="14.5" fill="#262626" text-anchor="end">7</text>
<text x="234.8" y="478.2" font-size="15.6" fill="#262626" text-anchor="middle">Year (CE)</text>
<text transform="translate(11.0,224.9) rotate(-90)" font-size="15.0" fill="#262626" text-anchor="middle">Sea-level contribution (m)</text>
<text x="35.6" y="10.9" font-size="15" font-weight="bold" fill="#000">a</text>
<text x="54.6" y="39.4" font-size="12.3" font-weight="bold" fill="#000">SSP1-2.6</text>
<text x="158.6" y="39.4" font-size="12.3" font-weight="bold" fill="#000">SSP5-8.5</text>
<path d="M55.4,54.6 H96" stroke="rgb(86,165,230)" stroke-width="2.2"/>
<path d="M55.4,71.6 H96" stroke="rgb(31,85,200)" stroke-width="2.2" stroke-dasharray="2 2.08"/>
<path d="M158.7,54.6 H199.3" stroke="rgb(242,108,80)" stroke-width="2.2"/>
<path d="M158.7,71.6 H199.3" stroke="rgb(192,20,60)" stroke-width="2.2" stroke-dasharray="2 2.08"/>
<path d="M263,54.0 H302.5" stroke="#c8c8c8" stroke-width="1.6"/>
<text x="99.4" y="60.1" font-size="12.3" fill="#262626">Kori-ULB</text>
<text x="99.4" y="77.1" font-size="12.3" fill="#262626">PISM</text>
<text x="202.9" y="60.1" font-size="12.3" fill="#262626">Kori-ULB</text>
<text x="202.9" y="77.1" font-size="12.3" fill="#262626">PISM</text>
<text x="307.0" y="59.2" font-size="12.35" fill="#262626">Observations (IMBIE)</text>
<rect x="260.60" y="166.80" width="4.60" height="78.40" fill="rgb(86,165,230)" fill-opacity="0.5"/>
<rect x="260.60" y="205.10" width="4.60" height="35.80" fill="rgb(86,165,230)" fill-opacity="0.5"/>
<rect x="260.60" y="225.50" width="4.60" height="1.60" fill="rgb(86,165,230)" fill-opacity="0.9"/>
<rect x="266.20" y="237.00" width="4.60" height="19.20" fill="rgb(31,85,200)" fill-opacity="0.45"/>
<rect x="266.20" y="243.40" width="4.60" height="9.00" fill="rgb(31,85,200)" fill-opacity="0.45"/>
<rect x="266.20" y="247.00" width="4.60" height="1.60" fill="rgb(31,85,200)" fill-opacity="0.9"/>
<rect x="271.90" y="156.60" width="4.60" height="93.20" fill="rgb(242,108,80)" fill-opacity="0.5"/>
<rect x="271.90" y="196.20" width="4.60" height="47.20" fill="rgb(242,108,80)" fill-opacity="0.5"/>
<rect x="271.90" y="226.80" width="4.60" height="1.60" fill="rgb(242,108,80)" fill-opacity="0.9"/>
<rect x="277.50" y="218.70" width="4.60" height="41.90" fill="rgb(192,20,60)" fill-opacity="0.5"/>
<rect x="277.50" y="232.50" width="4.60" height="21.90" fill="rgb(192,20,60)" fill-opacity="0.5"/>
<rect x="277.50" y="242.20" width="4.60" height="1.60" fill="rgb(192,20,60)" fill-opacity="0.9"/>
<rect x="286.90" y="145.80" width="5.40" height="104.50" fill="rgb(150,150,150)" fill-opacity="0.32"/>
<rect x="286.90" y="182.10" width="5.40" height="57.50" fill="rgb(150,150,150)" fill-opacity="0.35"/>
<rect x="286.90" y="219.90" width="5.40" height="1.60" fill="rgb(150,150,150)" fill-opacity="0.9"/>
<rect x="293.30" y="106.20" width="4.60" height="141.60" fill="rgb(110,110,110)" fill-opacity="0.45"/>
<rect x="293.30" y="164.30" width="4.60" height="75.80" fill="rgb(110,110,110)" fill-opacity="0.35"/>
<rect x="293.30" y="217.10" width="4.60" height="1.60" fill="rgb(110,110,110)" fill-opacity="0.9"/>
<text x="284.3" y="263.8" font-size="9.45" font-weight="bold" fill="#000">AR6</text>
<rect x="440.10" y="311.40" width="4.70" height="93.40" fill="rgb(86,165,230)" fill-opacity="0.5"/>
<rect x="440.10" y="320.50" width="4.70" height="76.40" fill="rgb(86,165,230)" fill-opacity="0.5"/>
<rect x="440.10" y="346.70" width="4.70" height="1.60" fill="rgb(86,165,230)" fill-opacity="0.9"/>
<rect x="446.10" y="391.30" width="4.70" height="22.30" fill="rgb(31,85,200)" fill-opacity="0.45"/>
<rect x="446.10" y="400.00" width="4.70" height="10.40" fill="rgb(31,85,200)" fill-opacity="0.45"/>
<rect x="446.10" y="406.20" width="4.70" height="1.60" fill="rgb(31,85,200)" fill-opacity="0.9"/>
<rect x="451.80" y="125.30" width="4.40" height="242.70" fill="rgb(242,108,80)" fill-opacity="0.5"/>
<rect x="451.80" y="181.50" width="4.40" height="158.80" fill="rgb(242,108,80)" fill-opacity="0.5"/>
<rect x="451.80" y="259.00" width="4.40" height="1.60" fill="rgb(242,108,80)" fill-opacity="0.9"/>
<rect x="457.10" y="77.00" width="5.00" height="275.90" fill="rgb(192,20,60)" fill-opacity="0.5"/>
<rect x="457.10" y="163.50" width="5.00" height="153.20" fill="rgb(192,20,60)" fill-opacity="0.5"/>
<rect x="457.10" y="256.00" width="5.00" height="1.60" fill="rgb(192,20,60)" fill-opacity="0.9"/>
<rect x="467.2" y="364.8" width="4.6" height="51.30000000000001" fill="#c8c8c8"/>
<rect x="473.1" y="233.7" width="4.5" height="189.7" fill="#9b9b9b"/>
<rect x="482.1" y="163.6" width="4.8" height="272.70000000000005" fill="#9b9b9b"/>
<text x="459.9" y="435.1" font-size="9.45" font-weight="bold" fill="#000">AR6</text>
<text x="469.3" y="448.4" font-size="9.55" font-weight="bold" fill="#000">ISMIP6</text>
<rect x="71.6" y="99.5" width="185.1" height="173.2" fill="#fff"/>
<g clip-path="url(#ci)">
<path d="M71.60,245.89 L72.22,245.89 L72.83,245.90 L73.45,245.91 L74.07,245.91 L74.68,245.92 L75.30,245.93 L75.92,245.94 L76.53,245.95 L77.15,245.96 L77.77,245.98 L78.38,245.99 L79.00,246.00 L79.62,246.01 L80.23,246.03 L80.85,246.04 L81.47,246.06 L82.08,246.07 L82.70,246.09 L83.32,246.11 L83.93,246.12 L84.55,246.14 L85.17,246.16 L85.78,246.18 L86.40,246.20 L87.02,246.22 L87.63,246.23 L88.25,246.25 L88.87,246.27 L89.48,246.29 L90.10,246.31 L90.72,246.33 L91.33,246.35 L91.95,246.38 L92.57,246.40 L93.18,246.43 L93.80,246.45 L94.42,246.48 L95.03,246.51 L95.65,246.54 L96.27,246.57 L96.88,246.60 L97.50,246.63 L98.12,246.66 L98.73,246.70 L99.35,246.73 L99.97,246.77 L100.58,246.80 L101.20,246.84 L101.82,246.88 L102.43,246.91 L103.05,246.95 L103.67,246.99 L104.28,247.03 L104.90,247.07 L105.52,247.11 L106.13,247.15 L106.75,247.19 L107.37,247.23 L107.98,247.27 L108.60,247.31 L109.22,247.35 L109.83,247.40 L110.45,247.45 L111.07,247.51 L111.68,247.57 L112.30,247.64 L112.92,247.71 L113.53,247.77 L114.15,247.84 L114.77,247.90 L115.38,247.97 L116.00,248.03 L116.62,248.08 L117.23,248.14 L117.85,248.18 L118.47,248.22 L119.08,248.26 L119.70,248.28 L120.32,248.29 L120.93,248.30 L121.55,248.30 L122.17,248.30 L122.78,248.30 L123.40,248.29 L124.02,248.29 L124.63,248.29 L125.25,248.28 L125.87,248.28 L126.48,248.27 L127.10,248.27 L127.72,248.26 L128.33,248.26 L128.95,248.25 L129.57,248.24 L130.18,248.24 L130.80,248.23 L131.42,248.23 L132.03,248.22 L132.65,248.21 L133.26,248.21 L133.88,248.20 L134.50,248.20 L135.11,248.19 L135.73,248.19 L136.35,248.18 L136.96,248.18 L137.58,248.18 L138.20,248.18 L138.81,248.18 L139.43,248.18 L140.05,248.18 L140.66,248.18 L141.28,248.18 L141.90,248.18 L142.51,248.18 L143.13,248.19 L143.75,248.19 L144.36,248.19 L144.98,248.20 L145.60,248.20 L146.21,248.20 L146.83,248.21 L147.45,248.21 L148.06,248.21 L148.68,248.22 L149.30,248.22 L149.91,248.22 L150.53,248.22 L151.15,248.23 L151.76,248.23 L152.38,248.22 L153.00,248.19 L153.61,248.16 L154.23,248.10 L154.85,248.04 L155.46,247.96 L156.08,247.88 L156.70,247.78 L157.31,247.68 L157.93,247.57 L158.55,247.46 L159.16,247.34 L159.78,247.21 L160.40,247.09 L161.01,246.96 L161.63,246.83 L162.25,246.71 L162.86,246.58 L163.48,246.46 L164.10,246.34 L164.71,246.23 L165.33,246.12 L165.95,246.02 L166.56,245.91 L167.18,245.80 L167.80,245.68 L168.41,245.57 L169.03,245.46 L169.65,245.34 L170.26,245.22 L170.88,245.10 L171.50,244.98 L172.11,244.86 L172.73,244.73 L173.35,244.60 L173.96,244.47 L174.58,244.34 L175.20,244.21 L175.81,244.08 L176.43,243.94 L177.05,243.80 L177.66,243.66 L178.28,243.52 L178.90,243.38 L179.51,243.23 L180.13,243.08 L180.75,242.93 L181.36,242.78 L181.98,242.62 L182.60,242.46 L183.21,242.30 L183.83,242.13 L184.45,241.96 L185.06,241.78 L185.68,241.60 L186.30,241.42 L186.91,241.23 L187.53,241.03 L188.15,240.83 L188.76,240.62 L189.38,240.41 L190.00,240.19 L190.61,239.97 L191.23,239.74 L191.85,239.51 L192.46,239.27 L193.08,239.02 L193.70,238.77 L194.31,238.51 L194.93,238.24 L195.55,237.97 L196.16,237.69 L196.78,237.41 L197.40,237.12 L198.01,236.82 L198.63,236.50 L199.25,236.17 L199.86,235.83 L200.48,235.48 L201.10,235.11 L201.71,234.74 L202.33,234.36 L202.95,233.97 L203.56,233.57 L204.18,233.17 L204.80,232.76 L205.41,232.35 L206.03,231.93 L206.65,231.51 L207.26,231.09 L207.88,230.66 L208.50,230.24 L209.11,229.81 L209.73,229.37 L210.35,228.92 L210.96,228.47 L211.58,228.01 L212.20,227.55 L212.81,227.08 L213.43,226.60 L214.05,226.12 L214.66,225.63 L215.28,225.14 L215.90,224.64 L216.51,224.13 L217.13,223.62 L217.75,223.11 L218.36,222.59 L218.98,222.06 L219.60,221.54 L220.21,221.01 L220.83,220.47 L221.45,219.93 L222.06,219.38 L222.68,218.82 L223.30,218.25 L223.91,217.66 L224.53,217.06 L225.15,216.44 L225.76,215.80 L226.38,215.14 L227.00,214.45 L227.61,213.74 L228.23,213.00 L228.85,212.24 L229.46,211.45 L230.08,210.65 L230.70,209.82 L231.31,208.97 L231.93,208.10 L232.55,207.21 L233.16,206.30 L233.78,205.38 L234.40,204.43 L235.01,203.46 L235.63,202.44 L236.25,201.40 L236.86,200.33 L237.48,199.23 L238.10,198.10 L238.71,196.95 L239.33,195.78 L239.95,194.59 L240.56,193.38 L241.18,192.13 L241.80,190.82 L242.41,189.47 L243.03,188.08 L243.65,186.67 L244.26,185.25 L244.88,183.84 L245.50,182.44 L246.11,181.06 L246.73,179.73 L247.35,178.44 L247.96,177.21 L248.58,176.01 L249.20,174.83 L249.81,173.66 L250.43,172.48 L251.05,171.28 L251.66,170.04 L252.28,168.75 L252.90,167.39 L253.51,165.91 L254.13,164.31 L254.75,162.68 L255.36,161.08 L255.98,159.58 L256.60,158.22 L256.60,253.26 L255.98,253.26 L255.36,253.26 L254.75,253.26 L254.13,253.26 L253.51,253.25 L252.90,253.25 L252.28,253.24 L251.66,253.23 L251.05,253.22 L250.43,253.21 L249.81,253.20 L249.20,253.19 L248.58,253.17 L247.96,253.16 L247.35,253.14 L246.73,253.13 L246.11,253.11 L245.50,253.09 L244.88,253.07 L244.26,253.06 L243.65,253.04 L243.03,253.01 L242.41,252.99 L241.80,252.97 L241.18,252.95 L240.56,252.93 L239.95,252.90 L239.33,252.88 L238.71,252.85 L238.10,252.83 L237.48,252.80 L236.86,252.78 L236.25,252.75 L235.63,252.73 L235.01,252.70 L234.40,252.67 L233.78,252.65 L233.16,252.62 L232.55,252.59 L231.93,252.56 L231.31,252.54 L230.70,252.51 L230.08,252.48 L229.46,252.45 L228.85,252.43 L228.23,252.40 L227.61,252.37 L227.00,252.34 L226.38,252.31 L225.76,252.29 L225.15,252.26 L224.53,252.23 L223.91,252.21 L223.30,252.18 L222.68,252.15 L222.06,252.13 L221.45,252.10 L220.83,252.08 L220.21,252.05 L219.60,252.03 L218.98,252.00 L218.36,251.98 L217.75,251.95 L217.13,251.93 L216.51,251.90 L215.90,251.88 L215.28,251.85 L214.66,251.83 L214.05,251.80 L213.43,251.78 L212.81,251.75 L212.20,251.73 L211.58,251.70 L210.96,251.67 L210.35,251.65 L209.73,251.62 L209.11,251.59 L208.50,251.56 L207.88,251.54 L207.26,251.51 L206.65,251.48 L206.03,251.45 L205.41,251.43 L204.80,251.40 L204.18,251.37 L203.56,251.34 L202.95,251.31 L202.33,251.28 L201.71,251.26 L201.10,251.23 L200.48,251.20 L199.86,251.17 L199.25,251.14 L198.63,251.11 L198.01,251.08 L197.40,251.05 L196.78,251.02 L196.16,250.99 L195.55,250.96 L194.93,250.93 L194.31,250.90 L193.70,250.87 L193.08,250.84 L192.46,250.80 L191.85,250.77 L191.23,250.74 L190.61,250.71 L190.00,250.68 L189.38,250.65 L188.76,250.61 L188.15,250.58 L187.53,250.55 L186.91,250.52 L186.30,250.49 L185.68,250.45 L185.06,250.42 L184.45,250.39 L183.83,250.35 L183.21,250.32 L182.60,250.29 L181.98,250.25 L181.36,250.22 L180.75,250.18 L180.13,250.14 L179.51,250.10 L178.90,250.06 L178.28,250.01 L177.66,249.97 L177.05,249.92 L176.43,249.87 L175.81,249.82 L175.20,249.78 L174.58,249.73 L173.96,249.68 L173.35,249.62 L172.73,249.57 L172.11,249.52 L171.50,249.47 L170.88,249.42 L170.26,249.37 L169.65,249.31 L169.03,249.26 L168.41,249.21 L167.80,249.16 L167.18,249.11 L166.56,249.06 L165.95,249.01 L165.33,248.96 L164.71,248.92 L164.10,248.87 L163.48,248.83 L162.86,248.78 L162.25,248.74 L161.63,248.70 L161.01,248.66 L160.40,248.63 L159.78,248.59 L159.16,248.56 L158.55,248.53 L157.93,248.50 L157.31,248.47 L156.70,248.45 L156.08,248.42 L155.46,248.41 L154.85,248.39 L154.23,248.38 L153.61,248.36 L153.00,248.36 L152.38,248.35 L151.76,248.35 L151.15,248.37 L150.53,248.41 L149.91,248.47 L149.30,248.56 L148.68,248.66 L148.06,248.76 L147.45,248.87 L146.83,248.98 L146.21,249.08 L145.60,249.17 L144.98,249.25 L144.36,249.34 L143.75,249.43 L143.13,249.52 L142.51,249.60 L141.90,249.69 L141.28,249.77 L140.66,249.84 L140.05,249.91 L139.43,249.98 L138.81,250.04 L138.20,250.11 L137.58,250.17 L136.96,250.23 L136.35,250.29 L135.73,250.35 L135.11,250.40 L134.50,250.46 L133.88,250.52 L133.26,250.59 L132.65,250.65 L132.03,250.71 L131.42,250.78 L130.80,250.84 L130.18,250.90 L129.57,250.97 L128.95,251.03 L128.33,251.10 L127.72,251.16 L127.10,251.22 L126.48,251.29 L125.87,251.35 L125.25,251.42 L124.63,251.48 L124.02,251.54 L123.40,251.61 L122.78,251.67 L122.17,251.73 L121.55,251.79 L120.93,251.85 L120.32,251.91 L119.70,251.97 L119.08,252.03 L118.47,252.09 L117.85,252.15 L117.23,252.21 L116.62,252.27 L116.00,252.33 L115.38,252.39 L114.77,252.44 L114.15,252.50 L113.53,252.56 L112.92,252.62 L112.30,252.67 L111.68,252.73 L111.07,252.79 L110.45,252.85 L109.83,252.91 L109.22,252.96 L108.60,253.02 L107.98,253.08 L107.37,253.14 L106.75,253.20 L106.13,253.26 L105.52,253.32 L104.90,253.37 L104.28,253.43 L103.67,253.49 L103.05,253.55 L102.43,253.61 L101.82,253.67 L101.20,253.73 L100.58,253.79 L99.97,253.85 L99.35,253.91 L98.73,253.97 L98.12,254.03 L97.50,254.09 L96.88,254.14 L96.27,254.20 L95.65,254.26 L95.03,254.32 L94.42,254.37 L93.80,254.43 L93.18,254.49 L92.57,254.54 L91.95,254.60 L91.33,254.65 L90.72,254.71 L90.10,254.76 L89.48,254.81 L88.87,254.87 L88.25,254.92 L87.63,254.97 L87.02,255.03 L86.40,255.08 L85.78,255.13 L85.17,255.18 L84.55,255.23 L83.93,255.28 L83.32,255.34 L82.70,255.39 L82.08,255.44 L81.47,255.49 L80.85,255.54 L80.23,255.59 L79.62,255.64 L79.00,255.68 L78.38,255.73 L77.77,255.78 L77.15,255.83 L76.53,255.88 L75.92,255.93 L75.30,255.97 L74.68,256.02 L74.07,256.07 L73.45,256.11 L72.83,256.16 L72.22,256.21 L71.60,256.25 Z" fill="rgb(242,108,80)" fill-opacity="0.25" stroke="none"/>
<path d="M71.60,245.89 L72.22,245.89 L72.83,245.90 L73.45,245.91 L74.07,245.91 L74.68,245.92 L75.30,245.93 L75.92,245.94 L76.53,245.95 L77.15,245.96 L77.77,245.98 L78.38,245.99 L79.00,246.00 L79.62,246.01 L80.23,246.03 L80.85,246.04 L81.47,246.06 L82.08,246.07 L82.70,246.09 L83.32,246.11 L83.93,246.12 L84.55,246.14 L85.17,246.16 L85.78,246.18 L86.40,246.20 L87.02,246.22 L87.63,246.23 L88.25,246.25 L88.87,246.27 L89.48,246.29 L90.10,246.31 L90.72,246.33 L91.33,246.35 L91.95,246.38 L92.57,246.40 L93.18,246.43 L93.80,246.45 L94.42,246.48 L95.03,246.51 L95.65,246.54 L96.27,246.57 L96.88,246.60 L97.50,246.63 L98.12,246.66 L98.73,246.70 L99.35,246.73 L99.97,246.77 L100.58,246.80 L101.20,246.84 L101.82,246.88 L102.43,246.91 L103.05,246.95 L103.67,246.99 L104.28,247.03 L104.90,247.07 L105.52,247.11 L106.13,247.15 L106.75,247.19 L107.37,247.23 L107.98,247.27 L108.60,247.31 L109.22,247.35 L109.83,247.40 L110.45,247.45 L111.07,247.51 L111.68,247.57 L112.30,247.64 L112.92,247.71 L113.53,247.77 L114.15,247.84 L114.77,247.90 L115.38,247.97 L116.00,248.03 L116.62,248.08 L117.23,248.14 L117.85,248.18 L118.47,248.22 L119.08,248.26 L119.70,248.28 L120.32,248.29 L120.93,248.30 L121.55,248.30 L122.17,248.30 L122.78,248.30 L123.40,248.29 L124.02,248.29 L124.63,248.29 L125.25,248.28 L125.87,248.28 L126.48,248.27 L127.10,248.27 L127.72,248.26 L128.33,248.26 L128.95,248.25 L129.57,248.24 L130.18,248.24 L130.80,248.23 L131.42,248.23 L132.03,248.22 L132.65,248.21 L133.26,248.21 L133.88,248.20 L134.50,248.20 L135.11,248.19 L135.73,248.19 L136.35,248.18 L136.96,248.18 L137.58,248.18 L138.20,248.18 L138.81,248.18 L139.43,248.18 L140.05,248.18 L140.66,248.18 L141.28,248.18 L141.90,248.18 L142.51,248.18 L143.13,248.19 L143.75,248.19 L144.36,248.19 L144.98,248.20 L145.60,248.20 L146.21,248.20 L146.83,248.21 L147.45,248.21 L148.06,248.21 L148.68,248.22 L149.30,248.22 L149.91,248.22 L150.53,248.22 L151.15,248.23 L151.76,248.23 L152.38,248.22 L153.00,248.22 L153.61,248.21 L154.23,248.20 L154.85,248.19 L155.46,248.17 L156.08,248.16 L156.70,248.14 L157.31,248.11 L157.93,248.09 L158.55,248.06 L159.16,248.03 L159.78,248.00 L160.40,247.97 L161.01,247.94 L161.63,247.90 L162.25,247.87 L162.86,247.83 L163.48,247.79 L164.10,247.75 L164.71,247.71 L165.33,247.66 L165.95,247.62 L166.56,247.58 L167.18,247.53 L167.80,247.49 L168.41,247.44 L169.03,247.40 L169.65,247.35 L170.26,247.31 L170.88,247.26 L171.50,247.21 L172.11,247.15 L172.73,247.09 L173.35,247.03 L173.96,246.96 L174.58,246.89 L175.20,246.82 L175.81,246.74 L176.43,246.66 L177.05,246.58 L177.66,246.50 L178.28,246.41 L178.90,246.32 L179.51,246.22 L180.13,246.13 L180.75,246.03 L181.36,245.93 L181.98,245.83 L182.60,245.72 L183.21,245.61 L183.83,245.50 L184.45,245.39 L185.06,245.28 L185.68,245.17 L186.30,245.05 L186.91,244.93 L187.53,244.82 L188.15,244.70 L188.76,244.58 L189.38,244.45 L190.00,244.33 L190.61,244.21 L191.23,244.08 L191.85,243.96 L192.46,243.83 L193.08,243.71 L193.70,243.58 L194.31,243.46 L194.93,243.33 L195.55,243.20 L196.16,243.07 L196.78,242.94 L197.40,242.80 L198.01,242.67 L198.63,242.53 L199.25,242.38 L199.86,242.24 L200.48,242.09 L201.10,241.94 L201.71,241.79 L202.33,241.64 L202.95,241.48 L203.56,241.32 L204.18,241.16 L204.80,241.00 L205.41,240.83 L206.03,240.66 L206.65,240.50 L207.26,240.32 L207.88,240.15 L208.50,239.98 L209.11,239.80 L209.73,239.62 L210.35,239.44 L210.96,239.26 L211.58,239.07 L212.20,238.89 L212.81,238.70 L213.43,238.51 L214.05,238.32 L214.66,238.13 L215.28,237.93 L215.90,237.73 L216.51,237.54 L217.13,237.34 L217.75,237.14 L218.36,236.94 L218.98,236.73 L219.60,236.53 L220.21,236.32 L220.83,236.12 L221.45,235.91 L222.06,235.70 L222.68,235.49 L223.30,235.28 L223.91,235.06 L224.53,234.85 L225.15,234.63 L225.76,234.41 L226.38,234.19 L227.00,233.96 L227.61,233.72 L228.23,233.48 L228.85,233.23 L229.46,232.98 L230.08,232.72 L230.70,232.46 L231.31,232.20 L231.93,231.93 L232.55,231.66 L233.16,231.39 L233.78,231.12 L234.40,230.85 L235.01,230.57 L235.63,230.30 L236.25,230.02 L236.86,229.75 L237.48,229.47 L238.10,229.19 L238.71,228.91 L239.33,228.63 L239.95,228.35 L240.56,228.06 L241.18,227.77 L241.80,227.48 L242.41,227.19 L243.03,226.89 L243.65,226.59 L244.26,226.28 L244.88,225.98 L245.50,225.67 L246.11,225.35 L246.73,225.03 L247.35,224.71 L247.96,224.38 L248.58,224.05 L249.20,223.71 L249.81,223.38 L250.43,223.04 L251.05,222.69 L251.66,222.34 L252.28,221.99 L252.90,221.62 L253.51,221.20 L254.13,220.76 L254.75,220.31 L255.36,219.85 L255.98,219.37 L256.60,218.89 L256.60,260.41 L255.98,260.42 L255.36,260.42 L254.75,260.42 L254.13,260.41 L253.51,260.40 L252.90,260.37 L252.28,260.33 L251.66,260.29 L251.05,260.24 L250.43,260.19 L249.81,260.14 L249.20,260.07 L248.58,260.01 L247.96,259.94 L247.35,259.87 L246.73,259.79 L246.11,259.71 L245.50,259.63 L244.88,259.54 L244.26,259.45 L243.65,259.36 L243.03,259.26 L242.41,259.16 L241.80,259.06 L241.18,258.96 L240.56,258.85 L239.95,258.74 L239.33,258.64 L238.71,258.53 L238.10,258.41 L237.48,258.30 L236.86,258.19 L236.25,258.07 L235.63,257.95 L235.01,257.84 L234.40,257.72 L233.78,257.60 L233.16,257.49 L232.55,257.37 L231.93,257.25 L231.31,257.13 L230.70,257.02 L230.08,256.90 L229.46,256.79 L228.85,256.67 L228.23,256.56 L227.61,256.45 L227.00,256.34 L226.38,256.23 L225.76,256.13 L225.15,256.02 L224.53,255.92 L223.91,255.81 L223.30,255.70 L222.68,255.58 L222.06,255.46 L221.45,255.34 L220.83,255.21 L220.21,255.08 L219.60,254.95 L218.98,254.82 L218.36,254.69 L217.75,254.56 L217.13,254.42 L216.51,254.29 L215.90,254.16 L215.28,254.03 L214.66,253.90 L214.05,253.77 L213.43,253.65 L212.81,253.53 L212.20,253.41 L211.58,253.30 L210.96,253.19 L210.35,253.09 L209.73,252.99 L209.11,252.89 L208.50,252.81 L207.88,252.72 L207.26,252.64 L206.65,252.57 L206.03,252.49 L205.41,252.41 L204.80,252.34 L204.18,252.27 L203.56,252.20 L202.95,252.12 L202.33,252.06 L201.71,251.99 L201.10,251.92 L200.48,251.85 L199.86,251.79 L199.25,251.73 L198.63,251.66 L198.01,251.60 L197.40,251.54 L196.78,251.48 L196.16,251.42 L195.55,251.36 L194.93,251.31 L194.31,251.25 L193.70,251.20 L193.08,251.14 L192.46,251.09 L191.85,251.03 L191.23,250.98 L190.61,250.93 L190.00,250.88 L189.38,250.82 L188.76,250.77 L188.15,250.72 L187.53,250.67 L186.91,250.62 L186.30,250.58 L185.68,250.53 L185.06,250.48 L184.45,250.43 L183.83,250.38 L183.21,250.34 L182.60,250.29 L181.98,250.24 L181.36,250.19 L180.75,250.14 L180.13,250.09 L179.51,250.04 L178.90,249.99 L178.28,249.94 L177.66,249.89 L177.05,249.84 L176.43,249.78 L175.81,249.73 L175.20,249.68 L174.58,249.63 L173.96,249.57 L173.35,249.52 L172.73,249.47 L172.11,249.42 L171.50,249.37 L170.88,249.32 L170.26,249.26 L169.65,249.22 L169.03,249.17 L168.41,249.12 L167.80,249.07 L167.18,249.02 L166.56,248.98 L165.95,248.93 L165.33,248.89 L164.71,248.85 L164.10,248.80 L163.48,248.76 L162.86,248.73 L162.25,248.69 L161.63,248.65 L161.01,248.62 L160.40,248.59 L159.78,248.56 L159.16,248.53 L158.55,248.50 L157.93,248.48 L157.31,248.45 L156.70,248.43 L156.08,248.41 L155.46,248.40 L154.85,248.38 L154.23,248.37 L153.61,248.36 L153.00,248.36 L152.38,248.35 L151.76,248.35 L151.15,248.37 L150.53,248.41 L149.91,248.47 L149.30,248.56 L148.68,248.66 L148.06,248.76 L147.45,248.87 L146.83,248.98 L146.21,249.08 L145.60,249.17 L144.98,249.25 L144.36,249.34 L143.75,249.43 L143.13,249.52 L142.51,249.60 L141.90,249.69 L141.28,249.77 L140.66,249.84 L140.05,249.91 L139.43,249.98 L138.81,250.04 L138.20,250.11 L137.58,250.17 L136.96,250.23 L136.35,250.29 L135.73,250.35 L135.11,250.40 L134.50,250.46 L133.88,250.52 L133.26,250.59 L132.65,250.65 L132.03,250.71 L131.42,250.78 L130.80,250.84 L130.18,250.90 L129.57,250.97 L128.95,251.03 L128.33,251.10 L127.72,251.16 L127.10,251.22 L126.48,251.29 L125.87,251.35 L125.25,251.42 L124.63,251.48 L124.02,251.54 L123.40,251.61 L122.78,251.67 L122.17,251.73 L121.55,251.79 L120.93,251.85 L120.32,251.91 L119.70,251.97 L119.08,252.03 L118.47,252.09 L117.85,252.15 L117.23,252.21 L116.62,252.27 L116.00,252.33 L115.38,252.39 L114.77,252.44 L114.15,252.50 L113.53,252.56 L112.92,252.62 L112.30,252.67 L111.68,252.73 L111.07,252.79 L110.45,252.85 L109.83,252.91 L109.22,252.96 L108.60,253.02 L107.98,253.08 L107.37,253.14 L106.75,253.20 L106.13,253.26 L105.52,253.32 L104.90,253.37 L104.28,253.43 L103.67,253.49 L103.05,253.55 L102.43,253.61 L101.82,253.67 L101.20,253.73 L100.58,253.79 L99.97,253.85 L99.35,253.91 L98.73,253.97 L98.12,254.03 L97.50,254.09 L96.88,254.14 L96.27,254.20 L95.65,254.26 L95.03,254.32 L94.42,254.37 L93.80,254.43 L93.18,254.49 L92.57,254.54 L91.95,254.60 L91.33,254.65 L90.72,254.71 L90.10,254.76 L89.48,254.81 L88.87,254.87 L88.25,254.92 L87.63,254.97 L87.02,255.03 L86.40,255.08 L85.78,255.13 L85.17,255.18 L84.55,255.23 L83.93,255.28 L83.32,255.34 L82.70,255.39 L82.08,255.44 L81.47,255.49 L80.85,255.54 L80.23,255.59 L79.62,255.64 L79.00,255.68 L78.38,255.73 L77.77,255.78 L77.15,255.83 L76.53,255.88 L75.92,255.93 L75.30,255.97 L74.68,256.02 L74.07,256.07 L73.45,256.11 L72.83,256.16 L72.22,256.21 L71.60,256.25 Z" fill="rgb(192,20,60)" fill-opacity="0.26" stroke="none"/>
<path d="M71.60,245.89 L72.22,245.89 L72.83,245.90 L73.45,245.91 L74.07,245.91 L74.68,245.92 L75.30,245.93 L75.92,245.94 L76.53,245.95 L77.15,245.96 L77.77,245.98 L78.38,245.99 L79.00,246.00 L79.62,246.01 L80.23,246.03 L80.85,246.04 L81.47,246.06 L82.08,246.07 L82.70,246.09 L83.32,246.11 L83.93,246.12 L84.55,246.14 L85.17,246.16 L85.78,246.18 L86.40,246.20 L87.02,246.22 L87.63,246.23 L88.25,246.25 L88.87,246.27 L89.48,246.29 L90.10,246.31 L90.72,246.33 L91.33,246.35 L91.95,246.38 L92.57,246.40 L93.18,246.43 L93.80,246.45 L94.42,246.48 L95.03,246.51 L95.65,246.54 L96.27,246.57 L96.88,246.60 L97.50,246.63 L98.12,246.66 L98.73,246.70 L99.35,246.73 L99.97,246.77 L100.58,246.80 L101.20,246.84 L101.82,246.88 L102.43,246.91 L103.05,246.95 L103.67,246.99 L104.28,247.03 L104.90,247.07 L105.52,247.11 L106.13,247.15 L106.75,247.19 L107.37,247.23 L107.98,247.27 L108.60,247.31 L109.22,247.35 L109.83,247.40 L110.45,247.45 L111.07,247.51 L111.68,247.57 L112.30,247.64 L112.92,247.71 L113.53,247.77 L114.15,247.84 L114.77,247.90 L115.38,247.97 L116.00,248.03 L116.62,248.08 L117.23,248.14 L117.85,248.18 L118.47,248.22 L119.08,248.26 L119.70,248.28 L120.32,248.29 L120.93,248.30 L121.55,248.30 L122.17,248.30 L122.78,248.30 L123.40,248.29 L124.02,248.29 L124.63,248.29 L125.25,248.28 L125.87,248.28 L126.48,248.27 L127.10,248.27 L127.72,248.26 L128.33,248.26 L128.95,248.25 L129.57,248.24 L130.18,248.24 L130.80,248.23 L131.42,248.23 L132.03,248.22 L132.65,248.21 L133.26,248.21 L133.88,248.20 L134.50,248.20 L135.11,248.19 L135.73,248.19 L136.35,248.18 L136.96,248.18 L137.58,248.18 L138.20,248.18 L138.81,248.18 L139.43,248.18 L140.05,248.18 L140.66,248.18 L141.28,248.18 L141.90,248.18 L142.51,248.18 L143.13,248.19 L143.75,248.19 L144.36,248.19 L144.98,248.20 L145.60,248.20 L146.21,248.20 L146.83,248.21 L147.45,248.21 L148.06,248.21 L148.68,248.22 L149.30,248.22 L149.91,248.22 L150.53,248.22 L151.15,248.23 L151.76,248.23 L152.38,248.22 L153.00,248.19 L153.61,248.16 L154.23,248.11 L154.85,248.05 L155.46,247.97 L156.08,247.89 L156.70,247.80 L157.31,247.70 L157.93,247.60 L158.55,247.49 L159.16,247.37 L159.78,247.26 L160.40,247.14 L161.01,247.02 L161.63,246.90 L162.25,246.78 L162.86,246.67 L163.48,246.56 L164.10,246.45 L164.71,246.35 L165.33,246.26 L165.95,246.16 L166.56,246.07 L167.18,245.98 L167.80,245.89 L168.41,245.80 L169.03,245.71 L169.65,245.61 L170.26,245.52 L170.88,245.43 L171.50,245.33 L172.11,245.23 L172.73,245.13 L173.35,245.03 L173.96,244.92 L174.58,244.81 L175.20,244.69 L175.81,244.57 L176.43,244.45 L177.05,244.32 L177.66,244.19 L178.28,244.05 L178.90,243.91 L179.51,243.76 L180.13,243.61 L180.75,243.46 L181.36,243.30 L181.98,243.13 L182.60,242.97 L183.21,242.80 L183.83,242.63 L184.45,242.45 L185.06,242.28 L185.68,242.10 L186.30,241.91 L186.91,241.73 L187.53,241.54 L188.15,241.34 L188.76,241.14 L189.38,240.94 L190.00,240.73 L190.61,240.52 L191.23,240.31 L191.85,240.08 L192.46,239.86 L193.08,239.63 L193.70,239.39 L194.31,239.15 L194.93,238.90 L195.55,238.65 L196.16,238.39 L196.78,238.13 L197.40,237.86 L198.01,237.59 L198.63,237.30 L199.25,237.01 L199.86,236.70 L200.48,236.39 L201.10,236.07 L201.71,235.74 L202.33,235.41 L202.95,235.07 L203.56,234.72 L204.18,234.37 L204.80,234.00 L205.41,233.64 L206.03,233.27 L206.65,232.89 L207.26,232.51 L207.88,232.13 L208.50,231.74 L209.11,231.35 L209.73,230.94 L210.35,230.53 L210.96,230.10 L211.58,229.67 L212.20,229.23 L212.81,228.79 L213.43,228.33 L214.05,227.87 L214.66,227.41 L215.28,226.94 L215.90,226.47 L216.51,225.99 L217.13,225.51 L217.75,225.02 L218.36,224.53 L218.98,224.05 L219.60,223.56 L220.21,223.07 L220.83,222.58 L221.45,222.10 L222.06,221.61 L222.68,221.11 L223.30,220.60 L223.91,220.08 L224.53,219.55 L225.15,219.01 L225.76,218.44 L226.38,217.86 L227.00,217.25 L227.61,216.62 L228.23,215.95 L228.85,215.23 L229.46,214.45 L230.08,213.64 L230.70,212.80 L231.31,211.95 L231.93,211.08 L232.55,210.22 L233.16,209.36 L233.78,208.53 L234.40,207.73 L235.01,206.95 L235.63,206.19 L236.25,205.45 L236.86,204.70 L237.48,203.96 L238.10,203.19 L238.71,202.41 L239.33,201.60 L239.95,200.74 L240.56,199.84 L241.18,198.88 L241.80,197.85 L242.41,196.77 L243.03,195.65 L243.65,194.49 L244.26,193.32 L244.88,192.13 L245.50,190.95 L246.11,189.78 L246.73,188.64 L247.35,187.53 L247.96,186.44 L248.58,185.38 L249.20,184.33 L249.81,183.27 L250.43,182.20 L251.05,181.10 L251.66,179.96 L252.28,178.77 L252.90,177.52 L253.51,176.09 L254.13,174.53 L254.75,172.90 L255.36,171.29 L255.98,169.76 L256.60,168.34 L256.60,253.36 L255.98,253.34 L255.36,253.32 L254.75,253.30 L254.13,253.28 L253.51,253.26 L252.90,253.23 L252.28,253.22 L251.66,253.20 L251.05,253.18 L250.43,253.16 L249.81,253.14 L249.20,253.12 L248.58,253.09 L247.96,253.07 L247.35,253.04 L246.73,253.01 L246.11,252.98 L245.50,252.95 L244.88,252.91 L244.26,252.88 L243.65,252.85 L243.03,252.81 L242.41,252.77 L241.80,252.73 L241.18,252.69 L240.56,252.65 L239.95,252.61 L239.33,252.57 L238.71,252.53 L238.10,252.49 L237.48,252.45 L236.86,252.40 L236.25,252.36 L235.63,252.32 L235.01,252.27 L234.40,252.23 L233.78,252.18 L233.16,252.14 L232.55,252.09 L231.93,252.05 L231.31,252.01 L230.70,251.96 L230.08,251.92 L229.46,251.88 L228.85,251.83 L228.23,251.79 L227.61,251.75 L227.00,251.71 L226.38,251.67 L225.76,251.63 L225.15,251.59 L224.53,251.55 L223.91,251.51 L223.30,251.48 L222.68,251.44 L222.06,251.41 L221.45,251.37 L220.83,251.34 L220.21,251.31 L219.60,251.28 L218.98,251.25 L218.36,251.23 L217.75,251.20 L217.13,251.17 L216.51,251.14 L215.90,251.12 L215.28,251.09 L214.66,251.06 L214.05,251.04 L213.43,251.01 L212.81,250.99 L212.20,250.96 L211.58,250.93 L210.96,250.91 L210.35,250.88 L209.73,250.86 L209.11,250.84 L208.50,250.81 L207.88,250.79 L207.26,250.76 L206.65,250.74 L206.03,250.71 L205.41,250.69 L204.80,250.67 L204.18,250.64 L203.56,250.62 L202.95,250.59 L202.33,250.57 L201.71,250.55 L201.10,250.52 L200.48,250.50 L199.86,250.48 L199.25,250.45 L198.63,250.43 L198.01,250.41 L197.40,250.38 L196.78,250.36 L196.16,250.34 L195.55,250.31 L194.93,250.29 L194.31,250.27 L193.70,250.24 L193.08,250.22 L192.46,250.19 L191.85,250.17 L191.23,250.15 L190.61,250.12 L190.00,250.10 L189.38,250.07 L188.76,250.05 L188.15,250.02 L187.53,250.00 L186.91,249.97 L186.30,249.95 L185.68,249.92 L185.06,249.90 L184.45,249.87 L183.83,249.84 L183.21,249.82 L182.60,249.79 L181.98,249.76 L181.36,249.73 L180.75,249.71 L180.13,249.67 L179.51,249.64 L178.90,249.61 L178.28,249.58 L177.66,249.54 L177.05,249.51 L176.43,249.47 L175.81,249.43 L175.20,249.40 L174.58,249.36 L173.96,249.32 L173.35,249.28 L172.73,249.24 L172.11,249.21 L171.50,249.17 L170.88,249.13 L170.26,249.09 L169.65,249.05 L169.03,249.01 L168.41,248.98 L167.80,248.94 L167.18,248.90 L166.56,248.87 L165.95,248.83 L165.33,248.80 L164.71,248.76 L164.10,248.73 L163.48,248.70 L162.86,248.66 L162.25,248.63 L161.63,248.60 L161.01,248.58 L160.40,248.55 L159.78,248.52 L159.16,248.50 L158.55,248.48 L157.93,248.46 L157.31,248.44 L156.70,248.42 L156.08,248.40 L155.46,248.39 L154.85,248.38 L154.23,248.37 L153.61,248.36 L153.00,248.35 L152.38,248.35 L151.76,248.35 L151.15,248.37 L150.53,248.41 L149.91,248.47 L149.30,248.56 L148.68,248.66 L148.06,248.76 L147.45,248.87 L146.83,248.98 L146.21,249.08 L145.60,249.17 L144.98,249.25 L144.36,249.34 L143.75,249.43 L143.13,249.52 L142.51,249.60 L141.90,249.69 L141.28,249.77 L140.66,249.84 L140.05,249.91 L139.43,249.98 L138.81,250.04 L138.20,250.11 L137.58,250.17 L136.96,250.23 L136.35,250.29 L135.73,250.35 L135.11,250.40 L134.50,250.46 L133.88,250.52 L133.26,250.59 L132.65,250.65 L132.03,250.71 L131.42,250.78 L130.80,250.84 L130.18,250.90 L129.57,250.97 L128.95,251.03 L128.33,251.10 L127.72,251.16 L127.10,251.22 L126.48,251.29 L125.87,251.35 L125.25,251.42 L124.63,251.48 L124.02,251.54 L123.40,251.61 L122.78,251.67 L122.17,251.73 L121.55,251.79 L120.93,251.85 L120.32,251.91 L119.70,251.97 L119.08,252.03 L118.47,252.09 L117.85,252.15 L117.23,252.21 L116.62,252.27 L116.00,252.33 L115.38,252.39 L114.77,252.44 L114.15,252.50 L113.53,252.56 L112.92,252.62 L112.30,252.67 L111.68,252.73 L111.07,252.79 L110.45,252.85 L109.83,252.91 L109.22,252.96 L108.60,253.02 L107.98,253.08 L107.37,253.14 L106.75,253.20 L106.13,253.26 L105.52,253.32 L104.90,253.37 L104.28,253.43 L103.67,253.49 L103.05,253.55 L102.43,253.61 L101.82,253.67 L101.20,253.73 L100.58,253.79 L99.97,253.85 L99.35,253.91 L98.73,253.97 L98.12,254.03 L97.50,254.09 L96.88,254.14 L96.27,254.20 L95.65,254.26 L95.03,254.32 L94.42,254.37 L93.80,254.43 L93.18,254.49 L92.57,254.54 L91.95,254.60 L91.33,254.65 L90.72,254.71 L90.10,254.76 L89.48,254.81 L88.87,254.87 L88.25,254.92 L87.63,254.97 L87.02,255.03 L86.40,255.08 L85.78,255.13 L85.17,255.18 L84.55,255.23 L83.93,255.28 L83.32,255.34 L82.70,255.39 L82.08,255.44 L81.47,255.49 L80.85,255.54 L80.23,255.59 L79.62,255.64 L79.00,255.68 L78.38,255.73 L77.77,255.78 L77.15,255.83 L76.53,255.88 L75.92,255.93 L75.30,255.97 L74.68,256.02 L74.07,256.07 L73.45,256.11 L72.83,256.16 L72.22,256.21 L71.60,256.25 Z" fill="rgb(86,165,230)" fill-opacity="0.25" stroke="none"/>
<path d="M71.60,245.89 L72.22,245.89 L72.83,245.90 L73.45,245.91 L74.07,245.91 L74.68,245.92 L75.30,245.93 L75.92,245.94 L76.53,245.95 L77.15,245.96 L77.77,245.98 L78.38,245.99 L79.00,246.00 L79.62,246.01 L80.23,246.03 L80.85,246.04 L81.47,246.06 L82.08,246.07 L82.70,246.09 L83.32,246.11 L83.93,246.12 L84.55,246.14 L85.17,246.16 L85.78,246.18 L86.40,246.20 L87.02,246.22 L87.63,246.23 L88.25,246.25 L88.87,246.27 L89.48,246.29 L90.10,246.31 L90.72,246.33 L91.33,246.35 L91.95,246.38 L92.57,246.40 L93.18,246.43 L93.80,246.45 L94.42,246.48 L95.03,246.51 L95.65,246.54 L96.27,246.57 L96.88,246.60 L97.50,246.63 L98.12,246.66 L98.73,246.70 L99.35,246.73 L99.97,246.77 L100.58,246.80 L101.20,246.84 L101.82,246.88 L102.43,246.91 L103.05,246.95 L103.67,246.99 L104.28,247.03 L104.90,247.07 L105.52,247.11 L106.13,247.15 L106.75,247.19 L107.37,247.23 L107.98,247.27 L108.60,247.31 L109.22,247.35 L109.83,247.40 L110.45,247.45 L111.07,247.51 L111.68,247.57 L112.30,247.64 L112.92,247.71 L113.53,247.77 L114.15,247.84 L114.77,247.90 L115.38,247.97 L116.00,248.03 L116.62,248.08 L117.23,248.14 L117.85,248.18 L118.47,248.22 L119.08,248.26 L119.70,248.28 L120.32,248.29 L120.93,248.30 L121.55,248.30 L122.17,248.30 L122.78,248.30 L123.40,248.29 L124.02,248.29 L124.63,248.29 L125.25,248.28 L125.87,248.28 L126.48,248.27 L127.10,248.27 L127.72,248.26 L128.33,248.26 L128.95,248.25 L129.57,248.24 L130.18,248.24 L130.80,248.23 L131.42,248.23 L132.03,248.22 L132.65,248.21 L133.26,248.21 L133.88,248.20 L134.50,248.20 L135.11,248.19 L135.73,248.19 L136.35,248.18 L136.96,248.18 L137.58,248.18 L138.20,248.18 L138.81,248.18 L139.43,248.18 L140.05,248.18 L140.66,248.18 L141.28,248.18 L141.90,248.18 L142.51,248.18 L143.13,248.19 L143.75,248.19 L144.36,248.19 L144.98,248.20 L145.60,248.20 L146.21,248.20 L146.83,248.21 L147.45,248.21 L148.06,248.21 L148.68,248.22 L149.30,248.22 L149.91,248.22 L150.53,248.22 L151.15,248.23 L151.76,248.23 L152.38,248.22 L153.00,248.22 L153.61,248.21 L154.23,248.21 L154.85,248.19 L155.46,248.18 L156.08,248.17 L156.70,248.15 L157.31,248.13 L157.93,248.11 L158.55,248.09 L159.16,248.07 L159.78,248.04 L160.40,248.02 L161.01,247.99 L161.63,247.96 L162.25,247.94 L162.86,247.91 L163.48,247.88 L164.10,247.85 L164.71,247.82 L165.33,247.79 L165.95,247.76 L166.56,247.73 L167.18,247.70 L167.80,247.67 L168.41,247.64 L169.03,247.61 L169.65,247.58 L170.26,247.55 L170.88,247.53 L171.50,247.50 L172.11,247.47 L172.73,247.44 L173.35,247.42 L173.96,247.39 L174.58,247.36 L175.20,247.33 L175.81,247.30 L176.43,247.27 L177.05,247.25 L177.66,247.22 L178.28,247.19 L178.90,247.16 L179.51,247.13 L180.13,247.09 L180.75,247.06 L181.36,247.03 L181.98,247.00 L182.60,246.97 L183.21,246.93 L183.83,246.90 L184.45,246.87 L185.06,246.83 L185.68,246.80 L186.30,246.76 L186.91,246.73 L187.53,246.69 L188.15,246.65 L188.76,246.62 L189.38,246.58 L190.00,246.54 L190.61,246.50 L191.23,246.46 L191.85,246.42 L192.46,246.38 L193.08,246.33 L193.70,246.29 L194.31,246.25 L194.93,246.20 L195.55,246.16 L196.16,246.11 L196.78,246.06 L197.40,246.02 L198.01,245.97 L198.63,245.92 L199.25,245.87 L199.86,245.81 L200.48,245.76 L201.10,245.70 L201.71,245.64 L202.33,245.58 L202.95,245.51 L203.56,245.44 L204.18,245.37 L204.80,245.29 L205.41,245.22 L206.03,245.13 L206.65,245.05 L207.26,244.97 L207.88,244.88 L208.50,244.79 L209.11,244.70 L209.73,244.60 L210.35,244.51 L210.96,244.41 L211.58,244.31 L212.20,244.21 L212.81,244.11 L213.43,244.01 L214.05,243.91 L214.66,243.80 L215.28,243.70 L215.90,243.60 L216.51,243.49 L217.13,243.39 L217.75,243.28 L218.36,243.18 L218.98,243.07 L219.60,242.96 L220.21,242.86 L220.83,242.75 L221.45,242.65 L222.06,242.55 L222.68,242.45 L223.30,242.34 L223.91,242.24 L224.53,242.14 L225.15,242.05 L225.76,241.95 L226.38,241.86 L227.00,241.76 L227.61,241.67 L228.23,241.58 L228.85,241.49 L229.46,241.41 L230.08,241.33 L230.70,241.24 L231.31,241.16 L231.93,241.09 L232.55,241.01 L233.16,240.93 L233.78,240.85 L234.40,240.78 L235.01,240.71 L235.63,240.63 L236.25,240.56 L236.86,240.49 L237.48,240.42 L238.10,240.35 L238.71,240.27 L239.33,240.20 L239.95,240.13 L240.56,240.07 L241.18,240.00 L241.80,239.93 L242.41,239.86 L243.03,239.79 L243.65,239.72 L244.26,239.65 L244.88,239.58 L245.50,239.51 L246.11,239.44 L246.73,239.37 L247.35,239.29 L247.96,239.22 L248.58,239.15 L249.20,239.08 L249.81,239.00 L250.43,238.93 L251.05,238.85 L251.66,238.77 L252.28,238.69 L252.90,238.61 L253.51,238.44 L254.13,238.28 L254.75,238.13 L255.36,237.99 L255.98,237.86 L256.60,237.73 L256.60,255.86 L255.98,255.80 L255.36,255.74 L254.75,255.67 L254.13,255.59 L253.51,255.51 L252.90,255.42 L252.28,255.36 L251.66,255.30 L251.05,255.25 L250.43,255.19 L249.81,255.13 L249.20,255.07 L248.58,255.01 L247.96,254.96 L247.35,254.90 L246.73,254.84 L246.11,254.79 L245.50,254.73 L244.88,254.67 L244.26,254.62 L243.65,254.56 L243.03,254.50 L242.41,254.45 L241.80,254.39 L241.18,254.34 L240.56,254.29 L239.95,254.24 L239.33,254.18 L238.71,254.13 L238.10,254.08 L237.48,254.03 L236.86,253.98 L236.25,253.94 L235.63,253.89 L235.01,253.85 L234.40,253.80 L233.78,253.76 L233.16,253.72 L232.55,253.68 L231.93,253.64 L231.31,253.60 L230.70,253.56 L230.08,253.53 L229.46,253.49 L228.85,253.46 L228.23,253.43 L227.61,253.40 L227.00,253.37 L226.38,253.34 L225.76,253.31 L225.15,253.28 L224.53,253.25 L223.91,253.23 L223.30,253.20 L222.68,253.18 L222.06,253.15 L221.45,253.13 L220.83,253.11 L220.21,253.08 L219.60,253.06 L218.98,253.04 L218.36,253.02 L217.75,253.00 L217.13,252.98 L216.51,252.95 L215.90,252.93 L215.28,252.91 L214.66,252.89 L214.05,252.87 L213.43,252.85 L212.81,252.83 L212.20,252.81 L211.58,252.79 L210.96,252.76 L210.35,252.74 L209.73,252.72 L209.11,252.70 L208.50,252.67 L207.88,252.65 L207.26,252.63 L206.65,252.60 L206.03,252.57 L205.41,252.55 L204.80,252.52 L204.18,252.49 L203.56,252.47 L202.95,252.44 L202.33,252.41 L201.71,252.38 L201.10,252.34 L200.48,252.31 L199.86,252.28 L199.25,252.24 L198.63,252.20 L198.01,252.16 L197.40,252.12 L196.78,252.08 L196.16,252.04 L195.55,251.99 L194.93,251.94 L194.31,251.89 L193.70,251.84 L193.08,251.79 L192.46,251.74 L191.85,251.69 L191.23,251.64 L190.61,251.58 L190.00,251.53 L189.38,251.47 L188.76,251.41 L188.15,251.36 L187.53,251.30 L186.91,251.24 L186.30,251.18 L185.68,251.12 L185.06,251.07 L184.45,251.01 L183.83,250.95 L183.21,250.89 L182.60,250.83 L181.98,250.78 L181.36,250.72 L180.75,250.66 L180.13,250.61 L179.51,250.55 L178.90,250.50 L178.28,250.44 L177.66,250.39 L177.05,250.34 L176.43,250.29 L175.81,250.24 L175.20,250.18 L174.58,250.13 L173.96,250.07 L173.35,250.01 L172.73,249.95 L172.11,249.89 L171.50,249.83 L170.88,249.77 L170.26,249.70 L169.65,249.64 L169.03,249.57 L168.41,249.51 L167.80,249.44 L167.18,249.38 L166.56,249.32 L165.95,249.25 L165.33,249.19 L164.71,249.13 L164.10,249.07 L163.48,249.01 L162.86,248.95 L162.25,248.89 L161.63,248.84 L161.01,248.79 L160.40,248.74 L159.78,248.69 L159.16,248.64 L158.55,248.60 L157.93,248.56 L157.31,248.52 L156.70,248.49 L156.08,248.46 L155.46,248.43 L154.85,248.41 L154.23,248.39 L153.61,248.37 L153.00,248.36 L152.38,248.35 L151.76,248.35 L151.15,248.37 L150.53,248.41 L149.91,248.47 L149.30,248.56 L148.68,248.66 L148.06,248.76 L147.45,248.87 L146.83,248.98 L146.21,249.08 L145.60,249.17 L144.98,249.25 L144.36,249.34 L143.75,249.43 L143.13,249.52 L142.51,249.60 L141.90,249.69 L141.28,249.77 L140.66,249.84 L140.05,249.91 L139.43,249.98 L138.81,250.04 L138.20,250.11 L137.58,250.17 L136.96,250.23 L136.35,250.29 L135.73,250.35 L135.11,250.40 L134.50,250.46 L133.88,250.52 L133.26,250.59 L132.65,250.65 L132.03,250.71 L131.42,250.78 L130.80,250.84 L130.18,250.90 L129.57,250.97 L128.95,251.03 L128.33,251.10 L127.72,251.16 L127.10,251.22 L126.48,251.29 L125.87,251.35 L125.25,251.42 L124.63,251.48 L124.02,251.54 L123.40,251.61 L122.78,251.67 L122.17,251.73 L121.55,251.79 L120.93,251.85 L120.32,251.91 L119.70,251.97 L119.08,252.03 L118.47,252.09 L117.85,252.15 L117.23,252.21 L116.62,252.27 L116.00,252.33 L115.38,252.39 L114.77,252.44 L114.15,252.50 L113.53,252.56 L112.92,252.62 L112.30,252.67 L111.68,252.73 L111.07,252.79 L110.45,252.85 L109.83,252.91 L109.22,252.96 L108.60,253.02 L107.98,253.08 L107.37,253.14 L106.75,253.20 L106.13,253.26 L105.52,253.32 L104.90,253.37 L104.28,253.43 L103.67,253.49 L103.05,253.55 L102.43,253.61 L101.82,253.67 L101.20,253.73 L100.58,253.79 L99.97,253.85 L99.35,253.91 L98.73,253.97 L98.12,254.03 L97.50,254.09 L96.88,254.14 L96.27,254.20 L95.65,254.26 L95.03,254.32 L94.42,254.37 L93.80,254.43 L93.18,254.49 L92.57,254.54 L91.95,254.60 L91.33,254.65 L90.72,254.71 L90.10,254.76 L89.48,254.81 L88.87,254.87 L88.25,254.92 L87.63,254.97 L87.02,255.03 L86.40,255.08 L85.78,255.13 L85.17,255.18 L84.55,255.23 L83.93,255.28 L83.32,255.34 L82.70,255.39 L82.08,255.44 L81.47,255.49 L80.85,255.54 L80.23,255.59 L79.62,255.64 L79.00,255.68 L78.38,255.73 L77.77,255.78 L77.15,255.83 L76.53,255.88 L75.92,255.93 L75.30,255.97 L74.68,256.02 L74.07,256.07 L73.45,256.11 L72.83,256.16 L72.22,256.21 L71.60,256.25 Z" fill="rgb(31,85,200)" fill-opacity="0.25" stroke="none"/>
<path d="M71.60,245.89 L72.22,245.89 L72.83,245.90 L73.45,245.91 L74.07,245.91 L74.68,245.92 L75.30,245.93 L75.92,245.94 L76.53,245.95 L77.15,245.96 L77.77,245.98 L78.38,245.99 L79.00,246.00 L79.62,246.01 L80.23,246.03 L80.85,246.04 L81.47,246.06 L82.08,246.07 L82.70,246.09 L83.32,246.11 L83.93,246.12 L84.55,246.14 L85.17,246.16 L85.78,246.18 L86.40,246.20 L87.02,246.22 L87.63,246.23 L88.25,246.25 L88.87,246.27 L89.48,246.29 L90.10,246.31 L90.72,246.33 L91.33,246.35 L91.95,246.38 L92.57,246.40 L93.18,246.43 L93.80,246.45 L94.42,246.48 L95.03,246.51 L95.65,246.54 L96.27,246.57 L96.88,246.60 L97.50,246.63 L98.12,246.66 L98.73,246.70 L99.35,246.73 L99.97,246.77 L100.58,246.80 L101.20,246.84 L101.82,246.88 L102.43,246.91 L103.05,246.95 L103.67,246.99 L104.28,247.03 L104.90,247.07 L105.52,247.11 L106.13,247.15 L106.75,247.19 L107.37,247.23 L107.98,247.27 L108.60,247.31 L109.22,247.35 L109.83,247.40 L110.45,247.45 L111.07,247.51 L111.68,247.57 L112.30,247.64 L112.92,247.71 L113.53,247.77 L114.15,247.84 L114.77,247.90 L115.38,247.97 L116.00,248.03 L116.62,248.08 L117.23,248.14 L117.85,248.18 L118.47,248.22 L119.08,248.26 L119.70,248.28 L120.32,248.29 L120.93,248.30 L121.55,248.30 L122.17,248.30 L122.78,248.30 L123.40,248.29 L124.02,248.29 L124.63,248.29 L125.25,248.28 L125.87,248.28 L126.48,248.27 L127.10,248.27 L127.72,248.26 L128.33,248.26 L128.95,248.25 L129.57,248.24 L130.18,248.24 L130.80,248.23 L131.42,248.23 L132.03,248.22 L132.65,248.21 L133.26,248.21 L133.88,248.20 L134.50,248.20 L135.11,248.19 L135.73,248.19 L136.35,248.18 L136.96,248.18 L137.58,248.18 L138.20,248.18 L138.81,248.18 L139.43,248.18 L140.05,248.18 L140.66,248.18 L141.28,248.18 L141.90,248.18 L142.51,248.18 L143.13,248.19 L143.75,248.19 L144.36,248.19 L144.98,248.20 L145.60,248.20 L146.21,248.20 L146.83,248.21 L147.45,248.21 L148.06,248.21 L148.68,248.22 L149.30,248.22 L149.91,248.22 L150.53,248.22 L151.15,248.23 L151.76,248.23 L152.38,248.22 L153.00,248.19 L153.61,248.16 L154.23,248.10 L154.85,248.04 L155.46,247.96 L156.08,247.88 L156.70,247.78 L157.31,247.68 L157.93,247.57 L158.55,247.46 L159.16,247.34 L159.78,247.21 L160.40,247.09 L161.01,246.96 L161.63,246.83 L162.25,246.71 L162.86,246.58 L163.48,246.46 L164.10,246.34 L164.71,246.23 L165.33,246.12 L165.95,246.02 L166.56,245.91 L167.18,245.80 L167.80,245.68 L168.41,245.57 L169.03,245.46 L169.65,245.34 L170.26,245.22 L170.88,245.10 L171.50,244.98 L172.11,244.86 L172.73,244.73 L173.35,244.60 L173.96,244.47 L174.58,244.34 L175.20,244.21 L175.81,244.08 L176.43,243.94 L177.05,243.80 L177.66,243.66 L178.28,243.52 L178.90,243.38 L179.51,243.23 L180.13,243.08 L180.75,242.93 L181.36,242.78 L181.98,242.62 L182.60,242.46 L183.21,242.30 L183.83,242.13 L184.45,241.96 L185.06,241.78 L185.68,241.60 L186.30,241.42 L186.91,241.23 L187.53,241.03 L188.15,240.83 L188.76,240.62 L189.38,240.41 L190.00,240.19 L190.61,239.97 L191.23,239.74 L191.85,239.51 L192.46,239.27 L193.08,239.02 L193.70,238.77 L194.31,238.51 L194.93,238.24 L195.55,237.97 L196.16,237.69 L196.78,237.41 L197.40,237.12 L198.01,236.82 L198.63,236.50 L199.25,236.17 L199.86,235.83 L200.48,235.48 L201.10,235.11 L201.71,234.74 L202.33,234.36 L202.95,233.97 L203.56,233.57 L204.18,233.17 L204.80,232.76 L205.41,232.35 L206.03,231.93 L206.65,231.51 L207.26,231.09 L207.88,230.66 L208.50,230.24 L209.11,229.81 L209.73,229.37 L210.35,228.92 L210.96,228.47 L211.58,228.01 L212.20,227.55 L212.81,227.08 L213.43,226.60 L214.05,226.12 L214.66,225.63 L215.28,225.14 L215.90,224.64 L216.51,224.13 L217.13,223.62 L217.75,223.11 L218.36,222.59 L218.98,222.06 L219.60,221.54 L220.21,221.01 L220.83,220.47 L221.45,219.93 L222.06,219.38 L222.68,218.82 L223.30,218.25 L223.91,217.66 L224.53,217.06 L225.15,216.44 L225.76,215.80 L226.38,215.14 L227.00,214.45 L227.61,213.74 L228.23,213.00 L228.85,212.24 L229.46,211.45 L230.08,210.65 L230.70,209.82 L231.31,208.97 L231.93,208.10 L232.55,207.21 L233.16,206.30 L233.78,205.38 L234.40,204.43 L235.01,203.46 L235.63,202.44 L236.25,201.40 L236.86,200.33 L237.48,199.23 L238.10,198.10 L238.71,196.95 L239.33,195.78 L239.95,194.59 L240.56,193.38 L241.18,192.13 L241.80,190.82 L242.41,189.47 L243.03,188.08 L243.65,186.67 L244.26,185.25 L244.88,183.84 L245.50,182.44 L246.11,181.06 L246.73,179.73 L247.35,178.44 L247.96,177.21 L248.58,176.01 L249.20,174.83 L249.81,173.66 L250.43,172.48 L251.05,171.28 L251.66,170.04 L252.28,168.75 L252.90,167.39 L253.51,165.91 L254.13,164.31 L254.75,162.68 L255.36,161.08 L255.98,159.58 L256.60,158.22" fill="none" stroke="rgb(242,108,80)" stroke-opacity="0.75" stroke-width="0.7"/>
<path d="M71.60,256.25 L72.22,256.21 L72.83,256.16 L73.45,256.11 L74.07,256.07 L74.68,256.02 L75.30,255.97 L75.92,255.93 L76.53,255.88 L77.15,255.83 L77.77,255.78 L78.38,255.73 L79.00,255.68 L79.62,255.64 L80.23,255.59 L80.85,255.54 L81.47,255.49 L82.08,255.44 L82.70,255.39 L83.32,255.34 L83.93,255.28 L84.55,255.23 L85.17,255.18 L85.78,255.13 L86.40,255.08 L87.02,255.03 L87.63,254.97 L88.25,254.92 L88.87,254.87 L89.48,254.81 L90.10,254.76 L90.72,254.71 L91.33,254.65 L91.95,254.60 L92.57,254.54 L93.18,254.49 L93.80,254.43 L94.42,254.37 L95.03,254.32 L95.65,254.26 L96.27,254.20 L96.88,254.14 L97.50,254.09 L98.12,254.03 L98.73,253.97 L99.35,253.91 L99.97,253.85 L100.58,253.79 L101.20,253.73 L101.82,253.67 L102.43,253.61 L103.05,253.55 L103.67,253.49 L104.28,253.43 L104.90,253.37 L105.52,253.32 L106.13,253.26 L106.75,253.20 L107.37,253.14 L107.98,253.08 L108.60,253.02 L109.22,252.96 L109.83,252.91 L110.45,252.85 L111.07,252.79 L111.68,252.73 L112.30,252.67 L112.92,252.62 L113.53,252.56 L114.15,252.50 L114.77,252.44 L115.38,252.39 L116.00,252.33 L116.62,252.27 L117.23,252.21 L117.85,252.15 L118.47,252.09 L119.08,252.03 L119.70,251.97 L120.32,251.91 L120.93,251.85 L121.55,251.79 L122.17,251.73 L122.78,251.67 L123.40,251.61 L124.02,251.54 L124.63,251.48 L125.25,251.42 L125.87,251.35 L126.48,251.29 L127.10,251.22 L127.72,251.16 L128.33,251.10 L128.95,251.03 L129.57,250.97 L130.18,250.90 L130.80,250.84 L131.42,250.78 L132.03,250.71 L132.65,250.65 L133.26,250.59 L133.88,250.52 L134.50,250.46 L135.11,250.40 L135.73,250.35 L136.35,250.29 L136.96,250.23 L137.58,250.17 L138.20,250.11 L138.81,250.04 L139.43,249.98 L140.05,249.91 L140.66,249.84 L141.28,249.77 L141.90,249.69 L142.51,249.60 L143.13,249.52 L143.75,249.43 L144.36,249.34 L144.98,249.25 L145.60,249.17 L146.21,249.08 L146.83,248.98 L147.45,248.87 L148.06,248.76 L148.68,248.66 L149.30,248.56 L149.91,248.47 L150.53,248.41 L151.15,248.37 L151.76,248.35 L152.38,248.35 L153.00,248.36 L153.61,248.36 L154.23,248.38 L154.85,248.39 L155.46,248.41 L156.08,248.42 L156.70,248.45 L157.31,248.47 L157.93,248.50 L158.55,248.53 L159.16,248.56 L159.78,248.59 L160.40,248.63 L161.01,248.66 L161.63,248.70 L162.25,248.74 L162.86,248.78 L163.48,248.83 L164.10,248.87 L164.71,248.92 L165.33,248.96 L165.95,249.01 L166.56,249.06 L167.18,249.11 L167.80,249.16 L168.41,249.21 L169.03,249.26 L169.65,249.31 L170.26,249.37 L170.88,249.42 L171.50,249.47 L172.11,249.52 L172.73,249.57 L173.35,249.62 L173.96,249.68 L174.58,249.73 L175.20,249.78 L175.81,249.82 L176.43,249.87 L177.05,249.92 L177.66,249.97 L178.28,250.01 L178.90,250.06 L179.51,250.10 L180.13,250.14 L180.75,250.18 L181.36,250.22 L181.98,250.25 L182.60,250.29 L183.21,250.32 L183.83,250.35 L184.45,250.39 L185.06,250.42 L185.68,250.45 L186.30,250.49 L186.91,250.52 L187.53,250.55 L188.15,250.58 L188.76,250.61 L189.38,250.65 L190.00,250.68 L190.61,250.71 L191.23,250.74 L191.85,250.77 L192.46,250.80 L193.08,250.84 L193.70,250.87 L194.31,250.90 L194.93,250.93 L195.55,250.96 L196.16,250.99 L196.78,251.02 L197.40,251.05 L198.01,251.08 L198.63,251.11 L199.25,251.14 L199.86,251.17 L200.48,251.20 L201.10,251.23 L201.71,251.26 L202.33,251.28 L202.95,251.31 L203.56,251.34 L204.18,251.37 L204.80,251.40 L205.41,251.43 L206.03,251.45 L206.65,251.48 L207.26,251.51 L207.88,251.54 L208.50,251.56 L209.11,251.59 L209.73,251.62 L210.35,251.65 L210.96,251.67 L211.58,251.70 L212.20,251.73 L212.81,251.75 L213.43,251.78 L214.05,251.80 L214.66,251.83 L215.28,251.85 L215.90,251.88 L216.51,251.90 L217.13,251.93 L217.75,251.95 L218.36,251.98 L218.98,252.00 L219.60,252.03 L220.21,252.05 L220.83,252.08 L221.45,252.10 L222.06,252.13 L222.68,252.15 L223.30,252.18 L223.91,252.21 L224.53,252.23 L225.15,252.26 L225.76,252.29 L226.38,252.31 L227.00,252.34 L227.61,252.37 L228.23,252.40 L228.85,252.43 L229.46,252.45 L230.08,252.48 L230.70,252.51 L231.31,252.54 L231.93,252.56 L232.55,252.59 L233.16,252.62 L233.78,252.65 L234.40,252.67 L235.01,252.70 L235.63,252.73 L236.25,252.75 L236.86,252.78 L237.48,252.80 L238.10,252.83 L238.71,252.85 L239.33,252.88 L239.95,252.90 L240.56,252.93 L241.18,252.95 L241.80,252.97 L242.41,252.99 L243.03,253.01 L243.65,253.04 L244.26,253.06 L244.88,253.07 L245.50,253.09 L246.11,253.11 L246.73,253.13 L247.35,253.14 L247.96,253.16 L248.58,253.17 L249.20,253.19 L249.81,253.20 L250.43,253.21 L251.05,253.22 L251.66,253.23 L252.28,253.24 L252.90,253.25 L253.51,253.25 L254.13,253.26 L254.75,253.26 L255.36,253.26 L255.98,253.26 L256.60,253.26" fill="none" stroke="rgb(242,108,80)" stroke-opacity="0.75" stroke-width="0.7"/>
<path d="M71.60,245.89 L72.22,245.89 L72.83,245.90 L73.45,245.91 L74.07,245.91 L74.68,245.92 L75.30,245.93 L75.92,245.94 L76.53,245.95 L77.15,245.96 L77.77,245.98 L78.38,245.99 L79.00,246.00 L79.62,246.01 L80.23,246.03 L80.85,246.04 L81.47,246.06 L82.08,246.07 L82.70,246.09 L83.32,246.11 L83.93,246.12 L84.55,246.14 L85.17,246.16 L85.78,246.18 L86.40,246.20 L87.02,246.22 L87.63,246.23 L88.25,246.25 L88.87,246.27 L89.48,246.29 L90.10,246.31 L90.72,246.33 L91.33,246.35 L91.95,246.38 L92.57,246.40 L93.18,246.43 L93.80,246.45 L94.42,246.48 L95.03,246.51 L95.65,246.54 L96.27,246.57 L96.88,246.60 L97.50,246.63 L98.12,246.66 L98.73,246.70 L99.35,246.73 L99.97,246.77 L100.58,246.80 L101.20,246.84 L101.82,246.88 L102.43,246.91 L103.05,246.95 L103.67,246.99 L104.28,247.03 L104.90,247.07 L105.52,247.11 L106.13,247.15 L106.75,247.19 L107.37,247.23 L107.98,247.27 L108.60,247.31 L109.22,247.35 L109.83,247.40 L110.45,247.45 L111.07,247.51 L111.68,247.57 L112.30,247.64 L112.92,247.71 L113.53,247.77 L114.15,247.84 L114.77,247.90 L115.38,247.97 L116.00,248.03 L116.62,248.08 L117.23,248.14 L117.85,248.18 L118.47,248.22 L119.08,248.26 L119.70,248.28 L120.32,248.29 L120.93,248.30 L121.55,248.30 L122.17,248.30 L122.78,248.30 L123.40,248.29 L124.02,248.29 L124.63,248.29 L125.25,248.28 L125.87,248.28 L126.48,248.27 L127.10,248.27 L127.72,248.26 L128.33,248.26 L128.95,248.25 L129.57,248.24 L130.18,248.24 L130.80,248.23 L131.42,248.23 L132.03,248.22 L132.65,248.21 L133.26,248.21 L133.88,248.20 L134.50,248.20 L135.11,248.19 L135.73,248.19 L136.35,248.18 L136.96,248.18 L137.58,248.18 L138.20,248.18 L138.81,248.18 L139.43,248.18 L140.05,248.18 L140.66,248.18 L141.28,248.18 L141.90,248.18 L142.51,248.18 L143.13,248.19 L143.75,248.19 L144.36,248.19 L144.98,248.20 L145.60,248.20 L146.21,248.20 L146.83,248.21 L147.45,248.21 L148.06,248.21 L148.68,248.22 L149.30,248.22 L149.91,248.22 L150.53,248.22 L151.15,248.23 L151.76,248.23 L152.38,248.22 L153.00,248.22 L153.61,248.21 L154.23,248.20 L154.85,248.19 L155.46,248.17 L156.08,248.16 L156.70,248.14 L157.31,248.11 L157.93,248.09 L158.55,248.06 L159.16,248.03 L159.78,248.00 L160.40,247.97 L161.01,247.94 L161.63,247.90 L162.25,247.87 L162.86,247.83 L163.48,247.79 L164.10,247.75 L164.71,247.71 L165.33,247.66 L165.95,247.62 L166.56,247.58 L167.18,247.53 L167.80,247.49 L168.41,247.44 L169.03,247.40 L169.65,247.35 L170.26,247.31 L170.88,247.26 L171.50,247.21 L172.11,247.15 L172.73,247.09 L173.35,247.03 L173.96,246.96 L174.58,246.89 L175.20,246.82 L175.81,246.74 L176.43,246.66 L177.05,246.58 L177.66,246.50 L178.28,246.41 L178.90,246.32 L179.51,246.22 L180.13,246.13 L180.75,246.03 L181.36,245.93 L181.98,245.83 L182.60,245.72 L183.21,245.61 L183.83,245.50 L184.45,245.39 L185.06,245.28 L185.68,245.17 L186.30,245.05 L186.91,244.93 L187.53,244.82 L188.15,244.70 L188.76,244.58 L189.38,244.45 L190.00,244.33 L190.61,244.21 L191.23,244.08 L191.85,243.96 L192.46,243.83 L193.08,243.71 L193.70,243.58 L194.31,243.46 L194.93,243.33 L195.55,243.20 L196.16,243.07 L196.78,242.94 L197.40,242.80 L198.01,242.67 L198.63,242.53 L199.25,242.38 L199.86,242.24 L200.48,242.09 L201.10,241.94 L201.71,241.79 L202.33,241.64 L202.95,241.48 L203.56,241.32 L204.18,241.16 L204.80,241.00 L205.41,240.83 L206.03,240.66 L206.65,240.50 L207.26,240.32 L207.88,240.15 L208.50,239.98 L209.11,239.80 L209.73,239.62 L210.35,239.44 L210.96,239.26 L211.58,239.07 L212.20,238.89 L212.81,238.70 L213.43,238.51 L214.05,238.32 L214.66,238.13 L215.28,237.93 L215.90,237.73 L216.51,237.54 L217.13,237.34 L217.75,237.14 L218.36,236.94 L218.98,236.73 L219.60,236.53 L220.21,236.32 L220.83,236.12 L221.45,235.91 L222.06,235.70 L222.68,235.49 L223.30,235.28 L223.91,235.06 L224.53,234.85 L225.15,234.63 L225.76,234.41 L226.38,234.19 L227.00,233.96 L227.61,233.72 L228.23,233.48 L228.85,233.23 L229.46,232.98 L230.08,232.72 L230.70,232.46 L231.31,232.20 L231.93,231.93 L232.55,231.66 L233.16,231.39 L233.78,231.12 L234.40,230.85 L235.01,230.57 L235.63,230.30 L236.25,230.02 L236.86,229.75 L237.48,229.47 L238.10,229.19 L238.71,228.91 L239.33,228.63 L239.95,228.35 L240.56,228.06 L241.18,227.77 L241.80,227.48 L242.41,227.19 L243.03,226.89 L243.65,226.59 L244.26,226.28 L244.88,225.98 L245.50,225.67 L246.11,225.35 L246.73,225.03 L247.35,224.71 L247.96,224.38 L248.58,224.05 L249.20,223.71 L249.81,223.38 L250.43,223.04 L251.05,222.69 L251.66,222.34 L252.28,221.99 L252.90,221.62 L253.51,221.20 L254.13,220.76 L254.75,220.31 L255.36,219.85 L255.98,219.37 L256.60,218.89" fill="none" stroke="rgb(192,20,60)" stroke-opacity="0.75" stroke-width="0.7"/>
<path d="M71.60,256.25 L72.22,256.21 L72.83,256.16 L73.45,256.11 L74.07,256.07 L74.68,256.02 L75.30,255.97 L75.92,255.93 L76.53,255.88 L77.15,255.83 L77.77,255.78 L78.38,255.73 L79.00,255.68 L79.62,255.64 L80.23,255.59 L80.85,255.54 L81.47,255.49 L82.08,255.44 L82.70,255.39 L83.32,255.34 L83.93,255.28 L84.55,255.23 L85.17,255.18 L85.78,255.13 L86.40,255.08 L87.02,255.03 L87.63,254.97 L88.25,254.92 L88.87,254.87 L89.48,254.81 L90.10,254.76 L90.72,254.71 L91.33,254.65 L91.95,254.60 L92.57,254.54 L93.18,254.49 L93.80,254.43 L94.42,254.37 L95.03,254.32 L95.65,254.26 L96.27,254.20 L96.88,254.14 L97.50,254.09 L98.12,254.03 L98.73,253.97 L99.35,253.91 L99.97,253.85 L100.58,253.79 L101.20,253.73 L101.82,253.67 L102.43,253.61 L103.05,253.55 L103.67,253.49 L104.28,253.43 L104.90,253.37 L105.52,253.32 L106.13,253.26 L106.75,253.20 L107.37,253.14 L107.98,253.08 L108.60,253.02 L109.22,252.96 L109.83,252.91 L110.45,252.85 L111.07,252.79 L111.68,252.73 L112.30,252.67 L112.92,252.62 L113.53,252.56 L114.15,252.50 L114.77,252.44 L115.38,252.39 L116.00,252.33 L116.62,252.27 L117.23,252.21 L117.85,252.15 L118.47,252.09 L119.08,252.03 L119.70,251.97 L120.32,251.91 L120.93,251.85 L121.55,251.79 L122.17,251.73 L122.78,251.67 L123.40,251.61 L124.02,251.54 L124.63,251.48 L125.25,251.42 L125.87,251.35 L126.48,251.29 L127.10,251.22 L127.72,251.16 L128.33,251.10 L128.95,251.03 L129.57,250.97 L130.18,250.90 L130.80,250.84 L131.42,250.78 L132.03,250.71 L132.65,250.65 L133.26,250.59 L133.88,250.52 L134.50,250.46 L135.11,250.40 L135.73,250.35 L136.35,250.29 L136.96,250.23 L137.58,250.17 L138.20,250.11 L138.81,250.04 L139.43,249.98 L140.05,249.91 L140.66,249.84 L141.28,249.77 L141.90,249.69 L142.51,249.60 L143.13,249.52 L143.75,249.43 L144.36,249.34 L144.98,249.25 L145.60,249.17 L146.21,249.08 L146.83,248.98 L147.45,248.87 L148.06,248.76 L148.68,248.66 L149.30,248.56 L149.91,248.47 L150.53,248.41 L151.15,248.37 L151.76,248.35 L152.38,248.35 L153.00,248.36 L153.61,248.36 L154.23,248.37 L154.85,248.38 L155.46,248.40 L156.08,248.41 L156.70,248.43 L157.31,248.45 L157.93,248.48 L158.55,248.50 L159.16,248.53 L159.78,248.56 L160.40,248.59 L161.01,248.62 L161.63,248.65 L162.25,248.69 L162.86,248.73 L163.48,248.76 L164.10,248.80 L164.71,248.85 L165.33,248.89 L165.95,248.93 L166.56,248.98 L167.18,249.02 L167.80,249.07 L168.41,249.12 L169.03,249.17 L169.65,249.22 L170.26,249.26 L170.88,249.32 L171.50,249.37 L172.11,249.42 L172.73,249.47 L173.35,249.52 L173.96,249.57 L174.58,249.63 L175.20,249.68 L175.81,249.73 L176.43,249.78 L177.05,249.84 L177.66,249.89 L178.28,249.94 L178.90,249.99 L179.51,250.04 L180.13,250.09 L180.75,250.14 L181.36,250.19 L181.98,250.24 L182.60,250.29 L183.21,250.34 L183.83,250.38 L184.45,250.43 L185.06,250.48 L185.68,250.53 L186.30,250.58 L186.91,250.62 L187.53,250.67 L188.15,250.72 L188.76,250.77 L189.38,250.82 L190.00,250.88 L190.61,250.93 L191.23,250.98 L191.85,251.03 L192.46,251.09 L193.08,251.14 L193.70,251.20 L194.31,251.25 L194.93,251.31 L195.55,251.36 L196.16,251.42 L196.78,251.48 L197.40,251.54 L198.01,251.60 L198.63,251.66 L199.25,251.73 L199.86,251.79 L200.48,251.85 L201.10,251.92 L201.71,251.99 L202.33,252.06 L202.95,252.12 L203.56,252.20 L204.18,252.27 L204.80,252.34 L205.41,252.41 L206.03,252.49 L206.65,252.57 L207.26,252.64 L207.88,252.72 L208.50,252.81 L209.11,252.89 L209.73,252.99 L210.35,253.09 L210.96,253.19 L211.58,253.30 L212.20,253.41 L212.81,253.53 L213.43,253.65 L214.05,253.77 L214.66,253.90 L215.28,254.03 L215.90,254.16 L216.51,254.29 L217.13,254.42 L217.75,254.56 L218.36,254.69 L218.98,254.82 L219.60,254.95 L220.21,255.08 L220.83,255.21 L221.45,255.34 L222.06,255.46 L222.68,255.58 L223.30,255.70 L223.91,255.81 L224.53,255.92 L225.15,256.02 L225.76,256.13 L226.38,256.23 L227.00,256.34 L227.61,256.45 L228.23,256.56 L228.85,256.67 L229.46,256.79 L230.08,256.90 L230.70,257.02 L231.31,257.13 L231.93,257.25 L232.55,257.37 L233.16,257.49 L233.78,257.60 L234.40,257.72 L235.01,257.84 L235.63,257.95 L236.25,258.07 L236.86,258.19 L237.48,258.30 L238.10,258.41 L238.71,258.53 L239.33,258.64 L239.95,258.74 L240.56,258.85 L241.18,258.96 L241.80,259.06 L242.41,259.16 L243.03,259.26 L243.65,259.36 L244.26,259.45 L244.88,259.54 L245.50,259.63 L246.11,259.71 L246.73,259.79 L247.35,259.87 L247.96,259.94 L248.58,260.01 L249.20,260.07 L249.81,260.14 L250.43,260.19 L251.05,260.24 L251.66,260.29 L252.28,260.33 L252.90,260.37 L253.51,260.40 L254.13,260.41 L254.75,260.42 L255.36,260.42 L255.98,260.42 L256.60,260.41" fill="none" stroke="rgb(192,20,60)" stroke-opacity="0.75" stroke-width="0.7"/>
<path d="M71.60,245.89 L72.22,245.89 L72.83,245.90 L73.45,245.91 L74.07,245.91 L74.68,245.92 L75.30,245.93 L75.92,245.94 L76.53,245.95 L77.15,245.96 L77.77,245.98 L78.38,245.99 L79.00,246.00 L79.62,246.01 L80.23,246.03 L80.85,246.04 L81.47,246.06 L82.08,246.07 L82.70,246.09 L83.32,246.11 L83.93,246.12 L84.55,246.14 L85.17,246.16 L85.78,246.18 L86.40,246.20 L87.02,246.22 L87.63,246.23 L88.25,246.25 L88.87,246.27 L89.48,246.29 L90.10,246.31 L90.72,246.33 L91.33,246.35 L91.95,246.38 L92.57,246.40 L93.18,246.43 L93.80,246.45 L94.42,246.48 L95.03,246.51 L95.65,246.54 L96.27,246.57 L96.88,246.60 L97.50,246.63 L98.12,246.66 L98.73,246.70 L99.35,246.73 L99.97,246.77 L100.58,246.80 L101.20,246.84 L101.82,246.88 L102.43,246.91 L103.05,246.95 L103.67,246.99 L104.28,247.03 L104.90,247.07 L105.52,247.11 L106.13,247.15 L106.75,247.19 L107.37,247.23 L107.98,247.27 L108.60,247.31 L109.22,247.35 L109.83,247.40 L110.45,247.45 L111.07,247.51 L111.68,247.57 L112.30,247.64 L112.92,247.71 L113.53,247.77 L114.15,247.84 L114.77,247.90 L115.38,247.97 L116.00,248.03 L116.62,248.08 L117.23,248.14 L117.85,248.18 L118.47,248.22 L119.08,248.26 L119.70,248.28 L120.32,248.29 L120.93,248.30 L121.55,248.30 L122.17,248.30 L122.78,248.30 L123.40,248.29 L124.02,248.29 L124.63,248.29 L125.25,248.28 L125.87,248.28 L126.48,248.27 L127.10,248.27 L127.72,248.26 L128.33,248.26 L128.95,248.25 L129.57,248.24 L130.18,248.24 L130.80,248.23 L131.42,248.23 L132.03,248.22 L132.65,248.21 L133.26,248.21 L133.88,248.20 L134.50,248.20 L135.11,248.19 L135.73,248.19 L136.35,248.18 L136.96,248.18 L137.58,248.18 L138.20,248.18 L138.81,248.18 L139.43,248.18 L140.05,248.18 L140.66,248.18 L141.28,248.18 L141.90,248.18 L142.51,248.18 L143.13,248.19 L143.75,248.19 L144.36,248.19 L144.98,248.20 L145.60,248.20 L146.21,248.20 L146.83,248.21 L147.45,248.21 L148.06,248.21 L148.68,248.22 L149.30,248.22 L149.91,248.22 L150.53,248.22 L151.15,248.23 L151.76,248.23 L152.38,248.22 L153.00,248.19 L153.61,248.16 L154.23,248.11 L154.85,248.05 L155.46,247.97 L156.08,247.89 L156.70,247.80 L157.31,247.70 L157.93,247.60 L158.55,247.49 L159.16,247.37 L159.78,247.26 L160.40,247.14 L161.01,247.02 L161.63,246.90 L162.25,246.78 L162.86,246.67 L163.48,246.56 L164.10,246.45 L164.71,246.35 L165.33,246.26 L165.95,246.16 L166.56,246.07 L167.18,245.98 L167.80,245.89 L168.41,245.80 L169.03,245.71 L169.65,245.61 L170.26,245.52 L170.88,245.43 L171.50,245.33 L172.11,245.23 L172.73,245.13 L173.35,245.03 L173.96,244.92 L174.58,244.81 L175.20,244.69 L175.81,244.57 L176.43,244.45 L177.05,244.32 L177.66,244.19 L178.28,244.05 L178.90,243.91 L179.51,243.76 L180.13,243.61 L180.75,243.46 L181.36,243.30 L181.98,243.13 L182.60,242.97 L183.21,242.80 L183.83,242.63 L184.45,242.45 L185.06,242.28 L185.68,242.10 L186.30,241.91 L186.91,241.73 L187.53,241.54 L188.15,241.34 L188.76,241.14 L189.38,240.94 L190.00,240.73 L190.61,240.52 L191.23,240.31 L191.85,240.08 L192.46,239.86 L193.08,239.63 L193.70,239.39 L194.31,239.15 L194.93,238.90 L195.55,238.65 L196.16,238.39 L196.78,238.13 L197.40,237.86 L198.01,237.59 L198.63,237.30 L199.25,237.01 L199.86,236.70 L200.48,236.39 L201.10,236.07 L201.71,235.74 L202.33,235.41 L202.95,235.07 L203.56,234.72 L204.18,234.37 L204.80,234.00 L205.41,233.64 L206.03,233.27 L206.65,232.89 L207.26,232.51 L207.88,232.13 L208.50,231.74 L209.11,231.35 L209.73,230.94 L210.35,230.53 L210.96,230.10 L211.58,229.67 L212.20,229.23 L212.81,228.79 L213.43,228.33 L214.05,227.87 L214.66,227.41 L215.28,226.94 L215.90,226.47 L216.51,225.99 L217.13,225.51 L217.75,225.02 L218.36,224.53 L218.98,224.05 L219.60,223.56 L220.21,223.07 L220.83,222.58 L221.45,222.10 L222.06,221.61 L222.68,221.11 L223.30,220.60 L223.91,220.08 L224.53,219.55 L225.15,219.01 L225.76,218.44 L226.38,217.86 L227.00,217.25 L227.61,216.62 L228.23,215.95 L228.85,215.23 L229.46,214.45 L230.08,213.64 L230.70,212.80 L231.31,211.95 L231.93,211.08 L232.55,210.22 L233.16,209.36 L233.78,208.53 L234.40,207.73 L235.01,206.95 L235.63,206.19 L236.25,205.45 L236.86,204.70 L237.48,203.96 L238.10,203.19 L238.71,202.41 L239.33,201.60 L239.95,200.74 L240.56,199.84 L241.18,198.88 L241.80,197.85 L242.41,196.77 L243.03,195.65 L243.65,194.49 L244.26,193.32 L244.88,192.13 L245.50,190.95 L246.11,189.78 L246.73,188.64 L247.35,187.53 L247.96,186.44 L248.58,185.38 L249.20,184.33 L249.81,183.27 L250.43,182.20 L251.05,181.10 L251.66,179.96 L252.28,178.77 L252.90,177.52 L253.51,176.09 L254.13,174.53 L254.75,172.90 L255.36,171.29 L255.98,169.76 L256.60,168.34" fill="none" stroke="rgb(86,165,230)" stroke-opacity="0.75" stroke-width="0.7"/>
<path d="M71.60,256.25 L72.22,256.21 L72.83,256.16 L73.45,256.11 L74.07,256.07 L74.68,256.02 L75.30,255.97 L75.92,255.93 L76.53,255.88 L77.15,255.83 L77.77,255.78 L78.38,255.73 L79.00,255.68 L79.62,255.64 L80.23,255.59 L80.85,255.54 L81.47,255.49 L82.08,255.44 L82.70,255.39 L83.32,255.34 L83.93,255.28 L84.55,255.23 L85.17,255.18 L85.78,255.13 L86.40,255.08 L87.02,255.03 L87.63,254.97 L88.25,254.92 L88.87,254.87 L89.48,254.81 L90.10,254.76 L90.72,254.71 L91.33,254.65 L91.95,254.60 L92.57,254.54 L93.18,254.49 L93.80,254.43 L94.42,254.37 L95.03,254.32 L95.65,254.26 L96.27,254.20 L96.88,254.14 L97.50,254.09 L98.12,254.03 L98.73,253.97 L99.35,253.91 L99.97,253.85 L100.58,253.79 L101.20,253.73 L101.82,253.67 L102.43,253.61 L103.05,253.55 L103.67,253.49 L104.28,253.43 L104.90,253.37 L105.52,253.32 L106.13,253.26 L106.75,253.20 L107.37,253.14 L107.98,253.08 L108.60,253.02 L109.22,252.96 L109.83,252.91 L110.45,252.85 L111.07,252.79 L111.68,252.73 L112.30,252.67 L112.92,252.62 L113.53,252.56 L114.15,252.50 L114.77,252.44 L115.38,252.39 L116.00,252.33 L116.62,252.27 L117.23,252.21 L117.85,252.15 L118.47,252.09 L119.08,252.03 L119.70,251.97 L120.32,251.91 L120.93,251.85 L121.55,251.79 L122.17,251.73 L122.78,251.67 L123.40,251.61 L124.02,251.54 L124.63,251.48 L125.25,251.42 L125.87,251.35 L126.48,251.29 L127.10,251.22 L127.72,251.16 L128.33,251.10 L128.95,251.03 L129.57,250.97 L130.18,250.90 L130.80,250.84 L131.42,250.78 L132.03,250.71 L132.65,250.65 L133.26,250.59 L133.88,250.52 L134.50,250.46 L135.11,250.40 L135.73,250.35 L136.35,250.29 L136.96,250.23 L137.58,250.17 L138.20,250.11 L138.81,250.04 L139.43,249.98 L140.05,249.91 L140.66,249.84 L141.28,249.77 L141.90,249.69 L142.51,249.60 L143.13,249.52 L143.75,249.43 L144.36,249.34 L144.98,249.25 L145.60,249.17 L146.21,249.08 L146.83,248.98 L147.45,248.87 L148.06,248.76 L148.68,248.66 L149.30,248.56 L149.91,248.47 L150.53,248.41 L151.15,248.37 L151.76,248.35 L152.38,248.35 L153.00,248.35 L153.61,248.36 L154.23,248.37 L154.85,248.38 L155.46,248.39 L156.08,248.40 L156.70,248.42 L157.31,248.44 L157.93,248.46 L158.55,248.48 L159.16,248.50 L159.78,248.52 L160.40,248.55 L161.01,248.58 L161.63,248.60 L162.25,248.63 L162.86,248.66 L163.48,248.70 L164.10,248.73 L164.71,248.76 L165.33,248.80 L165.95,248.83 L166.56,248.87 L167.18,248.90 L167.80,248.94 L168.41,248.98 L169.03,249.01 L169.65,249.05 L170.26,249.09 L170.88,249.13 L171.50,249.17 L172.11,249.21 L172.73,249.24 L173.35,249.28 L173.96,249.32 L174.58,249.36 L175.20,249.40 L175.81,249.43 L176.43,249.47 L177.05,249.51 L177.66,249.54 L178.28,249.58 L178.90,249.61 L179.51,249.64 L180.13,249.67 L180.75,249.71 L181.36,249.73 L181.98,249.76 L182.60,249.79 L183.21,249.82 L183.83,249.84 L184.45,249.87 L185.06,249.90 L185.68,249.92 L186.30,249.95 L186.91,249.97 L187.53,250.00 L188.15,250.02 L188.76,250.05 L189.38,250.07 L190.00,250.10 L190.61,250.12 L191.23,250.15 L191.85,250.17 L192.46,250.19 L193.08,250.22 L193.70,250.24 L194.31,250.27 L194.93,250.29 L195.55,250.31 L196.16,250.34 L196.78,250.36 L197.40,250.38 L198.01,250.41 L198.63,250.43 L199.25,250.45 L199.86,250.48 L200.48,250.50 L201.10,250.52 L201.71,250.55 L202.33,250.57 L202.95,250.59 L203.56,250.62 L204.18,250.64 L204.80,250.67 L205.41,250.69 L206.03,250.71 L206.65,250.74 L207.26,250.76 L207.88,250.79 L208.50,250.81 L209.11,250.84 L209.73,250.86 L210.35,250.88 L210.96,250.91 L211.58,250.93 L212.20,250.96 L212.81,250.99 L213.43,251.01 L214.05,251.04 L214.66,251.06 L215.28,251.09 L215.90,251.12 L216.51,251.14 L217.13,251.17 L217.75,251.20 L218.36,251.23 L218.98,251.25 L219.60,251.28 L220.21,251.31 L220.83,251.34 L221.45,251.37 L222.06,251.41 L222.68,251.44 L223.30,251.48 L223.91,251.51 L224.53,251.55 L225.15,251.59 L225.76,251.63 L226.38,251.67 L227.00,251.71 L227.61,251.75 L228.23,251.79 L228.85,251.83 L229.46,251.88 L230.08,251.92 L230.70,251.96 L231.31,252.01 L231.93,252.05 L232.55,252.09 L233.16,252.14 L233.78,252.18 L234.40,252.23 L235.01,252.27 L235.63,252.32 L236.25,252.36 L236.86,252.40 L237.48,252.45 L238.10,252.49 L238.71,252.53 L239.33,252.57 L239.95,252.61 L240.56,252.65 L241.18,252.69 L241.80,252.73 L242.41,252.77 L243.03,252.81 L243.65,252.85 L244.26,252.88 L244.88,252.91 L245.50,252.95 L246.11,252.98 L246.73,253.01 L247.35,253.04 L247.96,253.07 L248.58,253.09 L249.20,253.12 L249.81,253.14 L250.43,253.16 L251.05,253.18 L251.66,253.20 L252.28,253.22 L252.90,253.23 L253.51,253.26 L254.13,253.28 L254.75,253.30 L255.36,253.32 L255.98,253.34 L256.60,253.36" fill="none" stroke="rgb(86,165,230)" stroke-opacity="0.75" stroke-width="0.7"/>
<path d="M71.60,245.89 L72.22,245.89 L72.83,245.90 L73.45,245.91 L74.07,245.91 L74.68,245.92 L75.30,245.93 L75.92,245.94 L76.53,245.95 L77.15,245.96 L77.77,245.98 L78.38,245.99 L79.00,246.00 L79.62,246.01 L80.23,246.03 L80.85,246.04 L81.47,246.06 L82.08,246.07 L82.70,246.09 L83.32,246.11 L83.93,246.12 L84.55,246.14 L85.17,246.16 L85.78,246.18 L86.40,246.20 L87.02,246.22 L87.63,246.23 L88.25,246.25 L88.87,246.27 L89.48,246.29 L90.10,246.31 L90.72,246.33 L91.33,246.35 L91.95,246.38 L92.57,246.40 L93.18,246.43 L93.80,246.45 L94.42,246.48 L95.03,246.51 L95.65,246.54 L96.27,246.57 L96.88,246.60 L97.50,246.63 L98.12,246.66 L98.73,246.70 L99.35,246.73 L99.97,246.77 L100.58,246.80 L101.20,246.84 L101.82,246.88 L102.43,246.91 L103.05,246.95 L103.67,246.99 L104.28,247.03 L104.90,247.07 L105.52,247.11 L106.13,247.15 L106.75,247.19 L107.37,247.23 L107.98,247.27 L108.60,247.31 L109.22,247.35 L109.83,247.40 L110.45,247.45 L111.07,247.51 L111.68,247.57 L112.30,247.64 L112.92,247.71 L113.53,247.77 L114.15,247.84 L114.77,247.90 L115.38,247.97 L116.00,248.03 L116.62,248.08 L117.23,248.14 L117.85,248.18 L118.47,248.22 L119.08,248.26 L119.70,248.28 L120.32,248.29 L120.93,248.30 L121.55,248.30 L122.17,248.30 L122.78,248.30 L123.40,248.29 L124.02,248.29 L124.63,248.29 L125.25,248.28 L125.87,248.28 L126.48,248.27 L127.10,248.27 L127.72,248.26 L128.33,248.26 L128.95,248.25 L129.57,248.24 L130.18,248.24 L130.80,248.23 L131.42,248.23 L132.03,248.22 L132.65,248.21 L133.26,248.21 L133.88,248.20 L134.50,248.20 L135.11,248.19 L135.73,248.19 L136.35,248.18 L136.96,248.18 L137.58,248.18 L138.20,248.18 L138.81,248.18 L139.43,248.18 L140.05,248.18 L140.66,248.18 L141.28,248.18 L141.90,248.18 L142.51,248.18 L143.13,248.19 L143.75,248.19 L144.36,248.19 L144.98,248.20 L145.60,248.20 L146.21,248.20 L146.83,248.21 L147.45,248.21 L148.06,248.21 L148.68,248.22 L149.30,248.22 L149.91,248.22 L150.53,248.22 L151.15,248.23 L151.76,248.23 L152.38,248.22 L153.00,248.22 L153.61,248.21 L154.23,248.21 L154.85,248.19 L155.46,248.18 L156.08,248.17 L156.70,248.15 L157.31,248.13 L157.93,248.11 L158.55,248.09 L159.16,248.07 L159.78,248.04 L160.40,248.02 L161.01,247.99 L161.63,247.96 L162.25,247.94 L162.86,247.91 L163.48,247.88 L164.10,247.85 L164.71,247.82 L165.33,247.79 L165.95,247.76 L166.56,247.73 L167.18,247.70 L167.80,247.67 L168.41,247.64 L169.03,247.61 L169.65,247.58 L170.26,247.55 L170.88,247.53 L171.50,247.50 L172.11,247.47 L172.73,247.44 L173.35,247.42 L173.96,247.39 L174.58,247.36 L175.20,247.33 L175.81,247.30 L176.43,247.27 L177.05,247.25 L177.66,247.22 L178.28,247.19 L178.90,247.16 L179.51,247.13 L180.13,247.09 L180.75,247.06 L181.36,247.03 L181.98,247.00 L182.60,246.97 L183.21,246.93 L183.83,246.90 L184.45,246.87 L185.06,246.83 L185.68,246.80 L186.30,246.76 L186.91,246.73 L187.53,246.69 L188.15,246.65 L188.76,246.62 L189.38,246.58 L190.00,246.54 L190.61,246.50 L191.23,246.46 L191.85,246.42 L192.46,246.38 L193.08,246.33 L193.70,246.29 L194.31,246.25 L194.93,246.20 L195.55,246.16 L196.16,246.11 L196.78,246.06 L197.40,246.02 L198.01,245.97 L198.63,245.92 L199.25,245.87 L199.86,245.81 L200.48,245.76 L201.10,245.70 L201.71,245.64 L202.33,245.58 L202.95,245.51 L203.56,245.44 L204.18,245.37 L204.80,245.29 L205.41,245.22 L206.03,245.13 L206.65,245.05 L207.26,244.97 L207.88,244.88 L208.50,244.79 L209.11,244.70 L209.73,244.60 L210.35,244.51 L210.96,244.41 L211.58,244.31 L212.20,244.21 L212.81,244.11 L213.43,244.01 L214.05,243.91 L214.66,243.80 L215.28,243.70 L215.90,243.60 L216.51,243.49 L217.13,243.39 L217.75,243.28 L218.36,243.18 L218.98,243.07 L219.60,242.96 L220.21,242.86 L220.83,242.75 L221.45,242.65 L222.06,242.55 L222.68,242.45 L223.30,242.34 L223.91,242.24 L224.53,242.14 L225.15,242.05 L225.76,241.95 L226.38,241.86 L227.00,241.76 L227.61,241.67 L228.23,241.58 L228.85,241.49 L229.46,241.41 L230.08,241.33 L230.70,241.24 L231.31,241.16 L231.93,241.09 L232.55,241.01 L233.16,240.93 L233.78,240.85 L234.40,240.78 L235.01,240.71 L235.63,240.63 L236.25,240.56 L236.86,240.49 L237.48,240.42 L238.10,240.35 L238.71,240.27 L239.33,240.20 L239.95,240.13 L240.56,240.07 L241.18,240.00 L241.80,239.93 L242.41,239.86 L243.03,239.79 L243.65,239.72 L244.26,239.65 L244.88,239.58 L245.50,239.51 L246.11,239.44 L246.73,239.37 L247.35,239.29 L247.96,239.22 L248.58,239.15 L249.20,239.08 L249.81,239.00 L250.43,238.93 L251.05,238.85 L251.66,238.77 L252.28,238.69 L252.90,238.61 L253.51,238.44 L254.13,238.28 L254.75,238.13 L255.36,237.99 L255.98,237.86 L256.60,237.73" fill="none" stroke="rgb(31,85,200)" stroke-opacity="0.75" stroke-width="0.7"/>
<path d="M71.60,256.25 L72.22,256.21 L72.83,256.16 L73.45,256.11 L74.07,256.07 L74.68,256.02 L75.30,255.97 L75.92,255.93 L76.53,255.88 L77.15,255.83 L77.77,255.78 L78.38,255.73 L79.00,255.68 L79.62,255.64 L80.23,255.59 L80.85,255.54 L81.47,255.49 L82.08,255.44 L82.70,255.39 L83.32,255.34 L83.93,255.28 L84.55,255.23 L85.17,255.18 L85.78,255.13 L86.40,255.08 L87.02,255.03 L87.63,254.97 L88.25,254.92 L88.87,254.87 L89.48,254.81 L90.10,254.76 L90.72,254.71 L91.33,254.65 L91.95,254.60 L92.57,254.54 L93.18,254.49 L93.80,254.43 L94.42,254.37 L95.03,254.32 L95.65,254.26 L96.27,254.20 L96.88,254.14 L97.50,254.09 L98.12,254.03 L98.73,253.97 L99.35,253.91 L99.97,253.85 L100.58,253.79 L101.20,253.73 L101.82,253.67 L102.43,253.61 L103.05,253.55 L103.67,253.49 L104.28,253.43 L104.90,253.37 L105.52,253.32 L106.13,253.26 L106.75,253.20 L107.37,253.14 L107.98,253.08 L108.60,253.02 L109.22,252.96 L109.83,252.91 L110.45,252.85 L111.07,252.79 L111.68,252.73 L112.30,252.67 L112.92,252.62 L113.53,252.56 L114.15,252.50 L114.77,252.44 L115.38,252.39 L116.00,252.33 L116.62,252.27 L117.23,252.21 L117.85,252.15 L118.47,252.09 L119.08,252.03 L119.70,251.97 L120.32,251.91 L120.93,251.85 L121.55,251.79 L122.17,251.73 L122.78,251.67 L123.40,251.61 L124.02,251.54 L124.63,251.48 L125.25,251.42 L125.87,251.35 L126.48,251.29 L127.10,251.22 L127.72,251.16 L128.33,251.10 L128.95,251.03 L129.57,250.97 L130.18,250.90 L130.80,250.84 L131.42,250.78 L132.03,250.71 L132.65,250.65 L133.26,250.59 L133.88,250.52 L134.50,250.46 L135.11,250.40 L135.73,250.35 L136.35,250.29 L136.96,250.23 L137.58,250.17 L138.20,250.11 L138.81,250.04 L139.43,249.98 L140.05,249.91 L140.66,249.84 L141.28,249.77 L141.90,249.69 L142.51,249.60 L143.13,249.52 L143.75,249.43 L144.36,249.34 L144.98,249.25 L145.60,249.17 L146.21,249.08 L146.83,248.98 L147.45,248.87 L148.06,248.76 L148.68,248.66 L149.30,248.56 L149.91,248.47 L150.53,248.41 L151.15,248.37 L151.76,248.35 L152.38,248.35 L153.00,248.36 L153.61,248.37 L154.23,248.39 L154.85,248.41 L155.46,248.43 L156.08,248.46 L156.70,248.49 L157.31,248.52 L157.93,248.56 L158.55,248.60 L159.16,248.64 L159.78,248.69 L160.40,248.74 L161.01,248.79 L161.63,248.84 L162.25,248.89 L162.86,248.95 L163.48,249.01 L164.10,249.07 L164.71,249.13 L165.33,249.19 L165.95,249.25 L166.56,249.32 L167.18,249.38 L167.80,249.44 L168.41,249.51 L169.03,249.57 L169.65,249.64 L170.26,249.70 L170.88,249.77 L171.50,249.83 L172.11,249.89 L172.73,249.95 L173.35,250.01 L173.96,250.07 L174.58,250.13 L175.20,250.18 L175.81,250.24 L176.43,250.29 L177.05,250.34 L177.66,250.39 L178.28,250.44 L178.90,250.50 L179.51,250.55 L180.13,250.61 L180.75,250.66 L181.36,250.72 L181.98,250.78 L182.60,250.83 L183.21,250.89 L183.83,250.95 L184.45,251.01 L185.06,251.07 L185.68,251.12 L186.30,251.18 L186.91,251.24 L187.53,251.30 L188.15,251.36 L188.76,251.41 L189.38,251.47 L190.00,251.53 L190.61,251.58 L191.23,251.64 L191.85,251.69 L192.46,251.74 L193.08,251.79 L193.70,251.84 L194.31,251.89 L194.93,251.94 L195.55,251.99 L196.16,252.04 L196.78,252.08 L197.40,252.12 L198.01,252.16 L198.63,252.20 L199.25,252.24 L199.86,252.28 L200.48,252.31 L201.10,252.34 L201.71,252.38 L202.33,252.41 L202.95,252.44 L203.56,252.47 L204.18,252.49 L204.80,252.52 L205.41,252.55 L206.03,252.57 L206.65,252.60 L207.26,252.63 L207.88,252.65 L208.50,252.67 L209.11,252.70 L209.73,252.72 L210.35,252.74 L210.96,252.76 L211.58,252.79 L212.20,252.81 L212.81,252.83 L213.43,252.85 L214.05,252.87 L214.66,252.89 L215.28,252.91 L215.90,252.93 L216.51,252.95 L217.13,252.98 L217.75,253.00 L218.36,253.02 L218.98,253.04 L219.60,253.06 L220.21,253.08 L220.83,253.11 L221.45,253.13 L222.06,253.15 L222.68,253.18 L223.30,253.20 L223.91,253.23 L224.53,253.25 L225.15,253.28 L225.76,253.31 L226.38,253.34 L227.00,253.37 L227.61,253.40 L228.23,253.43 L228.85,253.46 L229.46,253.49 L230.08,253.53 L230.70,253.56 L231.31,253.60 L231.93,253.64 L232.55,253.68 L233.16,253.72 L233.78,253.76 L234.40,253.80 L235.01,253.85 L235.63,253.89 L236.25,253.94 L236.86,253.98 L237.48,254.03 L238.10,254.08 L238.71,254.13 L239.33,254.18 L239.95,254.24 L240.56,254.29 L241.18,254.34 L241.80,254.39 L242.41,254.45 L243.03,254.50 L243.65,254.56 L244.26,254.62 L244.88,254.67 L245.50,254.73 L246.11,254.79 L246.73,254.84 L247.35,254.90 L247.96,254.96 L248.58,255.01 L249.20,255.07 L249.81,255.13 L250.43,255.19 L251.05,255.25 L251.66,255.30 L252.28,255.36 L252.90,255.42 L253.51,255.51 L254.13,255.59 L254.75,255.67 L255.36,255.74 L255.98,255.80 L256.60,255.86" fill="none" stroke="rgb(31,85,200)" stroke-opacity="0.75" stroke-width="0.7"/>
<path d="M71.60,249.89 L72.22,249.89 L72.83,249.90 L73.45,249.90 L74.07,249.91 L74.68,249.91 L75.30,249.92 L75.92,249.92 L76.53,249.92 L77.15,249.93 L77.77,249.93 L78.38,249.94 L79.00,249.94 L79.62,249.94 L80.23,249.95 L80.85,249.95 L81.47,249.96 L82.08,249.96 L82.70,249.96 L83.32,249.97 L83.93,249.97 L84.55,249.98 L85.17,249.98 L85.78,249.98 L86.40,249.99 L87.02,249.99 L87.63,249.99 L88.25,250.00 L88.87,250.00 L89.48,250.00 L90.10,250.01 L90.72,250.01 L91.33,250.01 L91.95,250.02 L92.57,250.02 L93.18,250.02 L93.80,250.03 L94.42,250.03 L95.03,250.03 L95.65,250.04 L96.27,250.04 L96.88,250.04 L97.50,250.05 L98.12,250.05 L98.73,250.05 L99.35,250.06 L99.97,250.06 L100.58,250.06 L101.20,250.07 L101.82,250.07 L102.43,250.07 L103.05,250.08 L103.67,250.08 L104.28,250.08 L104.90,250.09 L105.52,250.09 L106.13,250.09 L106.75,250.09 L107.37,250.10 L107.98,250.10 L108.60,250.10 L109.22,250.11 L109.83,250.11 L110.45,250.11 L111.07,250.12 L111.68,250.12 L112.30,250.12 L112.92,250.12 L113.53,250.12 L114.15,250.13 L114.77,250.13 L115.38,250.13 L116.00,250.13 L116.62,250.13 L117.23,250.14 L117.85,250.14 L118.47,250.14 L119.08,250.14 L119.70,250.14 L120.32,250.14 L120.93,250.14 L121.55,250.14 L122.17,250.13 L122.78,250.11 L123.40,250.10 L124.02,250.07 L124.63,250.05 L125.25,250.02 L125.87,249.98 L126.48,249.95 L127.10,249.91 L127.72,249.87 L128.33,249.83 L128.95,249.79 L129.57,249.75 L130.18,249.71 L130.80,249.67 L131.42,249.63 L132.03,249.59 L132.65,249.55 L133.26,249.52 L133.88,249.48 L134.50,249.45 L135.11,249.41 L135.73,249.38 L136.35,249.34 L136.96,249.30 L137.58,249.27 L138.20,249.23 L138.81,249.20 L139.43,249.17 L140.05,249.14 L140.66,249.12 L141.28,249.10 L141.90,249.07 L142.51,249.05 L143.13,249.03 L143.75,249.01 L144.36,248.98 L144.98,248.95 L145.60,248.92 L146.21,248.88 L146.83,248.82 L147.45,248.76 L148.06,248.69 L148.68,248.62 L149.30,248.54 L149.91,248.47 L150.53,248.40 L151.15,248.35 L151.76,248.30 L152.38,248.26 L153.00,248.22 L153.61,248.19 L154.23,248.15 L154.85,248.12 L155.46,248.09 L156.08,248.06 L156.70,248.03 L157.31,248.00 L157.93,247.98 L158.55,247.95 L159.16,247.92 L159.78,247.90 L160.40,247.88 L161.01,247.85 L161.63,247.83 L162.25,247.81 L162.86,247.79 L163.48,247.77 L164.10,247.75 L164.71,247.73 L165.33,247.71 L165.95,247.69 L166.56,247.67 L167.18,247.65 L167.80,247.63 L168.41,247.62 L169.03,247.60 L169.65,247.58 L170.26,247.56 L170.88,247.54 L171.50,247.52 L172.11,247.50 L172.73,247.48 L173.35,247.46 L173.96,247.44 L174.58,247.42 L175.20,247.39 L175.81,247.37 L176.43,247.35 L177.05,247.32 L177.66,247.30 L178.28,247.27 L178.90,247.24 L179.51,247.22 L180.13,247.19 L180.75,247.16 L181.36,247.12 L181.98,247.09 L182.60,247.06 L183.21,247.02 L183.83,246.98 L184.45,246.95 L185.06,246.91 L185.68,246.87 L186.30,246.82 L186.91,246.78 L187.53,246.73 L188.15,246.69 L188.76,246.64 L189.38,246.59 L190.00,246.54 L190.61,246.49 L191.23,246.43 L191.85,246.38 L192.46,246.32 L193.08,246.26 L193.70,246.20 L194.31,246.14 L194.93,246.08 L195.55,246.02 L196.16,245.95 L196.78,245.88 L197.40,245.81 L198.01,245.74 L198.63,245.67 L199.25,245.59 L199.86,245.50 L200.48,245.41 L201.10,245.32 L201.71,245.22 L202.33,245.12 L202.95,245.02 L203.56,244.91 L204.18,244.81 L204.80,244.70 L205.41,244.59 L206.03,244.48 L206.65,244.37 L207.26,244.25 L207.88,244.14 L208.50,244.03 L209.11,243.92 L209.73,243.80 L210.35,243.69 L210.96,243.57 L211.58,243.45 L212.20,243.33 L212.81,243.21 L213.43,243.08 L214.05,242.96 L214.66,242.83 L215.28,242.70 L215.90,242.57 L216.51,242.43 L217.13,242.29 L217.75,242.15 L218.36,242.01 L218.98,241.87 L219.60,241.72 L220.21,241.57 L220.83,241.42 L221.45,241.27 L222.06,241.11 L222.68,240.95 L223.30,240.79 L223.91,240.62 L224.53,240.46 L225.15,240.29 L225.76,240.12 L226.38,239.94 L227.00,239.77 L227.61,239.59 L228.23,239.41 L228.85,239.23 L229.46,239.05 L230.08,238.87 L230.70,238.68 L231.31,238.49 L231.93,238.31 L232.55,238.12 L233.16,237.92 L233.78,237.73 L234.40,237.54 L235.01,237.34 L235.63,237.15 L236.25,236.95 L236.86,236.75 L237.48,236.55 L238.10,236.36 L238.71,236.17 L239.33,235.97 L239.95,235.78 L240.56,235.59 L241.18,235.40 L241.80,235.20 L242.41,235.01 L243.03,234.81 L243.65,234.62 L244.26,234.42 L244.88,234.22 L245.50,234.01 L246.11,233.80 L246.73,233.59 L247.35,233.38 L247.96,233.16 L248.58,232.93 L249.20,232.70 L249.81,232.47 L250.43,232.23 L251.05,231.98 L251.66,231.72 L252.28,231.46 L252.90,231.20 L253.51,230.84 L254.13,230.51 L254.75,230.21 L255.36,229.94 L255.98,229.70 L256.60,229.49" fill="none" stroke="rgb(242,108,80)" stroke-width="2.0" stroke-linejoin="round"/>
<path d="M71.60,252.28 L72.22,252.25 L72.83,252.23 L73.45,252.21 L74.07,252.19 L74.68,252.16 L75.30,252.14 L75.92,252.12 L76.53,252.09 L77.15,252.07 L77.77,252.05 L78.38,252.02 L79.00,252.00 L79.62,251.97 L80.23,251.95 L80.85,251.93 L81.47,251.90 L82.08,251.88 L82.70,251.85 L83.32,251.83 L83.93,251.80 L84.55,251.78 L85.17,251.75 L85.78,251.73 L86.40,251.70 L87.02,251.68 L87.63,251.65 L88.25,251.63 L88.87,251.60 L89.48,251.57 L90.10,251.55 L90.72,251.52 L91.33,251.50 L91.95,251.47 L92.57,251.44 L93.18,251.42 L93.80,251.39 L94.42,251.36 L95.03,251.34 L95.65,251.31 L96.27,251.28 L96.88,251.25 L97.50,251.23 L98.12,251.20 L98.73,251.17 L99.35,251.14 L99.97,251.12 L100.58,251.09 L101.20,251.06 L101.82,251.03 L102.43,251.00 L103.05,250.97 L103.67,250.94 L104.28,250.91 L104.90,250.88 L105.52,250.86 L106.13,250.83 L106.75,250.80 L107.37,250.77 L107.98,250.74 L108.60,250.71 L109.22,250.68 L109.83,250.65 L110.45,250.61 L111.07,250.58 L111.68,250.55 L112.30,250.52 L112.92,250.49 L113.53,250.46 L114.15,250.43 L114.77,250.40 L115.38,250.37 L116.00,250.34 L116.62,250.31 L117.23,250.28 L117.85,250.24 L118.47,250.21 L119.08,250.18 L119.70,250.15 L120.32,250.12 L120.93,250.09 L121.55,250.06 L122.17,250.03 L122.78,250.00 L123.40,249.97 L124.02,249.94 L124.63,249.91 L125.25,249.88 L125.87,249.85 L126.48,249.82 L127.10,249.79 L127.72,249.76 L128.33,249.73 L128.95,249.69 L129.57,249.66 L130.18,249.63 L130.80,249.59 L131.42,249.56 L132.03,249.52 L132.65,249.48 L133.26,249.44 L133.88,249.40 L134.50,249.35 L135.11,249.29 L135.73,249.24 L136.35,249.18 L136.96,249.12 L137.58,249.07 L138.20,249.02 L138.81,248.98 L139.43,248.95 L140.05,248.92 L140.66,248.90 L141.28,248.88 L141.90,248.86 L142.51,248.85 L143.13,248.83 L143.75,248.81 L144.36,248.79 L144.98,248.77 L145.60,248.75 L146.21,248.71 L146.83,248.67 L147.45,248.61 L148.06,248.55 L148.68,248.49 L149.30,248.43 L149.91,248.38 L150.53,248.34 L151.15,248.31 L151.76,248.30 L152.38,248.30 L153.00,248.30 L153.61,248.31 L154.23,248.31 L154.85,248.32 L155.46,248.32 L156.08,248.33 L156.70,248.34 L157.31,248.35 L157.93,248.36 L158.55,248.37 L159.16,248.38 L159.78,248.40 L160.40,248.41 L161.01,248.42 L161.63,248.44 L162.25,248.45 L162.86,248.47 L163.48,248.48 L164.10,248.50 L164.71,248.52 L165.33,248.53 L165.95,248.55 L166.56,248.56 L167.18,248.58 L167.80,248.60 L168.41,248.61 L169.03,248.63 L169.65,248.64 L170.26,248.66 L170.88,248.67 L171.50,248.69 L172.11,248.70 L172.73,248.71 L173.35,248.73 L173.96,248.74 L174.58,248.75 L175.20,248.76 L175.81,248.77 L176.43,248.77 L177.05,248.78 L177.66,248.79 L178.28,248.79 L178.90,248.79 L179.51,248.80 L180.13,248.80 L180.75,248.80 L181.36,248.79 L181.98,248.79 L182.60,248.79 L183.21,248.78 L183.83,248.77 L184.45,248.76 L185.06,248.75 L185.68,248.74 L186.30,248.73 L186.91,248.71 L187.53,248.69 L188.15,248.68 L188.76,248.66 L189.38,248.64 L190.00,248.62 L190.61,248.60 L191.23,248.57 L191.85,248.55 L192.46,248.52 L193.08,248.50 L193.70,248.47 L194.31,248.44 L194.93,248.41 L195.55,248.38 L196.16,248.35 L196.78,248.32 L197.40,248.29 L198.01,248.25 L198.63,248.22 L199.25,248.18 L199.86,248.14 L200.48,248.11 L201.10,248.07 L201.71,248.03 L202.33,247.99 L202.95,247.95 L203.56,247.91 L204.18,247.87 L204.80,247.82 L205.41,247.78 L206.03,247.74 L206.65,247.69 L207.26,247.65 L207.88,247.60 L208.50,247.56 L209.11,247.51 L209.73,247.46 L210.35,247.42 L210.96,247.37 L211.58,247.32 L212.20,247.27 L212.81,247.22 L213.43,247.18 L214.05,247.13 L214.66,247.08 L215.28,247.03 L215.90,246.98 L216.51,246.93 L217.13,246.88 L217.75,246.82 L218.36,246.77 L218.98,246.72 L219.60,246.67 L220.21,246.62 L220.83,246.57 L221.45,246.52 L222.06,246.47 L222.68,246.41 L223.30,246.36 L223.91,246.31 L224.53,246.26 L225.15,246.21 L225.76,246.16 L226.38,246.11 L227.00,246.06 L227.61,246.01 L228.23,245.95 L228.85,245.90 L229.46,245.85 L230.08,245.81 L230.70,245.76 L231.31,245.71 L231.93,245.66 L232.55,245.61 L233.16,245.56 L233.78,245.51 L234.40,245.45 L235.01,245.40 L235.63,245.35 L236.25,245.30 L236.86,245.25 L237.48,245.19 L238.10,245.14 L238.71,245.08 L239.33,245.03 L239.95,244.97 L240.56,244.91 L241.18,244.85 L241.80,244.79 L242.41,244.73 L243.03,244.67 L243.65,244.60 L244.26,244.54 L244.88,244.47 L245.50,244.40 L246.11,244.33 L246.73,244.26 L247.35,244.18 L247.96,244.11 L248.58,244.03 L249.20,243.95 L249.81,243.87 L250.43,243.79 L251.05,243.70 L251.66,243.62 L252.28,243.53 L252.90,243.43 L253.51,243.27 L254.13,243.11 L254.75,242.96 L255.36,242.82 L255.98,242.69 L256.60,242.57" fill="none" stroke="rgb(192,20,60)" stroke-width="2.0" stroke-dasharray="1.9 2"/>
<path d="M71.60,249.89 L72.22,249.89 L72.83,249.90 L73.45,249.90 L74.07,249.91 L74.68,249.91 L75.30,249.92 L75.92,249.92 L76.53,249.92 L77.15,249.93 L77.77,249.93 L78.38,249.94 L79.00,249.94 L79.62,249.94 L80.23,249.95 L80.85,249.95 L81.47,249.96 L82.08,249.96 L82.70,249.96 L83.32,249.97 L83.93,249.97 L84.55,249.98 L85.17,249.98 L85.78,249.98 L86.40,249.99 L87.02,249.99 L87.63,249.99 L88.25,250.00 L88.87,250.00 L89.48,250.00 L90.10,250.01 L90.72,250.01 L91.33,250.01 L91.95,250.02 L92.57,250.02 L93.18,250.02 L93.80,250.03 L94.42,250.03 L95.03,250.03 L95.65,250.04 L96.27,250.04 L96.88,250.04 L97.50,250.05 L98.12,250.05 L98.73,250.05 L99.35,250.06 L99.97,250.06 L100.58,250.06 L101.20,250.07 L101.82,250.07 L102.43,250.07 L103.05,250.08 L103.67,250.08 L104.28,250.08 L104.90,250.09 L105.52,250.09 L106.13,250.09 L106.75,250.09 L107.37,250.10 L107.98,250.10 L108.60,250.10 L109.22,250.11 L109.83,250.11 L110.45,250.11 L111.07,250.12 L111.68,250.12 L112.30,250.12 L112.92,250.12 L113.53,250.12 L114.15,250.13 L114.77,250.13 L115.38,250.13 L116.00,250.13 L116.62,250.13 L117.23,250.14 L117.85,250.14 L118.47,250.14 L119.08,250.14 L119.70,250.14 L120.32,250.14 L120.93,250.14 L121.55,250.14 L122.17,250.13 L122.78,250.11 L123.40,250.10 L124.02,250.07 L124.63,250.05 L125.25,250.02 L125.87,249.98 L126.48,249.95 L127.10,249.91 L127.72,249.87 L128.33,249.83 L128.95,249.79 L129.57,249.75 L130.18,249.71 L130.80,249.67 L131.42,249.63 L132.03,249.59 L132.65,249.55 L133.26,249.52 L133.88,249.48 L134.50,249.45 L135.11,249.41 L135.73,249.38 L136.35,249.34 L136.96,249.30 L137.58,249.27 L138.20,249.23 L138.81,249.20 L139.43,249.17 L140.05,249.14 L140.66,249.12 L141.28,249.10 L141.90,249.07 L142.51,249.05 L143.13,249.03 L143.75,249.01 L144.36,248.98 L144.98,248.95 L145.60,248.92 L146.21,248.88 L146.83,248.83 L147.45,248.77 L148.06,248.71 L148.68,248.64 L149.30,248.57 L149.91,248.50 L150.53,248.43 L151.15,248.36 L151.76,248.30 L152.38,248.24 L153.00,248.18 L153.61,248.13 L154.23,248.07 L154.85,248.01 L155.46,247.96 L156.08,247.90 L156.70,247.85 L157.31,247.79 L157.93,247.74 L158.55,247.69 L159.16,247.63 L159.78,247.58 L160.40,247.53 L161.01,247.47 L161.63,247.42 L162.25,247.37 L162.86,247.31 L163.48,247.26 L164.10,247.21 L164.71,247.16 L165.33,247.11 L165.95,247.05 L166.56,247.00 L167.18,246.95 L167.80,246.90 L168.41,246.84 L169.03,246.79 L169.65,246.74 L170.26,246.68 L170.88,246.63 L171.50,246.58 L172.11,246.52 L172.73,246.47 L173.35,246.41 L173.96,246.36 L174.58,246.30 L175.20,246.24 L175.81,246.19 L176.43,246.13 L177.05,246.08 L177.66,246.02 L178.28,245.97 L178.90,245.91 L179.51,245.86 L180.13,245.81 L180.75,245.75 L181.36,245.70 L181.98,245.65 L182.60,245.60 L183.21,245.55 L183.83,245.49 L184.45,245.44 L185.06,245.39 L185.68,245.33 L186.30,245.28 L186.91,245.22 L187.53,245.17 L188.15,245.11 L188.76,245.05 L189.38,244.99 L190.00,244.93 L190.61,244.87 L191.23,244.81 L191.85,244.74 L192.46,244.68 L193.08,244.61 L193.70,244.54 L194.31,244.47 L194.93,244.39 L195.55,244.32 L196.16,244.24 L196.78,244.16 L197.40,244.08 L198.01,243.99 L198.63,243.89 L199.25,243.80 L199.86,243.69 L200.48,243.58 L201.10,243.47 L201.71,243.35 L202.33,243.23 L202.95,243.10 L203.56,242.97 L204.18,242.84 L204.80,242.70 L205.41,242.56 L206.03,242.42 L206.65,242.27 L207.26,242.12 L207.88,241.97 L208.50,241.82 L209.11,241.66 L209.73,241.50 L210.35,241.35 L210.96,241.19 L211.58,241.03 L212.20,240.87 L212.81,240.71 L213.43,240.55 L214.05,240.39 L214.66,240.23 L215.28,240.07 L215.90,239.91 L216.51,239.75 L217.13,239.59 L217.75,239.44 L218.36,239.29 L218.98,239.14 L219.60,238.99 L220.21,238.84 L220.83,238.69 L221.45,238.54 L222.06,238.39 L222.68,238.24 L223.30,238.10 L223.91,237.95 L224.53,237.80 L225.15,237.65 L225.76,237.50 L226.38,237.35 L227.00,237.20 L227.61,237.04 L228.23,236.89 L228.85,236.74 L229.46,236.58 L230.08,236.42 L230.70,236.26 L231.31,236.10 L231.93,235.93 L232.55,235.76 L233.16,235.59 L233.78,235.42 L234.40,235.25 L235.01,235.07 L235.63,234.89 L236.25,234.71 L236.86,234.52 L237.48,234.33 L238.10,234.13 L238.71,233.94 L239.33,233.73 L239.95,233.53 L240.56,233.32 L241.18,233.11 L241.80,232.89 L242.41,232.67 L243.03,232.45 L243.65,232.23 L244.26,232.00 L244.88,231.77 L245.50,231.54 L246.11,231.31 L246.73,231.07 L247.35,230.84 L247.96,230.60 L248.58,230.36 L249.20,230.12 L249.81,229.88 L250.43,229.63 L251.05,229.39 L251.66,229.15 L252.28,228.90 L252.90,228.65 L253.51,228.33 L254.13,228.03 L254.75,227.76 L255.36,227.53 L255.98,227.33 L256.60,227.15" fill="none" stroke="rgb(86,165,230)" stroke-width="2.0" stroke-linejoin="round"/>
<path d="M71.60,252.28 L72.22,252.25 L72.83,252.23 L73.45,252.21 L74.07,252.19 L74.68,252.16 L75.30,252.14 L75.92,252.12 L76.53,252.09 L77.15,252.07 L77.77,252.05 L78.38,252.02 L79.00,252.00 L79.62,251.97 L80.23,251.95 L80.85,251.93 L81.47,251.90 L82.08,251.88 L82.70,251.85 L83.32,251.83 L83.93,251.80 L84.55,251.78 L85.17,251.75 L85.78,251.73 L86.40,251.70 L87.02,251.68 L87.63,251.65 L88.25,251.63 L88.87,251.60 L89.48,251.57 L90.10,251.55 L90.72,251.52 L91.33,251.50 L91.95,251.47 L92.57,251.44 L93.18,251.42 L93.80,251.39 L94.42,251.36 L95.03,251.34 L95.65,251.31 L96.27,251.28 L96.88,251.25 L97.50,251.23 L98.12,251.20 L98.73,251.17 L99.35,251.14 L99.97,251.12 L100.58,251.09 L101.20,251.06 L101.82,251.03 L102.43,251.00 L103.05,250.97 L103.67,250.94 L104.28,250.91 L104.90,250.88 L105.52,250.86 L106.13,250.83 L106.75,250.80 L107.37,250.77 L107.98,250.74 L108.60,250.71 L109.22,250.68 L109.83,250.65 L110.45,250.61 L111.07,250.58 L111.68,250.55 L112.30,250.52 L112.92,250.49 L113.53,250.46 L114.15,250.43 L114.77,250.40 L115.38,250.37 L116.00,250.34 L116.62,250.31 L117.23,250.28 L117.85,250.24 L118.47,250.21 L119.08,250.18 L119.70,250.15 L120.32,250.12 L120.93,250.09 L121.55,250.06 L122.17,250.03 L122.78,250.00 L123.40,249.97 L124.02,249.94 L124.63,249.91 L125.25,249.88 L125.87,249.85 L126.48,249.82 L127.10,249.79 L127.72,249.76 L128.33,249.73 L128.95,249.69 L129.57,249.66 L130.18,249.63 L130.80,249.59 L131.42,249.56 L132.03,249.52 L132.65,249.48 L133.26,249.44 L133.88,249.40 L134.50,249.35 L135.11,249.29 L135.73,249.24 L136.35,249.18 L136.96,249.12 L137.58,249.07 L138.20,249.02 L138.81,248.98 L139.43,248.95 L140.05,248.92 L140.66,248.90 L141.28,248.88 L141.90,248.86 L142.51,248.85 L143.13,248.83 L143.75,248.81 L144.36,248.79 L144.98,248.77 L145.60,248.75 L146.21,248.71 L146.83,248.67 L147.45,248.61 L148.06,248.55 L148.68,248.49 L149.30,248.43 L149.91,248.38 L150.53,248.34 L151.15,248.31 L151.76,248.30 L152.38,248.30 L153.00,248.30 L153.61,248.30 L154.23,248.30 L154.85,248.31 L155.46,248.31 L156.08,248.31 L156.70,248.31 L157.31,248.32 L157.93,248.32 L158.55,248.33 L159.16,248.33 L159.78,248.34 L160.40,248.34 L161.01,248.35 L161.63,248.35 L162.25,248.36 L162.86,248.37 L163.48,248.37 L164.10,248.38 L164.71,248.39 L165.33,248.40 L165.95,248.40 L166.56,248.41 L167.18,248.42 L167.80,248.43 L168.41,248.44 L169.03,248.45 L169.65,248.46 L170.26,248.46 L170.88,248.47 L171.50,248.48 L172.11,248.49 L172.73,248.50 L173.35,248.51 L173.96,248.52 L174.58,248.53 L175.20,248.54 L175.81,248.55 L176.43,248.56 L177.05,248.57 L177.66,248.58 L178.28,248.59 L178.90,248.60 L179.51,248.61 L180.13,248.61 L180.75,248.62 L181.36,248.63 L181.98,248.64 L182.60,248.65 L183.21,248.66 L183.83,248.67 L184.45,248.68 L185.06,248.68 L185.68,248.69 L186.30,248.70 L186.91,248.71 L187.53,248.72 L188.15,248.72 L188.76,248.73 L189.38,248.74 L190.00,248.74 L190.61,248.75 L191.23,248.75 L191.85,248.76 L192.46,248.77 L193.08,248.77 L193.70,248.77 L194.31,248.78 L194.93,248.78 L195.55,248.79 L196.16,248.79 L196.78,248.79 L197.40,248.79 L198.01,248.79 L198.63,248.80 L199.25,248.80 L199.86,248.80 L200.48,248.80 L201.10,248.79 L201.71,248.79 L202.33,248.79 L202.95,248.78 L203.56,248.77 L204.18,248.76 L204.80,248.75 L205.41,248.74 L206.03,248.73 L206.65,248.72 L207.26,248.70 L207.88,248.69 L208.50,248.67 L209.11,248.66 L209.73,248.64 L210.35,248.62 L210.96,248.60 L211.58,248.58 L212.20,248.56 L212.81,248.54 L213.43,248.52 L214.05,248.50 L214.66,248.48 L215.28,248.46 L215.90,248.44 L216.51,248.42 L217.13,248.40 L217.75,248.38 L218.36,248.36 L218.98,248.34 L219.60,248.32 L220.21,248.30 L220.83,248.28 L221.45,248.26 L222.06,248.24 L222.68,248.22 L223.30,248.20 L223.91,248.18 L224.53,248.16 L225.15,248.15 L225.76,248.13 L226.38,248.12 L227.00,248.10 L227.61,248.09 L228.23,248.08 L228.85,248.07 L229.46,248.06 L230.08,248.05 L230.70,248.04 L231.31,248.03 L231.93,248.03 L232.55,248.02 L233.16,248.01 L233.78,248.00 L234.40,248.00 L235.01,247.99 L235.63,247.98 L236.25,247.97 L236.86,247.97 L237.48,247.96 L238.10,247.95 L238.71,247.95 L239.33,247.94 L239.95,247.93 L240.56,247.93 L241.18,247.92 L241.80,247.92 L242.41,247.91 L243.03,247.90 L243.65,247.90 L244.26,247.89 L244.88,247.89 L245.50,247.88 L246.11,247.88 L246.73,247.87 L247.35,247.87 L247.96,247.86 L248.58,247.86 L249.20,247.85 L249.81,247.85 L250.43,247.84 L251.05,247.84 L251.66,247.83 L252.28,247.83 L252.90,247.83 L253.51,247.82 L254.13,247.81 L254.75,247.80 L255.36,247.79 L255.98,247.78 L256.60,247.77" fill="none" stroke="rgb(31,85,200)" stroke-width="2.0" stroke-dasharray="1.9 2"/>
</g>
<rect x="71.6" y="99.5" width="185.1" height="173.2" fill="none" stroke="#363636" stroke-width="0.9"/>
<path d="M71.60,272.7 V270.2 M71.60,99.5 V102.0 M133.26,272.7 V270.2 M133.26,99.5 V102.0 M194.93,272.7 V270.2 M194.93,99.5 V102.0 M256.60,272.7 V270.2 M256.60,99.5 V102.0 M71.6,248.30 H74.1 M256.7,248.30 H254.2 M71.6,198.60 H74.1 M256.7,198.60 H254.2 M71.6,148.90 H74.1 M256.7,148.90 H254.2 M71.6,99.20 H74.1 M256.7,99.20 H254.2" stroke="#363636" stroke-width="0.9" fill="none"/>
<text x="71.60" y="290.2" font-size="12.2" fill="#262626" text-anchor="middle">1950</text>
<text x="133.26" y="290.2" font-size="12.2" fill="#262626" text-anchor="middle">2000</text>
<text x="194.93" y="290.2" font-size="12.2" fill="#262626" text-anchor="middle">2050</text>
<text x="256.60" y="290.2" font-size="12.2" fill="#262626" text-anchor="middle">2100</text>
<text x="67.8" y="252.60" font-size="12.2" fill="#262626" text-anchor="end">0</text>
<text x="67.8" y="202.90" font-size="12.2" fill="#262626" text-anchor="end">0.2</text>
<text x="67.8" y="153.20" font-size="12.2" fill="#262626" text-anchor="end">0.4</text>
<text x="67.8" y="103.50" font-size="12.2" fill="#262626" text-anchor="end">0.6</text>
<rect x="93.4" y="116.9" width="128.4" height="85.1" fill="#fff"/>
<g clip-path="url(#cs)">
<path d="M93.40,139.43 L94.40,139.23 L95.41,139.04 L96.41,138.85 L97.41,138.67 L98.42,138.50 L99.42,138.33 L100.42,138.18 L101.43,138.03 L102.43,137.90 L103.43,137.78 L104.43,137.68 L105.44,137.59 L106.44,137.52 L107.44,137.47 L108.45,137.44 L109.45,137.43 L110.45,137.43 L111.46,137.44 L112.46,137.45 L113.46,137.47 L114.47,137.50 L115.47,137.52 L116.47,137.55 L117.48,137.58 L118.48,137.60 L119.48,137.63 L120.48,137.66 L121.49,137.68 L122.49,137.70 L123.49,137.71 L124.50,137.72 L125.50,137.72 L126.50,137.72 L127.51,137.70 L128.51,137.66 L129.51,137.62 L130.52,137.57 L131.52,137.50 L132.52,137.44 L133.53,137.36 L134.53,137.29 L135.53,137.21 L136.53,137.13 L137.54,137.05 L138.54,136.97 L139.54,136.90 L140.55,136.83 L141.55,136.75 L142.55,136.66 L143.56,136.56 L144.56,136.45 L145.56,136.34 L146.57,136.23 L147.57,136.12 L148.57,136.02 L149.58,135.92 L150.58,135.83 L151.58,135.75 L152.58,135.69 L153.59,135.64 L154.59,135.61 L155.59,135.60 L156.60,135.62 L157.60,135.68 L158.60,135.78 L159.61,135.91 L160.61,136.06 L161.61,136.23 L162.62,136.41 L163.62,136.59 L164.62,136.77 L165.62,136.95 L166.63,137.11 L167.63,137.25 L168.63,137.37 L169.64,137.46 L170.64,137.50 L171.64,137.51 L172.65,137.49 L173.65,137.44 L174.65,137.37 L175.66,137.30 L176.66,137.21 L177.66,137.13 L178.67,137.04 L179.67,136.97 L180.67,136.91 L181.68,136.87 L182.68,136.85 L183.68,136.83 L184.68,136.82 L185.69,136.80 L186.69,136.79 L187.69,136.78 L188.70,136.77 L189.70,136.76 L190.70,136.74 L191.71,136.73 L192.71,136.70 L193.71,136.67 L194.72,136.60 L195.72,136.33 L196.72,135.89 L197.73,135.30 L198.73,134.62 L199.73,133.86 L200.73,133.08 L201.74,132.30 L202.74,131.57 L203.74,130.92 L204.75,130.33 L205.75,129.75 L206.75,129.17 L207.76,128.59 L208.76,128.01 L209.76,127.42 L210.77,126.81 L211.77,126.18 L212.77,125.53 L213.78,124.84 L214.78,124.14 L215.78,123.40 L216.78,122.65 L217.79,121.88 L218.79,121.08 L219.79,120.27 L220.80,119.44 L221.80,118.59 L221.80,138.15 L220.80,138.15 L219.79,138.16 L218.79,138.18 L217.79,138.20 L216.78,138.23 L215.78,138.26 L214.78,138.30 L213.78,138.35 L212.77,138.39 L211.77,138.45 L210.77,138.50 L209.76,138.57 L208.76,138.63 L207.76,138.70 L206.75,138.77 L205.75,138.84 L204.75,138.92 L203.74,139.00 L202.74,139.09 L201.74,139.20 L200.73,139.32 L199.73,139.47 L198.73,139.64 L197.73,139.83 L196.72,140.05 L195.72,140.29 L194.72,140.56 L193.71,140.86 L192.71,141.20 L191.71,141.78 L190.70,142.59 L189.70,143.50 L188.70,144.37 L187.69,145.15 L186.69,145.92 L185.69,146.69 L184.68,147.47 L183.68,148.24 L182.68,149.03 L181.68,149.84 L180.67,150.65 L179.67,151.45 L178.67,152.25 L177.66,153.02 L176.66,153.76 L175.66,154.47 L174.65,155.12 L173.65,155.75 L172.65,156.34 L171.64,156.91 L170.64,157.46 L169.64,158.01 L168.63,158.57 L167.63,159.13 L166.63,159.72 L165.62,160.33 L164.62,160.96 L163.62,161.60 L162.62,162.24 L161.61,162.89 L160.61,163.53 L159.61,164.16 L158.60,164.78 L157.60,165.37 L156.60,165.93 L155.59,166.49 L154.59,167.03 L153.59,167.56 L152.58,168.08 L151.58,168.60 L150.58,169.11 L149.58,169.63 L148.57,170.15 L147.57,170.67 L146.57,171.20 L145.56,171.73 L144.56,172.25 L143.56,172.77 L142.55,173.27 L141.55,173.76 L140.55,174.24 L139.54,174.69 L138.54,175.12 L137.54,175.53 L136.53,175.93 L135.53,176.31 L134.53,176.69 L133.53,177.06 L132.52,177.43 L131.52,177.79 L130.52,178.16 L129.51,178.53 L128.51,178.92 L127.51,179.31 L126.50,179.72 L125.50,180.14 L124.50,180.58 L123.49,181.05 L122.49,181.53 L121.49,182.03 L120.48,182.54 L119.48,183.06 L118.48,183.60 L117.48,184.14 L116.47,184.70 L115.47,185.27 L114.47,185.84 L113.46,186.41 L112.46,187.00 L111.46,187.58 L110.45,188.17 L109.45,188.75 L108.45,189.35 L107.44,189.94 L106.44,190.55 L105.44,191.16 L104.43,191.77 L103.43,192.40 L102.43,193.03 L101.43,193.66 L100.42,194.30 L99.42,194.95 L98.42,195.60 L97.41,196.26 L96.41,196.93 L95.41,197.60 L94.40,198.28 L93.40,198.96 Z" fill="rgb(242,108,80)" fill-opacity="0.25"/>
<path d="M93.40,140.49 L94.40,140.49 L95.41,140.49 L96.41,140.50 L97.41,140.50 L98.42,140.51 L99.42,140.52 L100.42,140.54 L101.43,140.55 L102.43,140.56 L103.43,140.58 L104.43,140.60 L105.44,140.62 L106.44,140.64 L107.44,140.66 L108.45,140.68 L109.45,140.70 L110.45,140.74 L111.46,140.80 L112.46,140.88 L113.46,140.97 L114.47,141.08 L115.47,141.20 L116.47,141.32 L117.48,141.45 L118.48,141.57 L119.48,141.69 L120.48,141.80 L121.49,141.90 L122.49,141.99 L123.49,142.05 L124.50,142.09 L125.50,142.10 L126.50,142.10 L127.51,142.09 L128.51,142.07 L129.51,142.05 L130.52,142.02 L131.52,141.98 L132.52,141.94 L133.53,141.89 L134.53,141.85 L135.53,141.80 L136.53,141.74 L137.54,141.69 L138.54,141.63 L139.54,141.57 L140.55,141.51 L141.55,141.43 L142.55,141.32 L143.56,141.20 L144.56,141.07 L145.56,140.92 L146.57,140.77 L147.57,140.62 L148.57,140.47 L149.58,140.33 L150.58,140.20 L151.58,140.09 L152.58,139.99 L153.59,139.92 L154.59,139.87 L155.59,139.85 L156.60,139.86 L157.60,139.87 L158.60,139.89 L159.61,139.92 L160.61,139.95 L161.61,139.99 L162.62,140.03 L163.62,140.07 L164.62,140.11 L165.62,140.15 L166.63,140.19 L167.63,140.22 L168.63,140.24 L169.64,140.26 L170.64,140.27 L171.64,140.27 L172.65,140.21 L173.65,140.10 L174.65,139.94 L175.66,139.76 L176.66,139.55 L177.66,139.33 L178.67,139.11 L179.67,138.91 L180.67,138.72 L181.68,138.58 L182.68,138.45 L183.68,138.33 L184.68,138.22 L185.69,138.11 L186.69,138.01 L187.69,137.91 L188.70,137.81 L189.70,137.71 L190.70,137.62 L191.71,137.52 L192.71,137.43 L193.71,137.34 L194.72,137.24 L195.72,137.14 L196.72,137.04 L197.73,136.93 L198.73,136.83 L199.73,136.73 L200.73,136.64 L201.74,136.56 L202.74,136.50 L203.74,136.45 L204.75,136.41 L205.75,136.37 L206.75,136.33 L207.76,136.30 L208.76,136.27 L209.76,136.23 L210.77,136.20 L211.77,136.17 L212.77,136.15 L213.78,136.12 L214.78,136.10 L215.78,136.08 L216.78,136.06 L217.79,136.05 L218.79,136.04 L219.79,136.03 L220.80,136.03 L221.80,136.02 L221.80,145.59 L220.80,145.45 L219.79,145.30 L218.79,145.14 L217.79,144.98 L216.78,144.81 L215.78,144.63 L214.78,144.45 L213.78,144.26 L212.77,144.06 L211.77,143.85 L210.77,143.62 L209.76,143.38 L208.76,143.13 L207.76,142.88 L206.75,142.64 L205.75,142.40 L204.75,142.18 L203.74,141.98 L202.74,141.78 L201.74,141.57 L200.73,141.36 L199.73,141.15 L198.73,140.95 L197.73,140.76 L196.72,140.60 L195.72,140.46 L194.72,140.36 L193.71,140.29 L192.71,140.28 L191.71,140.49 L190.70,140.95 L189.70,141.60 L188.70,142.40 L187.69,143.27 L186.69,144.17 L185.69,145.04 L184.68,145.83 L183.68,146.48 L182.68,147.09 L181.68,147.69 L180.67,148.28 L179.67,148.86 L178.67,149.43 L177.66,149.99 L176.66,150.55 L175.66,151.11 L174.65,151.67 L173.65,152.22 L172.65,152.77 L171.64,153.32 L170.64,153.86 L169.64,154.40 L168.63,154.92 L167.63,155.42 L166.63,155.91 L165.62,156.38 L164.62,156.83 L163.62,157.26 L162.62,157.68 L161.61,158.09 L160.61,158.51 L159.61,158.93 L158.60,159.37 L157.60,159.84 L156.60,160.32 L155.59,160.81 L154.59,161.32 L153.59,161.84 L152.58,162.37 L151.58,162.91 L150.58,163.47 L149.58,164.04 L148.57,164.64 L147.57,165.26 L146.57,165.93 L145.56,166.62 L144.56,167.33 L143.56,168.05 L142.55,168.75 L141.55,169.44 L140.55,170.09 L139.54,170.71 L138.54,171.31 L137.54,171.88 L136.53,172.45 L135.53,173.00 L134.53,173.54 L133.53,174.08 L132.52,174.61 L131.52,175.13 L130.52,175.66 L129.51,176.18 L128.51,176.71 L127.51,177.23 L126.50,177.77 L125.50,178.31 L124.50,178.86 L123.49,179.42 L122.49,179.98 L121.49,180.54 L120.48,181.10 L119.48,181.67 L118.48,182.23 L117.48,182.80 L116.47,183.37 L115.47,183.95 L114.47,184.52 L113.46,185.11 L112.46,185.69 L111.46,186.28 L110.45,186.88 L109.45,187.48 L108.45,188.09 L107.44,188.70 L106.44,189.31 L105.44,189.93 L104.43,190.55 L103.43,191.18 L102.43,191.81 L101.43,192.45 L100.42,193.09 L99.42,193.73 L98.42,194.38 L97.41,195.03 L96.41,195.69 L95.41,196.35 L94.40,197.02 L93.40,197.69 Z" fill="rgb(192,20,60)" fill-opacity="0.26"/>
<path d="M93.40,139.43 L94.40,139.23 L95.41,139.04 L96.41,138.85 L97.41,138.67 L98.42,138.50 L99.42,138.33 L100.42,138.18 L101.43,138.03 L102.43,137.90 L103.43,137.78 L104.43,137.68 L105.44,137.59 L106.44,137.52 L107.44,137.47 L108.45,137.44 L109.45,137.43 L110.45,137.43 L111.46,137.44 L112.46,137.45 L113.46,137.47 L114.47,137.50 L115.47,137.52 L116.47,137.55 L117.48,137.58 L118.48,137.60 L119.48,137.63 L120.48,137.66 L121.49,137.68 L122.49,137.70 L123.49,137.71 L124.50,137.72 L125.50,137.72 L126.50,137.72 L127.51,137.70 L128.51,137.66 L129.51,137.62 L130.52,137.57 L131.52,137.50 L132.52,137.44 L133.53,137.36 L134.53,137.29 L135.53,137.21 L136.53,137.13 L137.54,137.05 L138.54,136.97 L139.54,136.90 L140.55,136.83 L141.55,136.75 L142.55,136.66 L143.56,136.56 L144.56,136.45 L145.56,136.34 L146.57,136.23 L147.57,136.12 L148.57,136.02 L149.58,135.92 L150.58,135.83 L151.58,135.75 L152.58,135.69 L153.59,135.64 L154.59,135.61 L155.59,135.60 L156.60,135.62 L157.60,135.68 L158.60,135.78 L159.61,135.91 L160.61,136.06 L161.61,136.23 L162.62,136.41 L163.62,136.59 L164.62,136.77 L165.62,136.95 L166.63,137.11 L167.63,137.25 L168.63,137.37 L169.64,137.46 L170.64,137.50 L171.64,137.51 L172.65,137.49 L173.65,137.44 L174.65,137.37 L175.66,137.30 L176.66,137.21 L177.66,137.13 L178.67,137.04 L179.67,136.97 L180.67,136.91 L181.68,136.87 L182.68,136.85 L183.68,136.83 L184.68,136.82 L185.69,136.80 L186.69,136.79 L187.69,136.78 L188.70,136.77 L189.70,136.76 L190.70,136.74 L191.71,136.73 L192.71,136.70 L193.71,136.67 L194.72,136.60 L195.72,136.36 L196.72,135.95 L197.73,135.42 L198.73,134.79 L199.73,134.10 L200.73,133.37 L201.74,132.65 L202.74,131.97 L203.74,131.35 L204.75,130.77 L205.75,130.19 L206.75,129.61 L207.76,129.03 L208.76,128.44 L209.76,127.84 L210.77,127.22 L211.77,126.59 L212.77,125.95 L213.78,125.29 L214.78,124.61 L215.78,123.91 L216.78,123.20 L217.79,122.48 L218.79,121.74 L219.79,120.98 L220.80,120.22 L221.80,119.44 L221.80,146.66 L220.80,146.41 L219.79,146.18 L218.79,145.94 L217.79,145.72 L216.78,145.50 L215.78,145.29 L214.78,145.08 L213.78,144.88 L212.77,144.69 L211.77,144.50 L210.77,144.32 L209.76,144.14 L208.76,143.98 L207.76,143.82 L206.75,143.67 L205.75,143.52 L204.75,143.38 L203.74,143.25 L202.74,143.12 L201.74,142.99 L200.73,142.86 L199.73,142.72 L198.73,142.60 L197.73,142.48 L196.72,142.38 L195.72,142.30 L194.72,142.24 L193.71,142.20 L192.71,142.20 L191.71,142.47 L190.70,143.01 L189.70,143.70 L188.70,144.40 L187.69,145.07 L186.69,145.83 L185.69,146.64 L184.68,147.46 L183.68,148.24 L182.68,149.03 L181.68,149.84 L180.67,150.65 L179.67,151.45 L178.67,152.25 L177.66,153.02 L176.66,153.76 L175.66,154.47 L174.65,155.12 L173.65,155.75 L172.65,156.34 L171.64,156.91 L170.64,157.46 L169.64,158.01 L168.63,158.57 L167.63,159.13 L166.63,159.72 L165.62,160.33 L164.62,160.96 L163.62,161.60 L162.62,162.24 L161.61,162.89 L160.61,163.53 L159.61,164.16 L158.60,164.78 L157.60,165.37 L156.60,165.93 L155.59,166.49 L154.59,167.03 L153.59,167.56 L152.58,168.08 L151.58,168.60 L150.58,169.11 L149.58,169.63 L148.57,170.15 L147.57,170.67 L146.57,171.20 L145.56,171.73 L144.56,172.25 L143.56,172.77 L142.55,173.27 L141.55,173.76 L140.55,174.24 L139.54,174.69 L138.54,175.12 L137.54,175.53 L136.53,175.93 L135.53,176.31 L134.53,176.69 L133.53,177.06 L132.52,177.43 L131.52,177.79 L130.52,178.16 L129.51,178.53 L128.51,178.92 L127.51,179.31 L126.50,179.72 L125.50,180.14 L124.50,180.58 L123.49,181.05 L122.49,181.53 L121.49,182.03 L120.48,182.54 L119.48,183.06 L118.48,183.60 L117.48,184.14 L116.47,184.70 L115.47,185.27 L114.47,185.84 L113.46,186.41 L112.46,187.00 L111.46,187.58 L110.45,188.17 L109.45,188.75 L108.45,189.35 L107.44,189.94 L106.44,190.55 L105.44,191.16 L104.43,191.77 L103.43,192.40 L102.43,193.03 L101.43,193.66 L100.42,194.30 L99.42,194.95 L98.42,195.60 L97.41,196.26 L96.41,196.93 L95.41,197.60 L94.40,198.28 L93.40,198.96 Z" fill="rgb(86,165,230)" fill-opacity="0.25"/>
<path d="M93.40,139.43 L94.40,139.23 L95.41,139.04 L96.41,138.85 L97.41,138.67 L98.42,138.50 L99.42,138.33 L100.42,138.18 L101.43,138.03 L102.43,137.90 L103.43,137.78 L104.43,137.68 L105.44,137.59 L106.44,137.52 L107.44,137.47 L108.45,137.44 L109.45,137.43 L110.45,137.43 L111.46,137.44 L112.46,137.45 L113.46,137.47 L114.47,137.50 L115.47,137.52 L116.47,137.55 L117.48,137.58 L118.48,137.60 L119.48,137.63 L120.48,137.66 L121.49,137.68 L122.49,137.70 L123.49,137.71 L124.50,137.72 L125.50,137.72 L126.50,137.72 L127.51,137.70 L128.51,137.66 L129.51,137.62 L130.52,137.57 L131.52,137.50 L132.52,137.44 L133.53,137.36 L134.53,137.29 L135.53,137.21 L136.53,137.13 L137.54,137.05 L138.54,136.97 L139.54,136.90 L140.55,136.83 L141.55,136.75 L142.55,136.66 L143.56,136.56 L144.56,136.45 L145.56,136.34 L146.57,136.23 L147.57,136.12 L148.57,136.02 L149.58,135.92 L150.58,135.83 L151.58,135.75 L152.58,135.69 L153.59,135.64 L154.59,135.61 L155.59,135.60 L156.60,135.62 L157.60,135.68 L158.60,135.78 L159.61,135.91 L160.61,136.06 L161.61,136.23 L162.62,136.41 L163.62,136.59 L164.62,136.77 L165.62,136.95 L166.63,137.11 L167.63,137.25 L168.63,137.37 L169.64,137.46 L170.64,137.50 L171.64,137.51 L172.65,137.49 L173.65,137.44 L174.65,137.37 L175.66,137.30 L176.66,137.21 L177.66,137.13 L178.67,137.04 L179.67,136.97 L180.67,136.91 L181.68,136.87 L182.68,136.85 L183.68,136.83 L184.68,136.81 L185.69,136.79 L186.69,136.77 L187.69,136.76 L188.70,136.74 L189.70,136.73 L190.70,136.72 L191.71,136.70 L192.71,136.69 L193.71,136.67 L194.72,136.65 L195.72,136.62 L196.72,136.60 L197.73,136.57 L198.73,136.54 L199.73,136.51 L200.73,136.49 L201.74,136.47 L202.74,136.45 L203.74,136.45 L204.75,136.45 L205.75,136.45 L206.75,136.46 L207.76,136.47 L208.76,136.48 L209.76,136.49 L210.77,136.50 L211.77,136.52 L212.77,136.54 L213.78,136.56 L214.78,136.59 L215.78,136.62 L216.78,136.65 L217.79,136.69 L218.79,136.73 L219.79,136.78 L220.80,136.82 L221.80,136.87 L221.80,149.21 L220.80,148.77 L219.79,148.34 L218.79,147.91 L217.79,147.49 L216.78,147.08 L215.78,146.68 L214.78,146.28 L213.78,145.90 L212.77,145.52 L211.77,145.14 L210.77,144.75 L209.76,144.37 L208.76,144.00 L207.76,143.64 L206.75,143.30 L205.75,142.97 L204.75,142.67 L203.74,142.40 L202.74,142.14 L201.74,141.87 L200.73,141.61 L199.73,141.34 L198.73,141.09 L197.73,140.86 L196.72,140.66 L195.72,140.49 L194.72,140.37 L193.71,140.30 L192.71,140.28 L191.71,140.49 L190.70,140.95 L189.70,141.60 L188.70,142.40 L187.69,143.27 L186.69,144.17 L185.69,145.04 L184.68,145.83 L183.68,146.48 L182.68,147.09 L181.68,147.69 L180.67,148.28 L179.67,148.86 L178.67,149.43 L177.66,149.99 L176.66,150.55 L175.66,151.11 L174.65,151.67 L173.65,152.22 L172.65,152.77 L171.64,153.32 L170.64,153.86 L169.64,154.40 L168.63,154.92 L167.63,155.42 L166.63,155.91 L165.62,156.38 L164.62,156.83 L163.62,157.26 L162.62,157.68 L161.61,158.09 L160.61,158.51 L159.61,158.93 L158.60,159.37 L157.60,159.84 L156.60,160.32 L155.59,160.81 L154.59,161.32 L153.59,161.84 L152.58,162.37 L151.58,162.91 L150.58,163.47 L149.58,164.04 L148.57,164.64 L147.57,165.26 L146.57,165.93 L145.56,166.62 L144.56,167.33 L143.56,168.05 L142.55,168.75 L141.55,169.44 L140.55,170.09 L139.54,170.71 L138.54,171.31 L137.54,171.88 L136.53,172.45 L135.53,173.00 L134.53,173.54 L133.53,174.08 L132.52,174.61 L131.52,175.13 L130.52,175.66 L129.51,176.18 L128.51,176.71 L127.51,177.23 L126.50,177.77 L125.50,178.31 L124.50,178.86 L123.49,179.42 L122.49,179.98 L121.49,180.54 L120.48,181.10 L119.48,181.67 L118.48,182.23 L117.48,182.80 L116.47,183.37 L115.47,183.95 L114.47,184.52 L113.46,185.11 L112.46,185.69 L111.46,186.28 L110.45,186.88 L109.45,187.48 L108.45,188.09 L107.44,188.70 L106.44,189.31 L105.44,189.93 L104.43,190.55 L103.43,191.18 L102.43,191.81 L101.43,192.45 L100.42,193.09 L99.42,193.73 L98.42,194.38 L97.41,195.03 L96.41,195.69 L95.41,196.35 L94.40,197.02 L93.40,197.69 Z" fill="rgb(31,85,200)" fill-opacity="0.25"/>
<path d="M93.40,139.43 L94.40,139.23 L95.41,139.04 L96.41,138.85 L97.41,138.67 L98.42,138.50 L99.42,138.33 L100.42,138.18 L101.43,138.03 L102.43,137.90 L103.43,137.78 L104.43,137.68 L105.44,137.59 L106.44,137.52 L107.44,137.47 L108.45,137.44 L109.45,137.43 L110.45,137.43 L111.46,137.44 L112.46,137.45 L113.46,137.47 L114.47,137.50 L115.47,137.52 L116.47,137.55 L117.48,137.58 L118.48,137.60 L119.48,137.63 L120.48,137.66 L121.49,137.68 L122.49,137.70 L123.49,137.71 L124.50,137.72 L125.50,137.72 L126.50,137.72 L127.51,137.70 L128.51,137.66 L129.51,137.62 L130.52,137.57 L131.52,137.50 L132.52,137.44 L133.53,137.36 L134.53,137.29 L135.53,137.21 L136.53,137.13 L137.54,137.05 L138.54,136.97 L139.54,136.90 L140.55,136.83 L141.55,136.75 L142.55,136.66 L143.56,136.56 L144.56,136.45 L145.56,136.34 L146.57,136.23 L147.57,136.12 L148.57,136.02 L149.58,135.92 L150.58,135.83 L151.58,135.75 L152.58,135.69 L153.59,135.64 L154.59,135.61 L155.59,135.60 L156.60,135.62 L157.60,135.68 L158.60,135.78 L159.61,135.91 L160.61,136.06 L161.61,136.23 L162.62,136.41 L163.62,136.59 L164.62,136.77 L165.62,136.95 L166.63,137.11 L167.63,137.25 L168.63,137.37 L169.64,137.46 L170.64,137.50 L171.64,137.51 L172.65,137.49 L173.65,137.44 L174.65,137.37 L175.66,137.30 L176.66,137.21 L177.66,137.13 L178.67,137.04 L179.67,136.97 L180.67,136.91 L181.68,136.87 L182.68,136.85 L183.68,136.83 L184.68,136.82 L185.69,136.80 L186.69,136.79 L187.69,136.78 L188.70,136.77 L189.70,136.76 L190.70,136.74 L191.71,136.73 L192.71,136.70 L193.71,136.67 L194.72,136.60 L195.72,136.33 L196.72,135.89 L197.73,135.30 L198.73,134.62 L199.73,133.86 L200.73,133.08 L201.74,132.30 L202.74,131.57 L203.74,130.92 L204.75,130.33 L205.75,129.75 L206.75,129.17 L207.76,128.59 L208.76,128.01 L209.76,127.42 L210.77,126.81 L211.77,126.18 L212.77,125.53 L213.78,124.84 L214.78,124.14 L215.78,123.40 L216.78,122.65 L217.79,121.88 L218.79,121.08 L219.79,120.27 L220.80,119.44 L221.80,118.59" fill="none" stroke="rgb(242,108,80)" stroke-opacity="0.6" stroke-width="0.7"/>
<path d="M93.40,198.96 L94.40,198.28 L95.41,197.60 L96.41,196.93 L97.41,196.26 L98.42,195.60 L99.42,194.95 L100.42,194.30 L101.43,193.66 L102.43,193.03 L103.43,192.40 L104.43,191.77 L105.44,191.16 L106.44,190.55 L107.44,189.94 L108.45,189.35 L109.45,188.75 L110.45,188.17 L111.46,187.58 L112.46,187.00 L113.46,186.41 L114.47,185.84 L115.47,185.27 L116.47,184.70 L117.48,184.14 L118.48,183.60 L119.48,183.06 L120.48,182.54 L121.49,182.03 L122.49,181.53 L123.49,181.05 L124.50,180.58 L125.50,180.14 L126.50,179.72 L127.51,179.31 L128.51,178.92 L129.51,178.53 L130.52,178.16 L131.52,177.79 L132.52,177.43 L133.53,177.06 L134.53,176.69 L135.53,176.31 L136.53,175.93 L137.54,175.53 L138.54,175.12 L139.54,174.69 L140.55,174.24 L141.55,173.76 L142.55,173.27 L143.56,172.77 L144.56,172.25 L145.56,171.73 L146.57,171.20 L147.57,170.67 L148.57,170.15 L149.58,169.63 L150.58,169.11 L151.58,168.60 L152.58,168.08 L153.59,167.56 L154.59,167.03 L155.59,166.49 L156.60,165.93 L157.60,165.37 L158.60,164.78 L159.61,164.16 L160.61,163.53 L161.61,162.89 L162.62,162.24 L163.62,161.60 L164.62,160.96 L165.62,160.33 L166.63,159.72 L167.63,159.13 L168.63,158.57 L169.64,158.01 L170.64,157.46 L171.64,156.91 L172.65,156.34 L173.65,155.75 L174.65,155.12 L175.66,154.47 L176.66,153.76 L177.66,153.02 L178.67,152.25 L179.67,151.45 L180.67,150.65 L181.68,149.84 L182.68,149.03 L183.68,148.24 L184.68,147.47 L185.69,146.69 L186.69,145.92 L187.69,145.15 L188.70,144.37 L189.70,143.50 L190.70,142.59 L191.71,141.78 L192.71,141.20 L193.71,140.86 L194.72,140.56 L195.72,140.29 L196.72,140.05 L197.73,139.83 L198.73,139.64 L199.73,139.47 L200.73,139.32 L201.74,139.20 L202.74,139.09 L203.74,139.00 L204.75,138.92 L205.75,138.84 L206.75,138.77 L207.76,138.70 L208.76,138.63 L209.76,138.57 L210.77,138.50 L211.77,138.45 L212.77,138.39 L213.78,138.35 L214.78,138.30 L215.78,138.26 L216.78,138.23 L217.79,138.20 L218.79,138.18 L219.79,138.16 L220.80,138.15 L221.80,138.15" fill="none" stroke="rgb(242,108,80)" stroke-opacity="0.6" stroke-width="0.7"/>
<path d="M93.40,140.49 L94.40,140.49 L95.41,140.49 L96.41,140.50 L97.41,140.50 L98.42,140.51 L99.42,140.52 L100.42,140.54 L101.43,140.55 L102.43,140.56 L103.43,140.58 L104.43,140.60 L105.44,140.62 L106.44,140.64 L107.44,140.66 L108.45,140.68 L109.45,140.70 L110.45,140.74 L111.46,140.80 L112.46,140.88 L113.46,140.97 L114.47,141.08 L115.47,141.20 L116.47,141.32 L117.48,141.45 L118.48,141.57 L119.48,141.69 L120.48,141.80 L121.49,141.90 L122.49,141.99 L123.49,142.05 L124.50,142.09 L125.50,142.10 L126.50,142.10 L127.51,142.09 L128.51,142.07 L129.51,142.05 L130.52,142.02 L131.52,141.98 L132.52,141.94 L133.53,141.89 L134.53,141.85 L135.53,141.80 L136.53,141.74 L137.54,141.69 L138.54,141.63 L139.54,141.57 L140.55,141.51 L141.55,141.43 L142.55,141.32 L143.56,141.20 L144.56,141.07 L145.56,140.92 L146.57,140.77 L147.57,140.62 L148.57,140.47 L149.58,140.33 L150.58,140.20 L151.58,140.09 L152.58,139.99 L153.59,139.92 L154.59,139.87 L155.59,139.85 L156.60,139.86 L157.60,139.87 L158.60,139.89 L159.61,139.92 L160.61,139.95 L161.61,139.99 L162.62,140.03 L163.62,140.07 L164.62,140.11 L165.62,140.15 L166.63,140.19 L167.63,140.22 L168.63,140.24 L169.64,140.26 L170.64,140.27 L171.64,140.27 L172.65,140.21 L173.65,140.10 L174.65,139.94 L175.66,139.76 L176.66,139.55 L177.66,139.33 L178.67,139.11 L179.67,138.91 L180.67,138.72 L181.68,138.58 L182.68,138.45 L183.68,138.33 L184.68,138.22 L185.69,138.11 L186.69,138.01 L187.69,137.91 L188.70,137.81 L189.70,137.71 L190.70,137.62 L191.71,137.52 L192.71,137.43 L193.71,137.34 L194.72,137.24 L195.72,137.14 L196.72,137.04 L197.73,136.93 L198.73,136.83 L199.73,136.73 L200.73,136.64 L201.74,136.56 L202.74,136.50 L203.74,136.45 L204.75,136.41 L205.75,136.37 L206.75,136.33 L207.76,136.30 L208.76,136.27 L209.76,136.23 L210.77,136.20 L211.77,136.17 L212.77,136.15 L213.78,136.12 L214.78,136.10 L215.78,136.08 L216.78,136.06 L217.79,136.05 L218.79,136.04 L219.79,136.03 L220.80,136.03 L221.80,136.02" fill="none" stroke="rgb(192,20,60)" stroke-opacity="0.6" stroke-width="0.7"/>
<path d="M93.40,197.69 L94.40,197.02 L95.41,196.35 L96.41,195.69 L97.41,195.03 L98.42,194.38 L99.42,193.73 L100.42,193.09 L101.43,192.45 L102.43,191.81 L103.43,191.18 L104.43,190.55 L105.44,189.93 L106.44,189.31 L107.44,188.70 L108.45,188.09 L109.45,187.48 L110.45,186.88 L111.46,186.28 L112.46,185.69 L113.46,185.11 L114.47,184.52 L115.47,183.95 L116.47,183.37 L117.48,182.80 L118.48,182.23 L119.48,181.67 L120.48,181.10 L121.49,180.54 L122.49,179.98 L123.49,179.42 L124.50,178.86 L125.50,178.31 L126.50,177.77 L127.51,177.23 L128.51,176.71 L129.51,176.18 L130.52,175.66 L131.52,175.13 L132.52,174.61 L133.53,174.08 L134.53,173.54 L135.53,173.00 L136.53,172.45 L137.54,171.88 L138.54,171.31 L139.54,170.71 L140.55,170.09 L141.55,169.44 L142.55,168.75 L143.56,168.05 L144.56,167.33 L145.56,166.62 L146.57,165.93 L147.57,165.26 L148.57,164.64 L149.58,164.04 L150.58,163.47 L151.58,162.91 L152.58,162.37 L153.59,161.84 L154.59,161.32 L155.59,160.81 L156.60,160.32 L157.60,159.84 L158.60,159.37 L159.61,158.93 L160.61,158.51 L161.61,158.09 L162.62,157.68 L163.62,157.26 L164.62,156.83 L165.62,156.38 L166.63,155.91 L167.63,155.42 L168.63,154.92 L169.64,154.40 L170.64,153.86 L171.64,153.32 L172.65,152.77 L173.65,152.22 L174.65,151.67 L175.66,151.11 L176.66,150.55 L177.66,149.99 L178.67,149.43 L179.67,148.86 L180.67,148.28 L181.68,147.69 L182.68,147.09 L183.68,146.48 L184.68,145.83 L185.69,145.04 L186.69,144.17 L187.69,143.27 L188.70,142.40 L189.70,141.60 L190.70,140.95 L191.71,140.49 L192.71,140.28 L193.71,140.29 L194.72,140.36 L195.72,140.46 L196.72,140.60 L197.73,140.76 L198.73,140.95 L199.73,141.15 L200.73,141.36 L201.74,141.57 L202.74,141.78 L203.74,141.98 L204.75,142.18 L205.75,142.40 L206.75,142.64 L207.76,142.88 L208.76,143.13 L209.76,143.38 L210.77,143.62 L211.77,143.85 L212.77,144.06 L213.78,144.26 L214.78,144.45 L215.78,144.63 L216.78,144.81 L217.79,144.98 L218.79,145.14 L219.79,145.30 L220.80,145.45 L221.80,145.59" fill="none" stroke="rgb(192,20,60)" stroke-opacity="0.6" stroke-width="0.7"/>
<path d="M93.40,139.43 L94.40,139.23 L95.41,139.04 L96.41,138.85 L97.41,138.67 L98.42,138.50 L99.42,138.33 L100.42,138.18 L101.43,138.03 L102.43,137.90 L103.43,137.78 L104.43,137.68 L105.44,137.59 L106.44,137.52 L107.44,137.47 L108.45,137.44 L109.45,137.43 L110.45,137.43 L111.46,137.44 L112.46,137.45 L113.46,137.47 L114.47,137.50 L115.47,137.52 L116.47,137.55 L117.48,137.58 L118.48,137.60 L119.48,137.63 L120.48,137.66 L121.49,137.68 L122.49,137.70 L123.49,137.71 L124.50,137.72 L125.50,137.72 L126.50,137.72 L127.51,137.70 L128.51,137.66 L129.51,137.62 L130.52,137.57 L131.52,137.50 L132.52,137.44 L133.53,137.36 L134.53,137.29 L135.53,137.21 L136.53,137.13 L137.54,137.05 L138.54,136.97 L139.54,136.90 L140.55,136.83 L141.55,136.75 L142.55,136.66 L143.56,136.56 L144.56,136.45 L145.56,136.34 L146.57,136.23 L147.57,136.12 L148.57,136.02 L149.58,135.92 L150.58,135.83 L151.58,135.75 L152.58,135.69 L153.59,135.64 L154.59,135.61 L155.59,135.60 L156.60,135.62 L157.60,135.68 L158.60,135.78 L159.61,135.91 L160.61,136.06 L161.61,136.23 L162.62,136.41 L163.62,136.59 L164.62,136.77 L165.62,136.95 L166.63,137.11 L167.63,137.25 L168.63,137.37 L169.64,137.46 L170.64,137.50 L171.64,137.51 L172.65,137.49 L173.65,137.44 L174.65,137.37 L175.66,137.30 L176.66,137.21 L177.66,137.13 L178.67,137.04 L179.67,136.97 L180.67,136.91 L181.68,136.87 L182.68,136.85 L183.68,136.83 L184.68,136.82 L185.69,136.80 L186.69,136.79 L187.69,136.78 L188.70,136.77 L189.70,136.76 L190.70,136.74 L191.71,136.73 L192.71,136.70 L193.71,136.67 L194.72,136.60 L195.72,136.36 L196.72,135.95 L197.73,135.42 L198.73,134.79 L199.73,134.10 L200.73,133.37 L201.74,132.65 L202.74,131.97 L203.74,131.35 L204.75,130.77 L205.75,130.19 L206.75,129.61 L207.76,129.03 L208.76,128.44 L209.76,127.84 L210.77,127.22 L211.77,126.59 L212.77,125.95 L213.78,125.29 L214.78,124.61 L215.78,123.91 L216.78,123.20 L217.79,122.48 L218.79,121.74 L219.79,120.98 L220.80,120.22 L221.80,119.44" fill="none" stroke="rgb(86,165,230)" stroke-opacity="0.6" stroke-width="0.7"/>
<path d="M93.40,198.96 L94.40,198.28 L95.41,197.60 L96.41,196.93 L97.41,196.26 L98.42,195.60 L99.42,194.95 L100.42,194.30 L101.43,193.66 L102.43,193.03 L103.43,192.40 L104.43,191.77 L105.44,191.16 L106.44,190.55 L107.44,189.94 L108.45,189.35 L109.45,188.75 L110.45,188.17 L111.46,187.58 L112.46,187.00 L113.46,186.41 L114.47,185.84 L115.47,185.27 L116.47,184.70 L117.48,184.14 L118.48,183.60 L119.48,183.06 L120.48,182.54 L121.49,182.03 L122.49,181.53 L123.49,181.05 L124.50,180.58 L125.50,180.14 L126.50,179.72 L127.51,179.31 L128.51,178.92 L129.51,178.53 L130.52,178.16 L131.52,177.79 L132.52,177.43 L133.53,177.06 L134.53,176.69 L135.53,176.31 L136.53,175.93 L137.54,175.53 L138.54,175.12 L139.54,174.69 L140.55,174.24 L141.55,173.76 L142.55,173.27 L143.56,172.77 L144.56,172.25 L145.56,171.73 L146.57,171.20 L147.57,170.67 L148.57,170.15 L149.58,169.63 L150.58,169.11 L151.58,168.60 L152.58,168.08 L153.59,167.56 L154.59,167.03 L155.59,166.49 L156.60,165.93 L157.60,165.37 L158.60,164.78 L159.61,164.16 L160.61,163.53 L161.61,162.89 L162.62,162.24 L163.62,161.60 L164.62,160.96 L165.62,160.33 L166.63,159.72 L167.63,159.13 L168.63,158.57 L169.64,158.01 L170.64,157.46 L171.64,156.91 L172.65,156.34 L173.65,155.75 L174.65,155.12 L175.66,154.47 L176.66,153.76 L177.66,153.02 L178.67,152.25 L179.67,151.45 L180.67,150.65 L181.68,149.84 L182.68,149.03 L183.68,148.24 L184.68,147.46 L185.69,146.64 L186.69,145.83 L187.69,145.07 L188.70,144.40 L189.70,143.70 L190.70,143.01 L191.71,142.47 L192.71,142.20 L193.71,142.20 L194.72,142.24 L195.72,142.30 L196.72,142.38 L197.73,142.48 L198.73,142.60 L199.73,142.72 L200.73,142.86 L201.74,142.99 L202.74,143.12 L203.74,143.25 L204.75,143.38 L205.75,143.52 L206.75,143.67 L207.76,143.82 L208.76,143.98 L209.76,144.14 L210.77,144.32 L211.77,144.50 L212.77,144.69 L213.78,144.88 L214.78,145.08 L215.78,145.29 L216.78,145.50 L217.79,145.72 L218.79,145.94 L219.79,146.18 L220.80,146.41 L221.80,146.66" fill="none" stroke="rgb(86,165,230)" stroke-opacity="0.6" stroke-width="0.7"/>
<path d="M93.40,139.43 L94.40,139.23 L95.41,139.04 L96.41,138.85 L97.41,138.67 L98.42,138.50 L99.42,138.33 L100.42,138.18 L101.43,138.03 L102.43,137.90 L103.43,137.78 L104.43,137.68 L105.44,137.59 L106.44,137.52 L107.44,137.47 L108.45,137.44 L109.45,137.43 L110.45,137.43 L111.46,137.44 L112.46,137.45 L113.46,137.47 L114.47,137.50 L115.47,137.52 L116.47,137.55 L117.48,137.58 L118.48,137.60 L119.48,137.63 L120.48,137.66 L121.49,137.68 L122.49,137.70 L123.49,137.71 L124.50,137.72 L125.50,137.72 L126.50,137.72 L127.51,137.70 L128.51,137.66 L129.51,137.62 L130.52,137.57 L131.52,137.50 L132.52,137.44 L133.53,137.36 L134.53,137.29 L135.53,137.21 L136.53,137.13 L137.54,137.05 L138.54,136.97 L139.54,136.90 L140.55,136.83 L141.55,136.75 L142.55,136.66 L143.56,136.56 L144.56,136.45 L145.56,136.34 L146.57,136.23 L147.57,136.12 L148.57,136.02 L149.58,135.92 L150.58,135.83 L151.58,135.75 L152.58,135.69 L153.59,135.64 L154.59,135.61 L155.59,135.60 L156.60,135.62 L157.60,135.68 L158.60,135.78 L159.61,135.91 L160.61,136.06 L161.61,136.23 L162.62,136.41 L163.62,136.59 L164.62,136.77 L165.62,136.95 L166.63,137.11 L167.63,137.25 L168.63,137.37 L169.64,137.46 L170.64,137.50 L171.64,137.51 L172.65,137.49 L173.65,137.44 L174.65,137.37 L175.66,137.30 L176.66,137.21 L177.66,137.13 L178.67,137.04 L179.67,136.97 L180.67,136.91 L181.68,136.87 L182.68,136.85 L183.68,136.83 L184.68,136.81 L185.69,136.79 L186.69,136.77 L187.69,136.76 L188.70,136.74 L189.70,136.73 L190.70,136.72 L191.71,136.70 L192.71,136.69 L193.71,136.67 L194.72,136.65 L195.72,136.62 L196.72,136.60 L197.73,136.57 L198.73,136.54 L199.73,136.51 L200.73,136.49 L201.74,136.47 L202.74,136.45 L203.74,136.45 L204.75,136.45 L205.75,136.45 L206.75,136.46 L207.76,136.47 L208.76,136.48 L209.76,136.49 L210.77,136.50 L211.77,136.52 L212.77,136.54 L213.78,136.56 L214.78,136.59 L215.78,136.62 L216.78,136.65 L217.79,136.69 L218.79,136.73 L219.79,136.78 L220.80,136.82 L221.80,136.87" fill="none" stroke="rgb(31,85,200)" stroke-opacity="0.6" stroke-width="0.7"/>
<path d="M93.40,197.69 L94.40,197.02 L95.41,196.35 L96.41,195.69 L97.41,195.03 L98.42,194.38 L99.42,193.73 L100.42,193.09 L101.43,192.45 L102.43,191.81 L103.43,191.18 L104.43,190.55 L105.44,189.93 L106.44,189.31 L107.44,188.70 L108.45,188.09 L109.45,187.48 L110.45,186.88 L111.46,186.28 L112.46,185.69 L113.46,185.11 L114.47,184.52 L115.47,183.95 L116.47,183.37 L117.48,182.80 L118.48,182.23 L119.48,181.67 L120.48,181.10 L121.49,180.54 L122.49,179.98 L123.49,179.42 L124.50,178.86 L125.50,178.31 L126.50,177.77 L127.51,177.23 L128.51,176.71 L129.51,176.18 L130.52,175.66 L131.52,175.13 L132.52,174.61 L133.53,174.08 L134.53,173.54 L135.53,173.00 L136.53,172.45 L137.54,171.88 L138.54,171.31 L139.54,170.71 L140.55,170.09 L141.55,169.44 L142.55,168.75 L143.56,168.05 L144.56,167.33 L145.56,166.62 L146.57,165.93 L147.57,165.26 L148.57,164.64 L149.58,164.04 L150.58,163.47 L151.58,162.91 L152.58,162.37 L153.59,161.84 L154.59,161.32 L155.59,160.81 L156.60,160.32 L157.60,159.84 L158.60,159.37 L159.61,158.93 L160.61,158.51 L161.61,158.09 L162.62,157.68 L163.62,157.26 L164.62,156.83 L165.62,156.38 L166.63,155.91 L167.63,155.42 L168.63,154.92 L169.64,154.40 L170.64,153.86 L171.64,153.32 L172.65,152.77 L173.65,152.22 L174.65,151.67 L175.66,151.11 L176.66,150.55 L177.66,149.99 L178.67,149.43 L179.67,148.86 L180.67,148.28 L181.68,147.69 L182.68,147.09 L183.68,146.48 L184.68,145.83 L185.69,145.04 L186.69,144.17 L187.69,143.27 L188.70,142.40 L189.70,141.60 L190.70,140.95 L191.71,140.49 L192.71,140.28 L193.71,140.30 L194.72,140.37 L195.72,140.49 L196.72,140.66 L197.73,140.86 L198.73,141.09 L199.73,141.34 L200.73,141.61 L201.74,141.87 L202.74,142.14 L203.74,142.40 L204.75,142.67 L205.75,142.97 L206.75,143.30 L207.76,143.64 L208.76,144.00 L209.76,144.37 L210.77,144.75 L211.77,145.14 L212.77,145.52 L213.78,145.90 L214.78,146.28 L215.78,146.68 L216.78,147.08 L217.79,147.49 L218.79,147.91 L219.79,148.34 L220.80,148.77 L221.80,149.21" fill="none" stroke="rgb(31,85,200)" stroke-opacity="0.6" stroke-width="0.7"/>
<path d="M101.43,154.31 L102.43,154.20 L103.43,154.08 L104.43,153.97 L105.44,153.86 L106.44,153.75 L107.44,153.64 L108.45,153.54 L109.45,153.45 L110.45,153.36 L111.46,153.28 L112.46,153.21 L113.46,153.15 L114.47,153.10 L115.47,153.06 L116.47,153.04 L117.48,153.03 L118.48,153.03 L119.48,153.03 L120.48,153.03 L121.49,153.03 L122.49,153.03 L123.49,153.03 L124.50,153.03 L125.50,153.03 L126.50,153.03 L127.51,153.03 L128.51,153.03 L129.51,153.03 L130.52,153.03 L131.52,153.03 L132.52,153.03 L133.53,153.03 L134.53,153.03 L135.53,153.03 L136.53,153.03 L137.54,153.03 L138.54,153.03 L139.54,153.03 L140.55,153.03 L141.55,153.03 L142.55,153.02 L143.56,152.98 L144.56,152.91 L145.56,152.82 L146.57,152.72 L147.57,152.59 L148.57,152.45 L149.58,152.30 L150.58,152.13 L151.58,151.96 L152.58,151.79 L153.59,151.61 L154.59,151.43 L155.59,151.25 L156.60,151.08 L157.60,150.91 L158.60,150.74 L159.61,150.57 L160.61,150.39 L161.61,150.21 L162.62,150.02 L163.62,149.83 L164.62,149.63 L165.62,149.42 L166.63,149.21 L167.63,148.99 L168.63,148.76 L169.64,148.52 L170.64,148.28 L171.64,148.03 L172.65,147.77 L173.65,147.51 L174.65,147.23 L175.66,146.93 L176.66,146.61 L177.66,146.28 L178.67,145.93 L179.67,145.58 L180.67,145.21 L181.68,144.82 L182.68,144.43 L183.68,144.04 L184.68,143.63 L185.69,143.22 L186.69,142.81 L187.69,142.39 L188.70,141.97 L189.70,141.55 L190.70,141.13 L191.71,140.69 L192.71,140.25 L193.71,139.79 L194.72,139.33 L195.72,138.86 L196.72,138.38 L197.73,137.90 L198.73,137.41 L199.73,136.92 L200.73,136.42 L201.74,135.92 L202.74,135.42 L203.74,134.91 L204.75,134.40 L205.75,133.90 L206.75,133.39 L207.76,132.87 L208.76,132.34 L209.76,131.81 L210.77,131.28 L211.77,130.74 L212.77,130.19 L213.78,129.65 L213.78,133.90 L212.77,134.30 L211.77,134.71 L210.77,135.13 L209.76,135.55 L208.76,135.98 L207.76,136.41 L206.75,136.85 L205.75,137.30 L204.75,137.75 L203.74,138.22 L202.74,138.68 L201.74,139.15 L200.73,139.63 L199.73,140.11 L198.73,140.60 L197.73,141.09 L196.72,141.59 L195.72,142.09 L194.72,142.59 L193.71,143.10 L192.71,143.61 L191.71,144.12 L190.70,144.64 L189.70,145.17 L188.70,145.72 L187.69,146.31 L186.69,146.91 L185.69,147.52 L184.68,148.13 L183.68,148.73 L182.68,149.30 L181.68,149.83 L180.67,150.32 L179.67,150.75 L178.67,151.13 L177.66,151.48 L176.66,151.81 L175.66,152.13 L174.65,152.44 L173.65,152.73 L172.65,153.00 L171.64,153.27 L170.64,153.53 L169.64,153.78 L168.63,154.02 L167.63,154.25 L166.63,154.48 L165.62,154.71 L164.62,154.94 L163.62,155.16 L162.62,155.38 L161.61,155.59 L160.61,155.79 L159.61,155.99 L158.60,156.18 L157.60,156.36 L156.60,156.54 L155.59,156.72 L154.59,156.89 L153.59,157.06 L152.58,157.23 L151.58,157.40 L150.58,157.58 L149.58,157.75 L148.57,157.93 L147.57,158.11 L146.57,158.30 L145.56,158.49 L144.56,158.69 L143.56,158.90 L142.55,159.12 L141.55,159.36 L140.55,159.61 L139.54,159.87 L138.54,160.14 L137.54,160.40 L136.53,160.66 L135.53,160.90 L134.53,161.13 L133.53,161.33 L132.52,161.50 L131.52,161.67 L130.52,161.81 L129.51,161.95 L128.51,162.08 L127.51,162.20 L126.50,162.32 L125.50,162.44 L124.50,162.56 L123.49,162.69 L122.49,162.82 L121.49,162.96 L120.48,163.11 L119.48,163.28 L118.48,163.46 L117.48,163.67 L116.47,163.89 L115.47,164.15 L114.47,164.44 L113.46,164.75 L112.46,165.09 L111.46,165.45 L110.45,165.83 L109.45,166.23 L108.45,166.66 L107.44,167.10 L106.44,167.55 L105.44,168.03 L104.43,168.51 L103.43,169.01 L102.43,169.52 L101.43,170.04 Z" fill="#e6e6e6" fill-opacity="0.45"/>
<path d="M101.43,154.31 L102.43,154.20 L103.43,154.08 L104.43,153.97 L105.44,153.86 L106.44,153.75 L107.44,153.64 L108.45,153.54 L109.45,153.45 L110.45,153.36 L111.46,153.28 L112.46,153.21 L113.46,153.15 L114.47,153.10 L115.47,153.06 L116.47,153.04 L117.48,153.03 L118.48,153.03 L119.48,153.03 L120.48,153.03 L121.49,153.03 L122.49,153.03 L123.49,153.03 L124.50,153.03 L125.50,153.03 L126.50,153.03 L127.51,153.03 L128.51,153.03 L129.51,153.03 L130.52,153.03 L131.52,153.03 L132.52,153.03 L133.53,153.03 L134.53,153.03 L135.53,153.03 L136.53,153.03 L137.54,153.03 L138.54,153.03 L139.54,153.03 L140.55,153.03 L141.55,153.03 L142.55,153.02 L143.56,152.98 L144.56,152.91 L145.56,152.82 L146.57,152.72 L147.57,152.59 L148.57,152.45 L149.58,152.30 L150.58,152.13 L151.58,151.96 L152.58,151.79 L153.59,151.61 L154.59,151.43 L155.59,151.25 L156.60,151.08 L157.60,150.91 L158.60,150.74 L159.61,150.57 L160.61,150.39 L161.61,150.21 L162.62,150.02 L163.62,149.83 L164.62,149.63 L165.62,149.42 L166.63,149.21 L167.63,148.99 L168.63,148.76 L169.64,148.52 L170.64,148.28 L171.64,148.03 L172.65,147.77 L173.65,147.51 L174.65,147.23 L175.66,146.93 L176.66,146.61 L177.66,146.28 L178.67,145.93 L179.67,145.58 L180.67,145.21 L181.68,144.82 L182.68,144.43 L183.68,144.04 L184.68,143.63 L185.69,143.22 L186.69,142.81 L187.69,142.39 L188.70,141.97 L189.70,141.55 L190.70,141.13 L191.71,140.69 L192.71,140.25 L193.71,139.79 L194.72,139.33 L195.72,138.86 L196.72,138.38 L197.73,137.90 L198.73,137.41 L199.73,136.92 L200.73,136.42 L201.74,135.92 L202.74,135.42 L203.74,134.91 L204.75,134.40 L205.75,133.90 L206.75,133.39 L207.76,132.87 L208.76,132.34 L209.76,131.81 L210.77,131.28 L211.77,130.74 L212.77,130.19 L213.78,129.65" fill="none" stroke="#f4f4f4" stroke-width="1"/>
<path d="M101.43,170.04 L102.43,169.52 L103.43,169.01 L104.43,168.51 L105.44,168.03 L106.44,167.55 L107.44,167.10 L108.45,166.66 L109.45,166.23 L110.45,165.83 L111.46,165.45 L112.46,165.09 L113.46,164.75 L114.47,164.44 L115.47,164.15 L116.47,163.89 L117.48,163.67 L118.48,163.46 L119.48,163.28 L120.48,163.11 L121.49,162.96 L122.49,162.82 L123.49,162.69 L124.50,162.56 L125.50,162.44 L126.50,162.32 L127.51,162.20 L128.51,162.08 L129.51,161.95 L130.52,161.81 L131.52,161.67 L132.52,161.50 L133.53,161.33 L134.53,161.13 L135.53,160.90 L136.53,160.66 L137.54,160.40 L138.54,160.14 L139.54,159.87 L140.55,159.61 L141.55,159.36 L142.55,159.12 L143.56,158.90 L144.56,158.69 L145.56,158.49 L146.57,158.30 L147.57,158.11 L148.57,157.93 L149.58,157.75 L150.58,157.58 L151.58,157.40 L152.58,157.23 L153.59,157.06 L154.59,156.89 L155.59,156.72 L156.60,156.54 L157.60,156.36 L158.60,156.18 L159.61,155.99 L160.61,155.79 L161.61,155.59 L162.62,155.38 L163.62,155.16 L164.62,154.94 L165.62,154.71 L166.63,154.48 L167.63,154.25 L168.63,154.02 L169.64,153.78 L170.64,153.53 L171.64,153.27 L172.65,153.00 L173.65,152.73 L174.65,152.44 L175.66,152.13 L176.66,151.81 L177.66,151.48 L178.67,151.13 L179.67,150.75 L180.67,150.32 L181.68,149.83 L182.68,149.30 L183.68,148.73 L184.68,148.13 L185.69,147.52 L186.69,146.91 L187.69,146.31 L188.70,145.72 L189.70,145.17 L190.70,144.64 L191.71,144.12 L192.71,143.61 L193.71,143.10 L194.72,142.59 L195.72,142.09 L196.72,141.59 L197.73,141.09 L198.73,140.60 L199.73,140.11 L200.73,139.63 L201.74,139.15 L202.74,138.68 L203.74,138.22 L204.75,137.75 L205.75,137.30 L206.75,136.85 L207.76,136.41 L208.76,135.98 L209.76,135.55 L210.77,135.13 L211.77,134.71 L212.77,134.30 L213.78,133.90" fill="none" stroke="#f4f4f4" stroke-width="1"/>
<path d="M93.40,169.62 L94.40,169.48 L95.41,169.28 L96.41,169.04 L97.41,168.75 L98.42,168.44 L99.42,168.09 L100.42,167.72 L101.43,167.32 L102.43,166.79 L103.43,166.13 L104.43,165.41 L105.44,164.67 L106.44,163.97 L107.44,163.36 L108.45,162.89 L109.45,162.56 L110.45,162.27 L111.46,162.01 L112.46,161.78 L113.46,161.57 L114.47,161.37 L115.47,161.18 L116.47,160.98 L117.48,160.78 L118.48,160.58 L119.48,160.38 L120.48,160.19 L121.49,160.01 L122.49,159.85 L123.49,159.72 L124.50,159.61 L125.50,159.52 L126.50,159.45 L127.51,159.39 L128.51,159.33 L129.51,159.28 L130.52,159.22 L131.52,159.16 L132.52,159.08 L133.53,158.99 L134.53,158.86 L135.53,158.70 L136.53,158.51 L137.54,158.29 L138.54,158.06 L139.54,157.81 L140.55,157.54 L141.55,157.28 L142.55,157.02 L143.56,156.76 L144.56,156.48 L145.56,156.18 L146.57,155.86 L147.57,155.53 L148.57,155.19 L149.58,154.85 L150.58,154.51 L151.58,154.18 L152.58,153.87 L153.59,153.57 L154.59,153.29 L155.59,153.03 L156.60,152.81 L157.60,152.60 L158.60,152.41 L159.61,152.23 L160.61,152.06 L161.61,151.90 L162.62,151.74 L163.62,151.58 L164.62,151.42 L165.62,151.25 L166.63,151.08 L167.63,150.89 L168.63,150.68 L169.64,150.46 L170.64,150.22 L171.64,149.94 L172.65,149.63 L173.65,149.27 L174.65,148.87 L175.66,148.43 L176.66,147.96 L177.66,147.46 L178.67,146.94 L179.67,146.40 L180.67,145.85 L181.68,145.28 L182.68,144.71 L183.68,144.14 L184.68,143.57 L185.69,143.00 L186.69,142.45 L187.69,141.91 L188.70,141.39 L189.70,140.89 L190.70,140.42 L191.71,139.94 L192.71,139.47 L193.71,139.00 L194.72,138.56 L195.72,138.15 L196.72,137.76 L197.73,137.37 L198.73,136.99 L199.73,136.62 L200.73,136.26 L201.74,135.92 L202.74,135.60 L203.74,135.29 L204.75,135.01 L205.75,134.75 L206.75,134.50 L207.76,134.26 L208.76,134.03 L209.76,133.80 L210.77,133.57 L211.77,133.36 L212.77,133.15 L213.78,132.95 L214.78,132.76 L215.78,132.58 L216.78,132.41 L217.79,132.26 L218.79,132.11 L219.79,131.98 L220.80,131.87 L221.80,131.77" fill="none" stroke="rgb(242,108,80)" stroke-width="2"/>
<path d="M93.40,169.62 L94.40,169.48 L95.41,169.28 L96.41,169.04 L97.41,168.75 L98.42,168.44 L99.42,168.09 L100.42,167.72 L101.43,167.32 L102.43,166.79 L103.43,166.13 L104.43,165.41 L105.44,164.67 L106.44,163.97 L107.44,163.36 L108.45,162.89 L109.45,162.56 L110.45,162.27 L111.46,162.01 L112.46,161.78 L113.46,161.57 L114.47,161.37 L115.47,161.18 L116.47,160.98 L117.48,160.78 L118.48,160.58 L119.48,160.38 L120.48,160.19 L121.49,160.01 L122.49,159.85 L123.49,159.72 L124.50,159.61 L125.50,159.52 L126.50,159.45 L127.51,159.39 L128.51,159.33 L129.51,159.28 L130.52,159.22 L131.52,159.16 L132.52,159.08 L133.53,158.99 L134.53,158.86 L135.53,158.70 L136.53,158.52 L137.54,158.30 L138.54,158.07 L139.54,157.82 L140.55,157.56 L141.55,157.29 L142.55,157.02 L143.56,156.75 L144.56,156.45 L145.56,156.11 L146.57,155.74 L147.57,155.36 L148.57,154.96 L149.58,154.57 L150.58,154.18 L151.58,153.80 L152.58,153.45 L153.59,153.13 L154.59,152.84 L155.59,152.61 L156.60,152.41 L157.60,152.24 L158.60,152.08 L159.61,151.94 L160.61,151.81 L161.61,151.69 L162.62,151.58 L163.62,151.47 L164.62,151.35 L165.62,151.24 L166.63,151.11 L167.63,150.97 L168.63,150.81 L169.64,150.64 L170.64,150.44 L171.64,150.22 L172.65,149.94 L173.65,149.60 L174.65,149.21 L175.66,148.78 L176.66,148.30 L177.66,147.79 L178.67,147.25 L179.67,146.68 L180.67,146.10 L181.68,145.50 L182.68,144.90 L183.68,144.29 L184.68,143.68 L185.69,143.09 L186.69,142.51 L187.69,141.94 L188.70,141.40 L189.70,140.90 L190.70,140.41 L191.71,139.94 L192.71,139.46 L193.71,139.00 L194.72,138.56 L195.72,138.15 L196.72,137.76 L197.73,137.37 L198.73,136.99 L199.73,136.62 L200.73,136.26 L201.74,135.92 L202.74,135.60 L203.74,135.29 L204.75,135.01 L205.75,134.75 L206.75,134.50 L207.76,134.26 L208.76,134.03 L209.76,133.80 L210.77,133.57 L211.77,133.36 L212.77,133.15 L213.78,132.95 L214.78,132.76 L215.78,132.58 L216.78,132.41 L217.79,132.26 L218.79,132.11 L219.79,131.98 L220.80,131.87 L221.80,131.77" fill="none" stroke="rgb(86,165,230)" stroke-width="2"/>
<path d="M93.40,168.77 L94.40,168.27 L95.41,167.78 L96.41,167.28 L97.41,166.77 L98.42,166.27 L99.42,165.76 L100.42,165.25 L101.43,164.73 L102.43,164.15 L103.43,163.53 L104.43,162.91 L105.44,162.31 L106.44,161.77 L107.44,161.32 L108.45,160.99 L109.45,160.78 L110.45,160.60 L111.46,160.45 L112.46,160.32 L113.46,160.20 L114.47,160.09 L115.47,159.98 L116.47,159.86 L117.48,159.74 L118.48,159.63 L119.48,159.52 L120.48,159.41 L121.49,159.31 L122.49,159.20 L123.49,159.08 L124.50,158.96 L125.50,158.84 L126.50,158.72 L127.51,158.60 L128.51,158.47 L129.51,158.33 L130.52,158.18 L131.52,158.02 L132.52,157.83 L133.53,157.62 L134.53,157.36 L135.53,157.04 L136.53,156.68 L137.54,156.28 L138.54,155.86 L139.54,155.43 L140.55,154.99 L141.55,154.56 L142.55,154.07 L143.56,153.53 L144.56,152.98 L145.56,152.43 L146.57,151.93 L147.57,151.49 L148.57,151.12 L149.58,150.79 L150.58,150.49 L151.58,150.21 L152.58,149.95 L153.59,149.69 L154.59,149.45 L155.59,149.21 L156.60,148.96 L157.60,148.72 L158.60,148.49 L159.61,148.26 L160.61,148.05 L161.61,147.85 L162.62,147.66 L163.62,147.51 L164.62,147.37 L165.62,147.26 L166.63,147.17 L167.63,147.08 L168.63,146.98 L169.64,146.87 L170.64,146.75 L171.64,146.59 L172.65,146.38 L173.65,146.13 L174.65,145.84 L175.66,145.53 L176.66,145.19 L177.66,144.84 L178.67,144.47 L179.67,144.11 L180.67,143.75 L181.68,143.38 L182.68,142.99 L183.68,142.58 L184.68,142.16 L185.69,141.75 L186.69,141.35 L187.69,140.98 L188.70,140.56 L189.70,140.11 L190.70,139.69 L191.71,139.34 L192.71,139.09 L193.71,139.00 L194.72,139.02 L195.72,139.06 L196.72,139.13 L197.73,139.22 L198.73,139.32 L199.73,139.43 L200.73,139.53 L201.74,139.63 L202.74,139.72 L203.74,139.79 L204.75,139.83 L205.75,139.85 L206.75,139.85 L207.76,139.85 L208.76,139.85 L209.76,139.85 L210.77,139.85 L211.77,139.85 L212.77,139.85 L213.78,139.85 L214.78,139.85 L215.78,139.85 L216.78,139.85 L217.79,139.85 L218.79,139.85 L219.79,139.85 L220.80,139.85 L221.80,139.85" fill="none" stroke="rgb(31,85,200)" stroke-width="2" stroke-dasharray="1.9 2"/>
<path d="M93.40,166.05 L94.40,165.65 L95.41,165.25 L96.41,164.84 L97.41,164.42 L98.42,163.98 L99.42,163.54 L100.42,163.09 L101.43,162.63 L102.43,162.12 L103.43,161.57 L104.43,161.02 L105.44,160.47 L106.44,159.94 L107.44,159.47 L108.45,159.06 L109.45,158.71 L110.45,158.38 L111.46,158.06 L112.46,157.76 L113.46,157.49 L114.47,157.25 L115.47,157.05 L116.47,156.89 L117.48,156.77 L118.48,156.67 L119.48,156.59 L120.48,156.52 L121.49,156.45 L122.49,156.38 L123.49,156.30 L124.50,156.20 L125.50,156.10 L126.50,155.98 L127.51,155.87 L128.51,155.74 L129.51,155.60 L130.52,155.45 L131.52,155.29 L132.52,155.11 L133.53,154.90 L134.53,154.63 L135.53,154.30 L136.53,153.93 L137.54,153.53 L138.54,153.13 L139.54,152.74 L140.55,152.38 L141.55,152.06 L142.55,151.77 L143.56,151.50 L144.56,151.24 L145.56,150.97 L146.57,150.71 L147.57,150.43 L148.57,150.13 L149.58,149.82 L150.58,149.49 L151.58,149.15 L152.58,148.82 L153.59,148.50 L154.59,148.20 L155.59,147.93 L156.60,147.68 L157.60,147.43 L158.60,147.20 L159.61,146.97 L160.61,146.76 L161.61,146.56 L162.62,146.39 L163.62,146.23 L164.62,146.10 L165.62,145.98 L166.63,145.88 L167.63,145.79 L168.63,145.69 L169.64,145.59 L170.64,145.46 L171.64,145.32 L172.65,145.14 L173.65,144.95 L174.65,144.72 L175.66,144.47 L176.66,144.17 L177.66,143.80 L178.67,143.37 L179.67,142.92 L180.67,142.48 L181.68,142.08 L182.68,141.67 L183.68,141.26 L184.68,140.85 L185.69,140.45 L186.69,140.07 L187.69,139.70 L188.70,139.28 L189.70,138.84 L190.70,138.42 L191.71,138.06 L192.71,137.82 L193.71,137.72 L194.72,137.73 L195.72,137.74 L196.72,137.76 L197.73,137.78 L198.73,137.80 L199.73,137.83 L200.73,137.86 L201.74,137.88 L202.74,137.90 L203.74,137.92 L204.75,137.93 L205.75,137.94 L206.75,137.94 L207.76,137.94 L208.76,137.94 L209.76,137.94 L210.77,137.94 L211.77,137.94 L212.77,137.94 L213.78,137.94 L214.78,137.94 L215.78,137.94 L216.78,137.94 L217.79,137.94 L218.79,137.94 L219.79,137.94 L220.80,137.94 L221.80,137.94" fill="none" stroke="rgb(192,20,60)" stroke-width="2" stroke-dasharray="1.9 2"/>
</g>
<rect x="93.4" y="116.9" width="128.4" height="85.1" fill="none" stroke="#363636" stroke-width="0.9"/>
<path d="M93.40,202.0 V200.0 M93.40,116.9 V118.9 M133.53,202.0 V200.0 M133.53,116.9 V118.9 M173.65,202.0 V200.0 M173.65,116.9 V118.9 M213.78,202.0 V200.0 M213.78,116.9 V118.9 M93.4,116.89 H95.4 M221.8,116.89 H219.8 M93.4,138.15 H95.4 M221.8,138.15 H219.8 M93.4,159.41 H95.4 M221.8,159.41 H219.8 M93.4,180.68 H95.4 M221.8,180.68 H219.8 M93.4,201.94 H95.4 M221.8,201.94 H219.8" stroke="#363636" stroke-width="0.9" fill="none"/>
<text x="93.40" y="214.8" font-size="9.6" fill="#262626" text-anchor="middle">1990</text>
<text x="133.53" y="214.8" font-size="9.6" fill="#262626" text-anchor="middle">2000</text>
<text x="173.65" y="214.8" font-size="9.6" fill="#262626" text-anchor="middle">2010</text>
<text x="213.78" y="214.8" font-size="9.6" fill="#262626" text-anchor="middle">2020</text>
<text x="90.8" y="120.29" font-size="9.6" fill="#262626" text-anchor="end">5</text>
<text x="90.8" y="141.55" font-size="9.6" fill="#262626" text-anchor="end">0</text>
<text x="90.8" y="162.81" font-size="9.6" fill="#262626" text-anchor="end">-5</text>
<text x="90.8" y="184.08" font-size="9.6" fill="#262626" text-anchor="end">-10</text>
<text x="90.8" y="205.34" font-size="9.6" fill="#262626" text-anchor="end">-15</text>
<text x="93.4" y="114.0" font-size="10.5" fill="#262626">&#215;</text>
<text x="101.8" y="114.0" font-size="10" fill="#262626">10</text>
<text x="112.6" y="109.6" font-size="7.6" fill="#262626">-3</text>
<rect x="515.31" y="331.80" width="6.50" height="73.50" fill="rgb(86,165,230)" fill-opacity="0.5"/>
<rect x="515.31" y="335.00" width="6.50" height="64.40" fill="rgb(86,165,230)" fill-opacity="0.5"/>
<rect x="515.31" y="379.60" width="6.50" height="1.60" fill="rgb(86,165,230)" fill-opacity="0.9"/>
<rect x="523.16" y="309.70" width="6.50" height="70.90" fill="rgb(86,165,230)" fill-opacity="0.5"/>
<rect x="523.16" y="312.30" width="6.50" height="53.60" fill="rgb(86,165,230)" fill-opacity="0.5"/>
<rect x="523.16" y="327.90" width="6.50" height="1.60" fill="rgb(86,165,230)" fill-opacity="0.9"/>
<rect x="531.00" y="308.60" width="6.50" height="97.90" fill="rgb(86,165,230)" fill-opacity="0.5"/>
<rect x="531.00" y="313.80" width="6.50" height="83.00" fill="rgb(86,165,230)" fill-opacity="0.5"/>
<rect x="531.00" y="348.50" width="6.50" height="1.60" fill="rgb(86,165,230)" fill-opacity="0.9"/>
<rect x="538.84" y="319.00" width="6.50" height="78.70" fill="rgb(86,165,230)" fill-opacity="0.5"/>
<rect x="538.84" y="328.70" width="6.50" height="42.00" fill="rgb(86,165,230)" fill-opacity="0.5"/>
<rect x="538.84" y="339.60" width="6.50" height="1.60" fill="rgb(86,165,230)" fill-opacity="0.9"/>
<rect x="554.53" y="405.20" width="6.50" height="11.00" fill="rgb(31,85,200)" fill-opacity="0.45"/>
<rect x="554.53" y="406.90" width="6.50" height="6.30" fill="rgb(31,85,200)" fill-opacity="0.45"/>
<rect x="554.53" y="409.50" width="6.50" height="1.60" fill="rgb(31,85,200)" fill-opacity="0.9"/>
<rect x="562.37" y="400.00" width="6.50" height="12.80" fill="rgb(31,85,200)" fill-opacity="0.45"/>
<rect x="562.37" y="402.90" width="6.50" height="6.40" fill="rgb(31,85,200)" fill-opacity="0.45"/>
<rect x="562.37" y="405.10" width="6.50" height="1.60" fill="rgb(31,85,200)" fill-opacity="0.9"/>
<rect x="570.22" y="389.20" width="6.50" height="19.60" fill="rgb(31,85,200)" fill-opacity="0.45"/>
<rect x="570.22" y="392.10" width="6.50" height="12.80" fill="rgb(31,85,200)" fill-opacity="0.45"/>
<rect x="570.22" y="397.20" width="6.50" height="1.60" fill="rgb(31,85,200)" fill-opacity="0.9"/>
<rect x="578.06" y="396.50" width="6.50" height="16.30" fill="rgb(31,85,200)" fill-opacity="0.45"/>
<rect x="578.06" y="401.00" width="6.50" height="9.30" fill="rgb(31,85,200)" fill-opacity="0.45"/>
<rect x="578.06" y="406.50" width="6.50" height="1.60" fill="rgb(31,85,200)" fill-opacity="0.9"/>
<rect x="593.74" y="190.90" width="6.50" height="180.40" fill="rgb(242,108,80)" fill-opacity="0.5"/>
<rect x="593.74" y="251.70" width="6.50" height="104.00" fill="rgb(242,108,80)" fill-opacity="0.5"/>
<rect x="593.74" y="269.60" width="6.50" height="1.60" fill="rgb(242,108,80)" fill-opacity="0.9"/>
<rect x="601.59" y="115.10" width="6.50" height="251.70" fill="rgb(242,108,80)" fill-opacity="0.5"/>
<rect x="601.59" y="128.30" width="6.50" height="130.60" fill="rgb(242,108,80)" fill-opacity="0.5"/>
<rect x="601.59" y="216.70" width="6.50" height="1.60" fill="rgb(242,108,80)" fill-opacity="0.9"/>
<rect x="609.43" y="105.00" width="6.50" height="276.90" fill="rgb(242,108,80)" fill-opacity="0.5"/>
<rect x="609.43" y="134.00" width="6.50" height="226.60" fill="rgb(242,108,80)" fill-opacity="0.5"/>
<rect x="609.43" y="241.90" width="6.50" height="1.60" fill="rgb(242,108,80)" fill-opacity="0.9"/>
<rect x="617.27" y="195.10" width="6.50" height="161.40" fill="rgb(242,108,80)" fill-opacity="0.5"/>
<rect x="617.27" y="211.90" width="6.50" height="105.00" fill="rgb(242,108,80)" fill-opacity="0.5"/>
<rect x="617.27" y="255.60" width="6.50" height="1.60" fill="rgb(242,108,80)" fill-opacity="0.9"/>
<rect x="632.96" y="221.30" width="6.50" height="153.80" fill="rgb(192,20,60)" fill-opacity="0.5"/>
<rect x="632.96" y="252.00" width="6.50" height="76.90" fill="rgb(192,20,60)" fill-opacity="0.5"/>
<rect x="632.96" y="285.60" width="6.50" height="1.60" fill="rgb(192,20,60)" fill-opacity="0.9"/>
<rect x="640.80" y="69.00" width="6.50" height="274.00" fill="rgb(192,20,60)" fill-opacity="0.5"/>
<rect x="640.80" y="169.00" width="6.50" height="154.20" fill="rgb(192,20,60)" fill-opacity="0.5"/>
<rect x="640.80" y="232.30" width="6.50" height="1.60" fill="rgb(192,20,60)" fill-opacity="0.9"/>
<rect x="648.65" y="20.60" width="6.50" height="270.50" fill="rgb(192,20,60)" fill-opacity="0.5"/>
<rect x="648.65" y="79.30" width="6.50" height="168.00" fill="rgb(192,20,60)" fill-opacity="0.5"/>
<rect x="648.65" y="192.20" width="6.50" height="1.60" fill="rgb(192,20,60)" fill-opacity="0.9"/>
<rect x="656.49" y="146.80" width="6.50" height="200.00" fill="rgb(192,20,60)" fill-opacity="0.5"/>
<rect x="656.49" y="204.10" width="6.50" height="130.90" fill="rgb(192,20,60)" fill-opacity="0.5"/>
<rect x="656.49" y="271.00" width="6.50" height="1.60" fill="rgb(192,20,60)" fill-opacity="0.9"/>
<rect x="506.8" y="13.4" width="164.7" height="422.90000000000003" fill="none" stroke="#363636" stroke-width="1"/>
<path d="M518.56,436.3 V432.3 M518.56,13.4 V17.4 M526.41,436.3 V432.3 M526.41,13.4 V17.4 M534.25,436.3 V432.3 M534.25,13.4 V17.4 M542.09,436.3 V432.3 M542.09,13.4 V17.4 M557.78,436.3 V432.3 M557.78,13.4 V17.4 M565.62,436.3 V432.3 M565.62,13.4 V17.4 M573.47,436.3 V432.3 M573.47,13.4 V17.4 M581.31,436.3 V432.3 M581.31,13.4 V17.4 M596.99,436.3 V432.3 M596.99,13.4 V17.4 M604.84,436.3 V432.3 M604.84,13.4 V17.4 M612.68,436.3 V432.3 M612.68,13.4 V17.4 M620.52,436.3 V432.3 M620.52,13.4 V17.4 M636.21,436.3 V432.3 M636.21,13.4 V17.4 M644.05,436.3 V432.3 M644.05,13.4 V17.4 M651.90,436.3 V432.3 M651.90,13.4 V17.4 M659.74,436.3 V432.3 M659.74,13.4 V17.4 M506.8,408.45 H510.8 M671.5,408.45 H667.5 M506.8,352.85 H510.8 M671.5,352.85 H667.5 M506.8,297.25 H510.8 M671.5,297.25 H667.5 M506.8,241.65 H510.8 M671.5,241.65 H667.5 M506.8,186.05 H510.8 M671.5,186.05 H667.5 M506.8,130.45 H510.8 M671.5,130.45 H667.5 M506.8,74.85 H510.8 M671.5,74.85 H667.5 M506.8,19.25 H510.8 M671.5,19.25 H667.5" stroke="#363636" stroke-width="1" fill="none"/>
<text x="677.4" y="413.65" font-size="14.5" fill="#262626">0</text>
<text x="677.4" y="358.05" font-size="14.5" fill="#262626">1</text>
<text x="677.4" y="302.45" font-size="14.5" fill="#262626">2</text>
<text x="677.4" y="246.85" font-size="14.5" fill="#262626">3</text>
<text x="677.4" y="191.25" font-size="14.5" fill="#262626">4</text>
<text x="677.4" y="135.65" font-size="14.5" fill="#262626">5</text>
<text x="677.4" y="80.05" font-size="14.5" fill="#262626">6</text>
<text x="677.4" y="24.45" font-size="14.5" fill="#262626">7</text>
<text x="530.33" y="428.9" font-size="9.75" fill="#262626" text-anchor="middle">Kori-ULB</text>
<text x="569.54" y="428.9" font-size="9.75" fill="#262626" text-anchor="middle">PISM</text>
<text x="608.76" y="428.9" font-size="9.75" fill="#262626" text-anchor="middle">Kori-ULB</text>
<text x="647.97" y="428.9" font-size="9.75" fill="#262626" text-anchor="middle">PISM</text>
<text transform="translate(521.86,441.6) rotate(-90)" font-size="9.0" fill="#262626" text-anchor="end">MRI-ESM2-0</text>
<text transform="translate(529.71,441.6) rotate(-90)" font-size="9.0" fill="#262626" text-anchor="end">UKESM1-0-LL</text>
<text transform="translate(537.55,441.6) rotate(-90)" font-size="9.0" fill="#262626" text-anchor="end">CESM2-WACCM</text>
<text transform="translate(545.39,441.6) rotate(-90)" font-size="9.0" fill="#262626" text-anchor="end">IPSL-CM6A-LR</text>
<text transform="translate(561.08,441.6) rotate(-90)" font-size="9.0" fill="#262626" text-anchor="end">MRI-ESM2-0</text>
<text transform="translate(568.92,441.6) rotate(-90)" font-size="9.0" fill="#262626" text-anchor="end">UKESM1-0-LL</text>
<text transform="translate(576.77,441.6) rotate(-90)" font-size="9.0" fill="#262626" text-anchor="end">CESM2-WACCM</text>
<text transform="translate(584.61,441.6) rotate(-90)" font-size="9.0" fill="#262626" text-anchor="end">IPSL-CM6A-LR</text>
<text transform="translate(600.29,441.6) rotate(-90)" font-size="9.0" fill="#262626" text-anchor="end">MRI-ESM2-0</text>
<text transform="translate(608.14,441.6) rotate(-90)" font-size="9.0" fill="#262626" text-anchor="end">UKESM1-0-LL</text>
<text transform="translate(615.98,441.6) rotate(-90)" font-size="9.0" fill="#262626" text-anchor="end">CESM2-WACCM</text>
<text transform="translate(623.82,441.6) rotate(-90)" font-size="9.0" fill="#262626" text-anchor="end">IPSL-CM6A-LR</text>
<text transform="translate(639.51,441.6) rotate(-90)" font-size="9.0" fill="#262626" text-anchor="end">MRI-ESM2-0</text>
<text transform="translate(647.35,441.6) rotate(-90)" font-size="9.0" fill="#262626" text-anchor="end">UKESM1-0-LL</text>
<text transform="translate(655.20,441.6) rotate(-90)" font-size="9.0" fill="#262626" text-anchor="end">CESM2-WACCM</text>
<text transform="translate(663.04,441.6) rotate(-90)" font-size="9.0" fill="#262626" text-anchor="end">IPSL-CM6A-LR</text>
<text x="508.6" y="10.6" font-size="15" font-weight="bold" fill="#000">b</text>
<text x="549.6" y="9.6" font-size="12.3" font-weight="bold" fill="#000" text-anchor="middle">SSP1-2.6</text>
<text x="628.6" y="9.6" font-size="12.3" font-weight="bold" fill="#000" text-anchor="middle">SSP5-8.5</text>
</svg>
</body></html>
